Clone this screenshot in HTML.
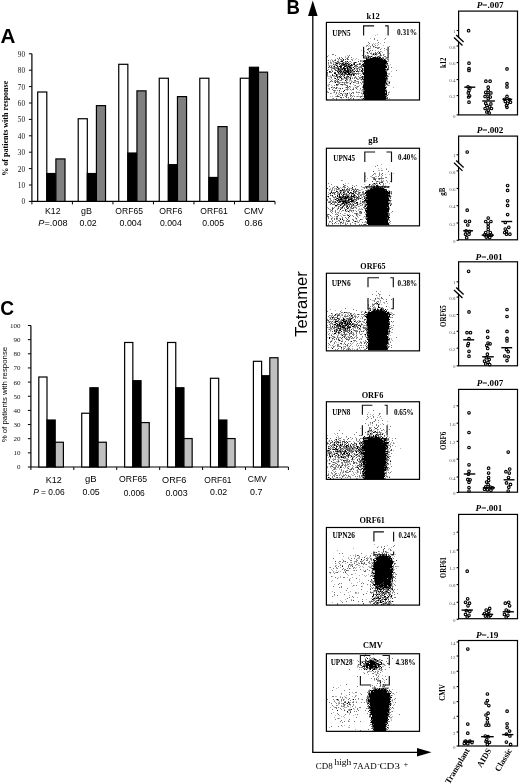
<!DOCTYPE html>
<html><head><meta charset="utf-8"><style>
html,body{margin:0;padding:0;background:#fff;width:520px;height:784px;overflow:hidden}
svg{display:block;will-change:transform}
</style></head><body>
<svg width="520" height="784" viewBox="0 0 520 784">
<defs><filter id="sb" x="0" y="0" width="1" height="1"><feGaussianBlur stdDeviation="0.35"/></filter></defs>
<rect width="520" height="784" fill="#fff"/>
<line x1="31.9" y1="53.80000000000001" x2="31.9" y2="201.4" stroke="#000" stroke-width="1.2"/>
<line x1="28.9" y1="201.4" x2="31.9" y2="201.4" stroke="#000" stroke-width="1"/>
<text x="25" y="204.3" font-family='"Liberation Serif", serif' font-size="7.2" font-weight="normal" font-style="normal" text-anchor="end" fill="#111" >0</text>
<line x1="28.9" y1="185.0" x2="31.9" y2="185.0" stroke="#000" stroke-width="1"/>
<text x="25" y="187.9" font-family='"Liberation Serif", serif' font-size="7.2" font-weight="normal" font-style="normal" text-anchor="end" fill="#111" >10</text>
<line x1="28.9" y1="168.60000000000002" x2="31.9" y2="168.60000000000002" stroke="#000" stroke-width="1"/>
<text x="25" y="171.50000000000003" font-family='"Liberation Serif", serif' font-size="7.2" font-weight="normal" font-style="normal" text-anchor="end" fill="#111" >20</text>
<line x1="28.9" y1="152.20000000000002" x2="31.9" y2="152.20000000000002" stroke="#000" stroke-width="1"/>
<text x="25" y="155.10000000000002" font-family='"Liberation Serif", serif' font-size="7.2" font-weight="normal" font-style="normal" text-anchor="end" fill="#111" >30</text>
<line x1="28.9" y1="135.8" x2="31.9" y2="135.8" stroke="#000" stroke-width="1"/>
<text x="25" y="138.70000000000002" font-family='"Liberation Serif", serif' font-size="7.2" font-weight="normal" font-style="normal" text-anchor="end" fill="#111" >40</text>
<line x1="28.9" y1="119.4" x2="31.9" y2="119.4" stroke="#000" stroke-width="1"/>
<text x="25" y="122.30000000000001" font-family='"Liberation Serif", serif' font-size="7.2" font-weight="normal" font-style="normal" text-anchor="end" fill="#111" >50</text>
<line x1="28.9" y1="103.00000000000001" x2="31.9" y2="103.00000000000001" stroke="#000" stroke-width="1"/>
<text x="25" y="105.90000000000002" font-family='"Liberation Serif", serif' font-size="7.2" font-weight="normal" font-style="normal" text-anchor="end" fill="#111" >60</text>
<line x1="28.9" y1="86.60000000000001" x2="31.9" y2="86.60000000000001" stroke="#000" stroke-width="1"/>
<text x="25" y="89.50000000000001" font-family='"Liberation Serif", serif' font-size="7.2" font-weight="normal" font-style="normal" text-anchor="end" fill="#111" >70</text>
<line x1="28.9" y1="70.20000000000002" x2="31.9" y2="70.20000000000002" stroke="#000" stroke-width="1"/>
<text x="25" y="73.10000000000002" font-family='"Liberation Serif", serif' font-size="7.2" font-weight="normal" font-style="normal" text-anchor="end" fill="#111" >80</text>
<line x1="28.9" y1="53.80000000000001" x2="31.9" y2="53.80000000000001" stroke="#000" stroke-width="1"/>
<text x="25" y="56.70000000000001" font-family='"Liberation Serif", serif' font-size="7.2" font-weight="normal" font-style="normal" text-anchor="end" fill="#111" >90</text>
<line x1="31.9" y1="201.4" x2="275.02" y2="201.4" stroke="#000" stroke-width="1.2"/>
<line x1="31.9" y1="201.4" x2="31.9" y2="204.4" stroke="#000" stroke-width="1"/>
<line x1="72.42" y1="201.4" x2="72.42" y2="204.4" stroke="#000" stroke-width="1"/>
<line x1="112.94" y1="201.4" x2="112.94" y2="204.4" stroke="#000" stroke-width="1"/>
<line x1="153.46" y1="201.4" x2="153.46" y2="204.4" stroke="#000" stroke-width="1"/>
<line x1="193.98000000000002" y1="201.4" x2="193.98000000000002" y2="204.4" stroke="#000" stroke-width="1"/>
<line x1="234.50000000000003" y1="201.4" x2="234.50000000000003" y2="204.4" stroke="#000" stroke-width="1"/>
<line x1="275.02" y1="201.4" x2="275.02" y2="204.4" stroke="#000" stroke-width="1"/>
<rect x="37.70" y="92.01" width="9.10" height="109.39" fill="#fff" stroke="#000" stroke-width="1.2"/>
<rect x="46.80" y="173.52" width="9.10" height="27.88" fill="#000" stroke="#000" stroke-width="1.2"/>
<rect x="55.90" y="158.92" width="9.10" height="42.48" fill="#808080" stroke="#000" stroke-width="1.2"/>
<rect x="78.22" y="118.74" width="9.10" height="82.66" fill="#fff" stroke="#000" stroke-width="1.2"/>
<rect x="87.32" y="173.52" width="9.10" height="27.88" fill="#000" stroke="#000" stroke-width="1.2"/>
<rect x="96.42" y="105.62" width="9.10" height="95.78" fill="#808080" stroke="#000" stroke-width="1.2"/>
<rect x="118.74" y="64.30" width="9.10" height="137.10" fill="#fff" stroke="#000" stroke-width="1.2"/>
<rect x="127.84" y="153.02" width="9.10" height="48.38" fill="#000" stroke="#000" stroke-width="1.2"/>
<rect x="136.94" y="90.86" width="9.10" height="110.54" fill="#808080" stroke="#000" stroke-width="1.2"/>
<rect x="159.26" y="78.24" width="9.10" height="123.16" fill="#fff" stroke="#000" stroke-width="1.2"/>
<rect x="168.36" y="164.66" width="9.10" height="36.74" fill="#000" stroke="#000" stroke-width="1.2"/>
<rect x="177.46" y="96.60" width="9.10" height="104.80" fill="#808080" stroke="#000" stroke-width="1.2"/>
<rect x="199.78" y="78.24" width="9.10" height="123.16" fill="#fff" stroke="#000" stroke-width="1.2"/>
<rect x="208.88" y="177.46" width="9.10" height="23.94" fill="#000" stroke="#000" stroke-width="1.2"/>
<rect x="217.98" y="126.62" width="9.10" height="74.78" fill="#808080" stroke="#000" stroke-width="1.2"/>
<rect x="240.30" y="78.24" width="9.10" height="123.16" fill="#fff" stroke="#000" stroke-width="1.2"/>
<rect x="249.40" y="67.25" width="9.10" height="134.15" fill="#000" stroke="#000" stroke-width="1.2"/>
<rect x="258.50" y="72.17" width="9.10" height="129.23" fill="#808080" stroke="#000" stroke-width="1.2"/>
<text transform="translate(8.4,128.2) rotate(-90)" font-family='"Liberation Serif", serif' font-size="7.5" font-weight="bold" text-anchor="middle" textLength="95" lengthAdjust="spacingAndGlyphs">% of patients with response</text>
<line x1="30.9" y1="325.5" x2="30.9" y2="467" stroke="#000" stroke-width="1.2"/>
<line x1="27.9" y1="467.0" x2="30.9" y2="467.0" stroke="#000" stroke-width="1"/>
<text x="20.4" y="469.4" font-family='"Liberation Serif", serif' font-size="7.0" font-weight="normal" font-style="normal" text-anchor="end" fill="#111" >0</text>
<line x1="27.9" y1="452.85" x2="30.9" y2="452.85" stroke="#000" stroke-width="1"/>
<text x="20.4" y="455.25" font-family='"Liberation Serif", serif' font-size="7.0" font-weight="normal" font-style="normal" text-anchor="end" fill="#111" >10</text>
<line x1="27.9" y1="438.7" x2="30.9" y2="438.7" stroke="#000" stroke-width="1"/>
<text x="20.4" y="441.09999999999997" font-family='"Liberation Serif", serif' font-size="7.0" font-weight="normal" font-style="normal" text-anchor="end" fill="#111" >20</text>
<line x1="27.9" y1="424.55" x2="30.9" y2="424.55" stroke="#000" stroke-width="1"/>
<text x="20.4" y="426.95" font-family='"Liberation Serif", serif' font-size="7.0" font-weight="normal" font-style="normal" text-anchor="end" fill="#111" >30</text>
<line x1="27.9" y1="410.4" x2="30.9" y2="410.4" stroke="#000" stroke-width="1"/>
<text x="20.4" y="412.79999999999995" font-family='"Liberation Serif", serif' font-size="7.0" font-weight="normal" font-style="normal" text-anchor="end" fill="#111" >40</text>
<line x1="27.9" y1="396.25" x2="30.9" y2="396.25" stroke="#000" stroke-width="1"/>
<text x="20.4" y="398.65" font-family='"Liberation Serif", serif' font-size="7.0" font-weight="normal" font-style="normal" text-anchor="end" fill="#111" >50</text>
<line x1="27.9" y1="382.1" x2="30.9" y2="382.1" stroke="#000" stroke-width="1"/>
<text x="20.4" y="384.5" font-family='"Liberation Serif", serif' font-size="7.0" font-weight="normal" font-style="normal" text-anchor="end" fill="#111" >60</text>
<line x1="27.9" y1="367.95" x2="30.9" y2="367.95" stroke="#000" stroke-width="1"/>
<text x="20.4" y="370.34999999999997" font-family='"Liberation Serif", serif' font-size="7.0" font-weight="normal" font-style="normal" text-anchor="end" fill="#111" >70</text>
<line x1="27.9" y1="353.8" x2="30.9" y2="353.8" stroke="#000" stroke-width="1"/>
<text x="20.4" y="356.2" font-family='"Liberation Serif", serif' font-size="7.0" font-weight="normal" font-style="normal" text-anchor="end" fill="#111" >80</text>
<line x1="27.9" y1="339.65" x2="30.9" y2="339.65" stroke="#000" stroke-width="1"/>
<text x="20.4" y="342.04999999999995" font-family='"Liberation Serif", serif' font-size="7.0" font-weight="normal" font-style="normal" text-anchor="end" fill="#111" >90</text>
<line x1="27.9" y1="325.5" x2="30.9" y2="325.5" stroke="#000" stroke-width="1"/>
<text x="20.4" y="327.9" font-family='"Liberation Serif", serif' font-size="7.0" font-weight="normal" font-style="normal" text-anchor="end" fill="#111" >100</text>
<line x1="30.9" y1="467" x2="288.41999999999996" y2="467" stroke="#000" stroke-width="1.2"/>
<line x1="30.9" y1="467" x2="30.9" y2="470" stroke="#000" stroke-width="1"/>
<line x1="73.82" y1="467" x2="73.82" y2="470" stroke="#000" stroke-width="1"/>
<line x1="116.74000000000001" y1="467" x2="116.74000000000001" y2="470" stroke="#000" stroke-width="1"/>
<line x1="159.66" y1="467" x2="159.66" y2="470" stroke="#000" stroke-width="1"/>
<line x1="202.58" y1="467" x2="202.58" y2="470" stroke="#000" stroke-width="1"/>
<line x1="245.50000000000003" y1="467" x2="245.50000000000003" y2="470" stroke="#000" stroke-width="1"/>
<line x1="288.41999999999996" y1="467" x2="288.41999999999996" y2="470" stroke="#000" stroke-width="1"/>
<rect x="38.80" y="377.01" width="8.20" height="89.99" fill="#fff" stroke="#000" stroke-width="1.2"/>
<rect x="47.00" y="420.02" width="8.20" height="46.98" fill="#000" stroke="#000" stroke-width="1.2"/>
<rect x="55.20" y="442.24" width="8.20" height="24.76" fill="#c0c0c0" stroke="#000" stroke-width="1.2"/>
<rect x="81.72" y="413.23" width="8.20" height="53.77" fill="#fff" stroke="#000" stroke-width="1.2"/>
<rect x="89.92" y="387.76" width="8.20" height="79.24" fill="#000" stroke="#000" stroke-width="1.2"/>
<rect x="98.12" y="442.24" width="8.20" height="24.76" fill="#c0c0c0" stroke="#000" stroke-width="1.2"/>
<rect x="124.64" y="342.48" width="8.20" height="124.52" fill="#fff" stroke="#000" stroke-width="1.2"/>
<rect x="132.84" y="380.69" width="8.20" height="86.31" fill="#000" stroke="#000" stroke-width="1.2"/>
<rect x="141.04" y="422.57" width="8.20" height="44.43" fill="#c0c0c0" stroke="#000" stroke-width="1.2"/>
<rect x="167.56" y="342.48" width="8.20" height="124.52" fill="#fff" stroke="#000" stroke-width="1.2"/>
<rect x="175.76" y="387.76" width="8.20" height="79.24" fill="#000" stroke="#000" stroke-width="1.2"/>
<rect x="183.96" y="438.56" width="8.20" height="28.44" fill="#c0c0c0" stroke="#000" stroke-width="1.2"/>
<rect x="210.48" y="378.28" width="8.20" height="88.72" fill="#fff" stroke="#000" stroke-width="1.2"/>
<rect x="218.68" y="420.02" width="8.20" height="46.98" fill="#000" stroke="#000" stroke-width="1.2"/>
<rect x="226.88" y="438.56" width="8.20" height="28.44" fill="#c0c0c0" stroke="#000" stroke-width="1.2"/>
<rect x="253.40" y="361.30" width="8.20" height="105.70" fill="#fff" stroke="#000" stroke-width="1.2"/>
<rect x="261.60" y="375.73" width="8.20" height="91.27" fill="#000" stroke="#000" stroke-width="1.2"/>
<rect x="269.80" y="357.76" width="8.20" height="109.24" fill="#c0c0c0" stroke="#000" stroke-width="1.2"/>
<text transform="translate(6.9,394.6) rotate(-90)" font-family='"Liberation Sans", sans-serif' font-size="7.6" font-weight="normal" text-anchor="middle" textLength="95.5" lengthAdjust="spacingAndGlyphs">% of patients with response</text>
<line x1="312.8" y1="12" x2="312.8" y2="752.3" stroke="#000" stroke-width="1.3"/>
<polygon points="312.8,0.5 308,16 317.6,16" fill="#000"/>
<line x1="312.2" y1="752.3" x2="420" y2="752.3" stroke="#000" stroke-width="1.3"/>
<polygon points="431.5,752.3 417,748 417,756.6" fill="#000"/>
<text transform="translate(307.3,304) rotate(-90)" font-family='"Liberation Sans", sans-serif' font-size="16.6" text-anchor="middle">Tetramer</text>
<text x="315.8" y="768.8" font-family='"Liberation Serif", serif' font-size="8.8" textLength="16.80000000000001" lengthAdjust="spacingAndGlyphs">CD8</text>
<text x="334.5" y="764.6" font-family='"Liberation Serif", serif' font-size="8.8" textLength="16.80000000000001" lengthAdjust="spacingAndGlyphs">high</text>
<text x="352.9" y="768.8" font-family='"Liberation Serif", serif' font-size="8.8" textLength="23.900000000000034" lengthAdjust="spacingAndGlyphs">7AAD</text>
<text x="377.6" y="766.0" font-family='"Liberation Serif", serif' font-size="6.5" textLength="2.1999999999999886" lengthAdjust="spacingAndGlyphs">-</text>
<text x="379.4" y="768.8" font-family='"Liberation Serif", serif' font-size="8.8" textLength="20.5" lengthAdjust="spacingAndGlyphs">CD3</text>
<text x="403.5" y="766.6" font-family='"Liberation Serif", serif' font-size="8.0" textLength="4.800000000000011" lengthAdjust="spacingAndGlyphs">+</text>
<g filter="url(#sb)"><path d="M377 34h1v1h-1zM375 35h1v1h-1zM370 38h1v1h-1zM384 39h1v1h-1zM373 43h1v1h-1zM375 43h1v1h-1zM377 43h1v1h-1zM380 43h1v1h-1zM368 44h1v1h-1zM374 44h1v1h-1zM378 44h1v1h-1zM366 45h1v1h-1zM369 45h1v1h-1zM377 45h1v1h-1zM383 45h1v1h-1zM368 46h1v1h-1zM374 46h1v1h-1zM370 47h1v1h-1zM373 47h1v1h-1zM377 47h1v1h-1zM370 48h1v1h-1zM381 48h1v1h-1zM361 50h1v1h-1zM368 50h1v1h-1zM375 50h1v1h-1zM384 50h1v1h-1zM387 50h1v1h-1zM364 51h1v1h-1zM381 51h1v1h-1zM366 52h1v1h-1zM369 52h1v1h-1zM371 52h1v1h-1zM382 52h1v1h-1zM368 53h1v1h-1zM374 53h1v1h-1zM389 53h1v1h-1zM371 54h2v1h-2zM374 54h1v1h-1zM377 54h1v1h-1zM384 54h1v1h-1zM328 55h1v1h-1zM347 55h1v1h-1zM372 55h1v1h-1zM374 55h1v1h-1zM376 55h1v1h-1zM379 55h1v1h-1zM345 56h1v1h-1zM364 56h1v1h-1zM367 56h1v1h-1zM372 56h1v1h-1zM380 56h1v1h-1zM345 57h1v1h-1zM347 57h1v1h-1zM369 57h1v1h-1zM346 58h1v1h-1zM353 58h1v1h-1zM356 58h1v1h-1zM367 58h1v1h-1zM385 58h1v1h-1zM331 59h1v1h-1zM352 59h1v1h-1zM355 59h1v1h-1zM358 59h1v1h-1zM330 60h1v1h-1zM338 60h1v1h-1zM361 60h2v1h-2zM386 60h1v1h-1zM330 61h1v1h-1zM332 61h1v1h-1zM346 61h1v1h-1zM349 61h1v1h-1zM361 61h2v1h-2zM388 61h1v1h-1zM331 62h1v1h-1zM333 62h2v1h-2zM337 62h1v1h-1zM342 62h1v1h-1zM344 62h1v1h-1zM351 62h1v1h-1zM353 62h1v1h-1zM362 62h1v1h-1zM330 63h1v1h-1zM333 63h1v1h-1zM335 63h1v1h-1zM338 63h1v1h-1zM344 63h1v1h-1zM348 63h1v1h-1zM328 64h1v1h-1zM334 64h1v1h-1zM336 64h2v1h-2zM347 64h1v1h-1zM352 64h1v1h-1zM356 64h1v1h-1zM358 64h1v1h-1zM390 64h1v1h-1zM328 65h5v1h-5zM334 65h2v1h-2zM354 65h1v1h-1zM386 65h1v1h-1zM338 66h1v1h-1zM351 66h1v1h-1zM359 66h1v1h-1zM329 67h1v1h-1zM332 67h2v1h-2zM348 67h1v1h-1zM352 67h1v1h-1zM355 67h2v1h-2zM331 68h1v1h-1zM335 68h1v1h-1zM355 68h1v1h-1zM358 68h2v1h-2zM361 68h1v1h-1zM363 68h1v1h-1zM337 69h1v1h-1zM343 69h1v1h-1zM351 69h1v1h-1zM356 69h1v1h-1zM360 69h1v1h-1zM363 69h1v1h-1zM331 70h2v1h-2zM342 70h1v1h-1zM353 70h1v1h-1zM359 70h1v1h-1zM342 71h1v1h-1zM352 71h1v1h-1zM359 71h2v1h-2zM391 71h1v1h-1zM337 72h1v1h-1zM339 72h1v1h-1zM353 72h2v1h-2zM358 72h1v1h-1zM343 73h1v1h-1zM350 73h2v1h-2zM359 73h2v1h-2zM387 73h3v1h-3zM335 74h1v1h-1zM338 74h1v1h-1zM361 74h1v1h-1zM388 74h2v1h-2zM330 75h1v1h-1zM333 75h1v1h-1zM343 75h1v1h-1zM349 75h1v1h-1zM327 76h5v1h-5zM333 76h2v1h-2zM344 76h1v1h-1zM350 76h2v1h-2zM361 76h1v1h-1zM391 76h1v1h-1zM330 77h1v1h-1zM334 77h1v1h-1zM338 77h1v1h-1zM341 77h1v1h-1zM345 77h1v1h-1zM348 77h1v1h-1zM352 77h1v1h-1zM356 77h1v1h-1zM387 77h1v1h-1zM328 78h2v1h-2zM331 78h1v1h-1zM339 78h1v1h-1zM342 78h3v1h-3zM347 78h2v1h-2zM357 78h1v1h-1zM360 78h1v1h-1zM363 78h1v1h-1zM330 79h1v1h-1zM332 79h1v1h-1zM337 79h1v1h-1zM343 79h1v1h-1zM349 79h1v1h-1zM360 79h1v1h-1zM334 80h1v1h-1zM339 80h1v1h-1zM346 80h2v1h-2zM349 80h3v1h-3zM361 80h1v1h-1zM387 80h1v1h-1zM331 81h1v1h-1zM335 81h1v1h-1zM349 81h1v1h-1zM351 81h2v1h-2zM354 81h3v1h-3zM386 81h1v1h-1zM388 81h2v1h-2zM334 82h1v1h-1zM340 82h2v1h-2zM343 82h1v1h-1zM345 82h1v1h-1zM348 82h1v1h-1zM355 82h1v1h-1zM388 82h1v1h-1zM338 83h1v1h-1zM346 83h2v1h-2zM349 83h1v1h-1zM356 83h2v1h-2zM387 83h2v1h-2zM328 84h1v1h-1zM343 84h1v1h-1zM350 84h1v1h-1zM353 84h1v1h-1zM361 84h1v1h-1zM327 85h2v1h-2zM331 85h1v1h-1zM342 85h1v1h-1zM345 85h1v1h-1zM354 85h1v1h-1zM359 85h1v1h-1zM387 85h1v1h-1zM389 85h1v1h-1zM328 86h1v1h-1zM332 86h1v1h-1zM350 86h1v1h-1zM356 86h1v1h-1zM362 86h1v1h-1zM385 86h2v1h-2zM332 87h2v1h-2zM337 87h1v1h-1zM345 87h1v1h-1zM350 87h1v1h-1zM353 87h1v1h-1zM356 87h2v1h-2zM393 87h1v1h-1zM328 88h1v1h-1zM333 88h1v1h-1zM338 88h2v1h-2zM349 88h1v1h-1zM340 89h1v1h-1zM345 89h1v1h-1zM348 89h1v1h-1zM357 89h1v1h-1zM360 89h1v1h-1zM386 89h1v1h-1zM347 90h1v1h-1zM351 90h1v1h-1zM359 90h1v1h-1zM361 90h2v1h-2zM339 91h1v1h-1zM341 91h1v1h-1zM356 91h1v1h-1zM362 91h1v1h-1zM389 91h1v1h-1zM327 92h1v1h-1zM333 92h1v1h-1zM349 92h1v1h-1zM357 92h1v1h-1zM361 92h1v1h-1zM385 92h1v1h-1zM389 92h1v1h-1zM331 93h1v1h-1zM338 93h1v1h-1zM343 93h2v1h-2zM346 93h1v1h-1zM349 93h1v1h-1zM362 93h1v1h-1zM388 93h1v1h-1zM335 94h1v1h-1zM338 94h2v1h-2zM345 94h1v1h-1zM347 94h1v1h-1zM358 94h1v1h-1zM362 94h2v1h-2zM344 95h1v1h-1zM347 95h1v1h-1zM353 95h1v1h-1zM362 95h1v1h-1zM330 96h1v1h-1zM332 96h1v1h-1zM335 96h1v1h-1zM339 96h1v1h-1zM356 96h1v1h-1zM358 96h2v1h-2zM362 96h2v1h-2zM351 97h1v1h-1zM386 97h1v1h-1zM332 98h1v1h-1zM341 98h1v1h-1zM348 98h1v1h-1zM351 98h1v1h-1zM361 98h2v1h-2zM389 98h1v1h-1zM327 99h1v1h-1zM342 99h1v1h-1zM356 99h1v1h-1zM359 99h1v1h-1zM363 99h1v1h-1z" fill="#b4b4b4"/><path d="M374 38h1v1h-1zM385 38h1v1h-1zM374 39h1v1h-1zM377 40h1v1h-1zM368 42h1v1h-1zM378 42h1v1h-1zM384 42h1v1h-1zM369 43h1v1h-1zM372 44h1v1h-1zM367 45h1v1h-1zM372 45h1v1h-1zM375 45h1v1h-1zM366 46h1v1h-1zM370 46h1v1h-1zM389 46h1v1h-1zM376 47h1v1h-1zM378 47h2v1h-2zM369 48h1v1h-1zM377 48h2v1h-2zM384 48h1v1h-1zM368 49h1v1h-1zM380 49h1v1h-1zM386 49h1v1h-1zM370 50h1v1h-1zM372 50h1v1h-1zM378 51h1v1h-1zM380 51h1v1h-1zM377 52h1v1h-1zM367 53h1v1h-1zM370 53h2v1h-2zM375 53h1v1h-1zM378 53h1v1h-1zM380 53h1v1h-1zM332 54h2v1h-2zM376 54h1v1h-1zM383 54h1v1h-1zM335 55h1v1h-1zM349 55h1v1h-1zM362 55h1v1h-1zM365 55h1v1h-1zM367 55h2v1h-2zM381 55h1v1h-1zM383 55h1v1h-1zM327 56h1v1h-1zM348 56h1v1h-1zM365 56h2v1h-2zM370 56h1v1h-1zM375 56h1v1h-1zM377 56h1v1h-1zM379 56h1v1h-1zM384 56h2v1h-2zM339 57h1v1h-1zM341 57h1v1h-1zM348 57h1v1h-1zM351 57h1v1h-1zM366 57h1v1h-1zM372 57h1v1h-1zM378 57h1v1h-1zM382 57h2v1h-2zM337 58h1v1h-1zM368 58h2v1h-2zM382 58h1v1h-1zM335 59h1v1h-1zM338 59h1v1h-1zM340 59h2v1h-2zM348 59h1v1h-1zM351 59h1v1h-1zM383 59h1v1h-1zM385 59h1v1h-1zM387 59h2v1h-2zM332 60h1v1h-1zM334 60h1v1h-1zM341 60h2v1h-2zM352 60h1v1h-1zM360 60h1v1h-1zM363 60h1v1h-1zM388 60h1v1h-1zM333 61h1v1h-1zM338 61h1v1h-1zM340 61h1v1h-1zM350 61h1v1h-1zM360 61h1v1h-1zM387 61h1v1h-1zM328 62h1v1h-1zM330 62h1v1h-1zM336 62h1v1h-1zM339 62h1v1h-1zM345 62h2v1h-2zM356 62h1v1h-1zM328 63h1v1h-1zM331 63h1v1h-1zM339 63h1v1h-1zM341 63h1v1h-1zM349 63h2v1h-2zM353 63h1v1h-1zM360 63h1v1h-1zM360 64h1v1h-1zM386 64h2v1h-2zM337 65h1v1h-1zM347 65h1v1h-1zM349 65h1v1h-1zM362 65h1v1h-1zM387 65h2v1h-2zM333 66h1v1h-1zM355 66h2v1h-2zM360 66h3v1h-3zM388 66h1v1h-1zM330 67h1v1h-1zM334 67h5v1h-5zM346 67h1v1h-1zM351 67h1v1h-1zM358 67h3v1h-3zM391 67h1v1h-1zM332 68h1v1h-1zM336 68h1v1h-1zM339 68h2v1h-2zM346 68h1v1h-1zM349 68h1v1h-1zM356 68h1v1h-1zM385 68h1v1h-1zM387 68h2v1h-2zM328 69h1v1h-1zM331 69h1v1h-1zM334 69h2v1h-2zM353 69h2v1h-2zM357 69h1v1h-1zM386 69h1v1h-1zM337 70h1v1h-1zM339 70h1v1h-1zM341 70h1v1h-1zM343 70h1v1h-1zM349 70h1v1h-1zM351 70h1v1h-1zM355 70h1v1h-1zM363 70h1v1h-1zM386 70h2v1h-2zM396 70h1v1h-1zM338 71h1v1h-1zM344 71h1v1h-1zM330 72h2v1h-2zM341 72h1v1h-1zM349 72h1v1h-1zM351 72h2v1h-2zM362 72h1v1h-1zM327 73h1v1h-1zM339 73h3v1h-3zM354 73h1v1h-1zM356 73h3v1h-3zM327 74h1v1h-1zM337 74h1v1h-1zM339 74h2v1h-2zM343 74h1v1h-1zM345 74h1v1h-1zM352 74h1v1h-1zM356 74h1v1h-1zM358 74h1v1h-1zM327 75h1v1h-1zM334 75h1v1h-1zM337 75h1v1h-1zM342 75h1v1h-1zM347 75h1v1h-1zM350 75h1v1h-1zM354 75h1v1h-1zM360 75h1v1h-1zM335 76h1v1h-1zM337 76h2v1h-2zM340 76h1v1h-1zM343 76h1v1h-1zM346 76h1v1h-1zM355 76h1v1h-1zM358 76h1v1h-1zM363 76h1v1h-1zM388 76h1v1h-1zM331 77h1v1h-1zM339 77h1v1h-1zM347 77h1v1h-1zM349 77h1v1h-1zM354 77h2v1h-2zM359 77h2v1h-2zM363 77h1v1h-1zM334 78h1v1h-1zM337 78h1v1h-1zM352 78h1v1h-1zM354 78h1v1h-1zM359 78h1v1h-1zM336 79h1v1h-1zM341 79h2v1h-2zM347 79h1v1h-1zM350 79h1v1h-1zM357 79h2v1h-2zM362 79h1v1h-1zM387 79h1v1h-1zM331 80h1v1h-1zM337 80h1v1h-1zM340 80h2v1h-2zM354 80h1v1h-1zM363 80h1v1h-1zM386 80h1v1h-1zM332 81h1v1h-1zM334 81h1v1h-1zM336 81h1v1h-1zM338 81h1v1h-1zM346 81h1v1h-1zM357 81h2v1h-2zM362 81h1v1h-1zM387 81h1v1h-1zM329 82h1v1h-1zM337 82h3v1h-3zM344 82h1v1h-1zM347 82h1v1h-1zM351 82h1v1h-1zM354 82h1v1h-1zM358 82h1v1h-1zM360 82h1v1h-1zM362 82h1v1h-1zM386 82h1v1h-1zM339 83h1v1h-1zM344 83h1v1h-1zM358 83h1v1h-1zM361 83h1v1h-1zM363 83h1v1h-1zM389 83h1v1h-1zM329 84h1v1h-1zM338 84h1v1h-1zM340 84h1v1h-1zM344 84h2v1h-2zM385 84h1v1h-1zM334 85h1v1h-1zM336 85h2v1h-2zM346 85h2v1h-2zM355 85h1v1h-1zM388 85h1v1h-1zM357 86h2v1h-2zM347 87h2v1h-2zM355 87h1v1h-1zM362 87h1v1h-1zM329 88h1v1h-1zM335 88h1v1h-1zM347 88h1v1h-1zM353 88h1v1h-1zM360 88h1v1h-1zM329 89h1v1h-1zM332 89h1v1h-1zM346 89h2v1h-2zM350 89h1v1h-1zM352 89h1v1h-1zM362 89h1v1h-1zM385 89h1v1h-1zM333 90h3v1h-3zM337 90h1v1h-1zM363 90h1v1h-1zM327 91h1v1h-1zM334 91h1v1h-1zM328 92h1v1h-1zM334 92h1v1h-1zM336 92h1v1h-1zM339 92h1v1h-1zM352 92h2v1h-2zM356 92h1v1h-1zM358 92h2v1h-2zM388 92h1v1h-1zM330 93h1v1h-1zM336 93h1v1h-1zM340 93h1v1h-1zM345 93h1v1h-1zM353 93h1v1h-1zM361 93h1v1h-1zM346 94h1v1h-1zM350 94h1v1h-1zM388 94h1v1h-1zM337 95h1v1h-1zM340 95h1v1h-1zM350 95h2v1h-2zM386 95h1v1h-1zM336 96h1v1h-1zM345 96h2v1h-2zM350 96h1v1h-1zM352 96h1v1h-1zM354 96h1v1h-1zM357 96h1v1h-1zM360 96h1v1h-1zM343 97h1v1h-1zM348 97h1v1h-1zM360 97h1v1h-1zM333 98h1v1h-1zM336 98h1v1h-1zM350 98h1v1h-1zM336 99h1v1h-1zM346 99h1v1h-1zM348 99h2v1h-2zM353 99h1v1h-1zM358 99h1v1h-1z" fill="#7c7c7c"/><path d="M373 46h1v1h-1zM375 47h1v1h-1zM368 48h1v1h-1zM367 49h1v1h-1zM369 51h1v1h-1zM367 52h1v1h-1zM375 52h1v1h-1zM373 53h1v1h-1zM376 53h1v1h-1zM379 53h1v1h-1zM380 54h1v1h-1zM380 55h1v1h-1zM368 56h2v1h-2zM378 56h1v1h-1zM370 57h1v1h-1zM376 57h1v1h-1zM339 58h1v1h-1zM342 58h1v1h-1zM347 58h1v1h-1zM380 58h1v1h-1zM383 58h1v1h-1zM345 59h1v1h-1zM347 59h1v1h-1zM328 60h1v1h-1zM335 60h1v1h-1zM343 60h1v1h-1zM337 61h1v1h-1zM345 61h1v1h-1zM358 61h1v1h-1zM335 62h1v1h-1zM338 62h1v1h-1zM343 62h1v1h-1zM348 62h1v1h-1zM354 62h1v1h-1zM340 63h1v1h-1zM343 63h1v1h-1zM346 63h1v1h-1zM359 63h1v1h-1zM363 63h1v1h-1zM386 63h1v1h-1zM333 64h1v1h-1zM335 64h1v1h-1zM339 64h1v1h-1zM341 64h2v1h-2zM345 64h2v1h-2zM349 64h1v1h-1zM353 64h1v1h-1zM357 64h1v1h-1zM359 64h1v1h-1zM364 64h1v1h-1zM385 64h1v1h-1zM340 65h6v1h-6zM348 65h1v1h-1zM352 65h1v1h-1zM355 65h2v1h-2zM361 65h1v1h-1zM329 66h1v1h-1zM331 66h1v1h-1zM346 66h2v1h-2zM350 66h1v1h-1zM354 66h1v1h-1zM357 66h1v1h-1zM328 67h1v1h-1zM331 67h1v1h-1zM341 67h1v1h-1zM344 67h1v1h-1zM361 67h1v1h-1zM388 67h1v1h-1zM333 68h2v1h-2zM337 68h1v1h-1zM341 68h2v1h-2zM348 68h1v1h-1zM350 68h1v1h-1zM357 68h1v1h-1zM339 69h3v1h-3zM345 69h1v1h-1zM348 69h3v1h-3zM352 69h1v1h-1zM359 69h1v1h-1zM388 69h1v1h-1zM327 70h1v1h-1zM335 70h2v1h-2zM338 70h1v1h-1zM346 70h1v1h-1zM357 70h1v1h-1zM362 70h1v1h-1zM385 70h1v1h-1zM330 71h1v1h-1zM332 71h1v1h-1zM340 71h1v1h-1zM345 71h1v1h-1zM349 71h3v1h-3zM353 71h1v1h-1zM357 71h2v1h-2zM361 71h1v1h-1zM386 71h1v1h-1zM327 72h1v1h-1zM329 72h1v1h-1zM334 72h2v1h-2zM342 72h2v1h-2zM346 72h1v1h-1zM363 72h1v1h-1zM338 73h1v1h-1zM344 73h1v1h-1zM346 73h1v1h-1zM352 73h2v1h-2zM355 73h1v1h-1zM362 73h1v1h-1zM332 74h1v1h-1zM342 74h1v1h-1zM344 74h1v1h-1zM346 74h1v1h-1zM350 74h1v1h-1zM354 74h1v1h-1zM340 75h1v1h-1zM351 75h1v1h-1zM387 75h1v1h-1zM336 76h1v1h-1zM341 76h1v1h-1zM347 76h1v1h-1zM386 76h2v1h-2zM346 77h1v1h-1zM350 77h1v1h-1zM361 77h2v1h-2zM385 77h1v1h-1zM345 78h2v1h-2zM356 78h1v1h-1zM387 78h1v1h-1zM346 79h1v1h-1zM361 79h1v1h-1zM386 79h1v1h-1zM335 80h1v1h-1zM355 80h1v1h-1zM330 81h1v1h-1zM337 81h1v1h-1zM363 81h1v1h-1zM342 82h1v1h-1zM346 82h1v1h-1zM353 82h1v1h-1zM363 82h1v1h-1zM385 83h1v1h-1zM337 84h1v1h-1zM341 84h2v1h-2zM363 84h1v1h-1zM386 84h2v1h-2zM385 85h1v1h-1zM347 86h1v1h-1zM349 86h1v1h-1zM331 87h1v1h-1zM334 87h1v1h-1zM336 87h1v1h-1zM346 87h1v1h-1zM386 87h1v1h-1zM336 88h1v1h-1zM340 88h1v1h-1zM342 88h1v1h-1zM356 88h1v1h-1zM363 88h1v1h-1zM353 89h1v1h-1zM363 89h1v1h-1zM339 90h1v1h-1zM364 90h1v1h-1zM386 90h1v1h-1zM363 91h1v1h-1zM385 91h1v1h-1zM363 92h1v1h-1zM341 93h1v1h-1zM351 93h1v1h-1zM342 94h1v1h-1zM342 95h1v1h-1zM346 95h1v1h-1zM385 95h1v1h-1zM387 95h1v1h-1zM337 96h2v1h-2zM361 96h1v1h-1zM386 96h1v1h-1zM340 97h2v1h-2zM346 97h1v1h-1zM387 97h1v1h-1zM353 98h1v1h-1zM364 98h1v1h-1zM386 98h2v1h-2zM362 99h1v1h-1zM385 99h1v1h-1z" fill="#484848"/><path d="M379 52h1v1h-1zM373 54h1v1h-1zM375 54h1v1h-1zM371 56h1v1h-1zM368 57h1v1h-1zM373 57h3v1h-3zM377 57h1v1h-1zM379 57h2v1h-2zM366 58h1v1h-1zM370 58h10v1h-10zM381 58h1v1h-1zM343 59h1v1h-1zM366 59h17v1h-17zM384 59h1v1h-1zM364 60h22v1h-22zM341 61h2v1h-2zM347 61h1v1h-1zM363 61h24v1h-24zM355 62h1v1h-1zM364 62h23v1h-23zM336 63h2v1h-2zM342 63h1v1h-1zM345 63h1v1h-1zM347 63h1v1h-1zM354 63h1v1h-1zM364 63h22v1h-22zM387 63h1v1h-1zM343 64h2v1h-2zM348 64h1v1h-1zM351 64h1v1h-1zM354 64h1v1h-1zM362 64h2v1h-2zM365 64h20v1h-20zM336 65h1v1h-1zM346 65h1v1h-1zM350 65h2v1h-2zM363 65h23v1h-23zM334 66h1v1h-1zM337 66h1v1h-1zM339 66h3v1h-3zM344 66h2v1h-2zM348 66h2v1h-2zM363 66h24v1h-24zM340 67h1v1h-1zM343 67h1v1h-1zM347 67h1v1h-1zM349 67h2v1h-2zM353 67h1v1h-1zM364 67h23v1h-23zM338 68h1v1h-1zM343 68h3v1h-3zM347 68h1v1h-1zM351 68h1v1h-1zM354 68h1v1h-1zM362 68h1v1h-1zM364 68h21v1h-21zM338 69h1v1h-1zM342 69h1v1h-1zM344 69h1v1h-1zM347 69h1v1h-1zM362 69h1v1h-1zM364 69h22v1h-22zM387 69h1v1h-1zM340 70h1v1h-1zM344 70h2v1h-2zM347 70h2v1h-2zM350 70h1v1h-1zM352 70h1v1h-1zM361 70h1v1h-1zM364 70h21v1h-21zM329 71h1v1h-1zM337 71h1v1h-1zM339 71h1v1h-1zM341 71h1v1h-1zM343 71h1v1h-1zM346 71h3v1h-3zM354 71h1v1h-1zM356 71h1v1h-1zM362 71h1v1h-1zM364 71h22v1h-22zM338 72h1v1h-1zM340 72h1v1h-1zM344 72h2v1h-2zM347 72h2v1h-2zM350 72h1v1h-1zM364 72h23v1h-23zM334 73h2v1h-2zM342 73h1v1h-1zM345 73h1v1h-1zM348 73h2v1h-2zM363 73h24v1h-24zM336 74h1v1h-1zM341 74h1v1h-1zM347 74h3v1h-3zM351 74h1v1h-1zM353 74h1v1h-1zM363 74h24v1h-24zM332 75h1v1h-1zM336 75h1v1h-1zM344 75h1v1h-1zM353 75h1v1h-1zM364 75h23v1h-23zM339 76h1v1h-1zM348 76h1v1h-1zM362 76h1v1h-1zM364 76h22v1h-22zM337 77h1v1h-1zM340 77h1v1h-1zM344 77h1v1h-1zM364 77h21v1h-21zM386 77h1v1h-1zM335 78h1v1h-1zM341 78h1v1h-1zM350 78h1v1h-1zM362 78h1v1h-1zM364 78h23v1h-23zM338 79h1v1h-1zM363 79h23v1h-23zM345 80h1v1h-1zM364 80h22v1h-22zM364 81h22v1h-22zM335 82h1v1h-1zM364 82h22v1h-22zM389 82h1v1h-1zM350 83h1v1h-1zM364 83h21v1h-21zM386 83h1v1h-1zM336 84h1v1h-1zM364 84h21v1h-21zM363 85h22v1h-22zM363 86h22v1h-22zM363 87h23v1h-23zM364 88h22v1h-22zM364 89h21v1h-21zM344 90h1v1h-1zM365 90h21v1h-21zM343 91h1v1h-1zM364 91h21v1h-21zM386 91h1v1h-1zM364 92h21v1h-21zM386 92h1v1h-1zM347 93h1v1h-1zM363 93h24v1h-24zM364 94h23v1h-23zM364 95h21v1h-21zM364 96h22v1h-22zM364 97h22v1h-22zM363 98h1v1h-1zM365 98h21v1h-21zM364 99h21v1h-21z" fill="#000"/></g><path d="M374.10 25.90H363.60V35.40M385.10 25.90H388.10V35.40M363.60 46.70V58.00H368.60M388.10 46.70V58.00H385.60" fill="none" stroke="#111" stroke-width="1.15"/>
<rect x="326.4" y="22.4" width="93.10000000000002" height="77.6" fill="none" stroke="#000" stroke-width="1.2"/>
<g filter="url(#sb)"><path d="M381 164h1v1h-1zM378 168h1v1h-1zM381 168h1v1h-1zM386 168h1v1h-1zM378 170h2v1h-2zM382 170h1v1h-1zM379 172h1v1h-1zM375 173h1v1h-1zM393 173h1v1h-1zM375 174h1v1h-1zM385 174h1v1h-1zM389 174h1v1h-1zM365 176h1v1h-1zM370 176h2v1h-2zM375 176h2v1h-2zM381 176h1v1h-1zM367 178h1v1h-1zM375 178h2v1h-2zM378 179h1v1h-1zM381 179h1v1h-1zM342 180h1v1h-1zM366 180h1v1h-1zM383 180h1v1h-1zM378 181h2v1h-2zM383 181h1v1h-1zM387 181h1v1h-1zM376 182h1v1h-1zM387 182h1v1h-1zM345 183h1v1h-1zM348 183h1v1h-1zM375 183h1v1h-1zM377 183h1v1h-1zM385 183h1v1h-1zM389 183h1v1h-1zM364 184h1v1h-1zM370 184h1v1h-1zM373 184h2v1h-2zM377 184h1v1h-1zM368 185h1v1h-1zM372 185h1v1h-1zM378 185h1v1h-1zM382 185h1v1h-1zM385 185h1v1h-1zM365 186h1v1h-1zM371 186h1v1h-1zM380 186h1v1h-1zM332 187h1v1h-1zM338 187h1v1h-1zM340 187h1v1h-1zM342 187h2v1h-2zM348 187h1v1h-1zM362 187h1v1h-1zM369 187h1v1h-1zM330 188h1v1h-1zM334 188h2v1h-2zM341 188h1v1h-1zM344 188h1v1h-1zM350 188h1v1h-1zM367 188h1v1h-1zM369 188h1v1h-1zM384 188h1v1h-1zM330 189h1v1h-1zM334 189h1v1h-1zM339 189h1v1h-1zM343 189h1v1h-1zM354 189h1v1h-1zM356 189h1v1h-1zM358 189h1v1h-1zM361 189h2v1h-2zM367 189h1v1h-1zM369 189h1v1h-1zM329 190h1v1h-1zM332 190h1v1h-1zM336 190h1v1h-1zM339 190h1v1h-1zM347 190h2v1h-2zM353 190h1v1h-1zM358 190h1v1h-1zM360 190h1v1h-1zM388 190h2v1h-2zM339 191h1v1h-1zM354 191h1v1h-1zM357 191h2v1h-2zM362 191h1v1h-1zM388 191h1v1h-1zM390 191h1v1h-1zM328 192h1v1h-1zM330 192h1v1h-1zM332 192h1v1h-1zM341 192h1v1h-1zM390 192h1v1h-1zM333 193h1v1h-1zM338 193h1v1h-1zM341 193h3v1h-3zM345 193h1v1h-1zM350 193h1v1h-1zM362 193h1v1h-1zM390 193h1v1h-1zM330 194h1v1h-1zM335 194h1v1h-1zM337 194h1v1h-1zM347 194h1v1h-1zM349 194h1v1h-1zM352 194h1v1h-1zM359 194h2v1h-2zM391 194h1v1h-1zM331 195h1v1h-1zM345 195h1v1h-1zM349 195h1v1h-1zM363 195h1v1h-1zM390 195h1v1h-1zM333 196h1v1h-1zM338 196h1v1h-1zM349 196h1v1h-1zM355 196h1v1h-1zM361 196h1v1h-1zM365 196h1v1h-1zM391 196h1v1h-1zM328 197h1v1h-1zM336 197h1v1h-1zM352 197h1v1h-1zM359 197h1v1h-1zM361 197h1v1h-1zM389 197h1v1h-1zM334 198h1v1h-1zM339 198h1v1h-1zM361 198h1v1h-1zM333 199h2v1h-2zM357 199h1v1h-1zM363 199h1v1h-1zM389 199h1v1h-1zM330 200h1v1h-1zM333 200h1v1h-1zM354 200h2v1h-2zM360 200h1v1h-1zM391 200h1v1h-1zM328 201h1v1h-1zM334 201h1v1h-1zM338 201h1v1h-1zM389 201h1v1h-1zM352 202h1v1h-1zM360 202h1v1h-1zM365 202h1v1h-1zM390 202h1v1h-1zM330 203h1v1h-1zM348 203h2v1h-2zM359 203h1v1h-1zM361 203h1v1h-1zM363 203h4v1h-4zM390 203h1v1h-1zM347 204h1v1h-1zM352 204h1v1h-1zM358 204h2v1h-2zM364 204h1v1h-1zM337 205h1v1h-1zM341 205h1v1h-1zM345 205h1v1h-1zM354 205h2v1h-2zM357 205h1v1h-1zM361 205h2v1h-2zM364 205h1v1h-1zM335 206h2v1h-2zM352 206h1v1h-1zM354 206h2v1h-2zM359 206h1v1h-1zM327 207h1v1h-1zM344 207h1v1h-1zM347 207h1v1h-1zM354 207h1v1h-1zM356 207h1v1h-1zM389 207h1v1h-1zM337 208h1v1h-1zM340 208h1v1h-1zM342 208h1v1h-1zM350 208h1v1h-1zM359 208h1v1h-1zM361 208h1v1h-1zM329 209h2v1h-2zM349 209h2v1h-2zM358 209h4v1h-4zM366 209h1v1h-1zM330 210h1v1h-1zM332 210h1v1h-1zM339 210h1v1h-1zM347 210h1v1h-1zM352 210h1v1h-1zM355 210h1v1h-1zM358 210h1v1h-1zM339 211h1v1h-1zM341 211h1v1h-1zM345 211h1v1h-1zM347 211h1v1h-1zM349 211h1v1h-1zM353 211h1v1h-1zM361 211h1v1h-1zM337 212h1v1h-1zM349 212h1v1h-1zM352 212h1v1h-1zM391 212h1v1h-1zM332 213h1v1h-1zM336 213h1v1h-1zM338 213h1v1h-1zM344 213h2v1h-2zM359 213h1v1h-1zM365 213h1v1h-1zM329 214h1v1h-1zM336 214h1v1h-1zM342 214h1v1h-1zM349 214h1v1h-1zM357 214h2v1h-2zM340 215h1v1h-1zM345 215h1v1h-1zM357 215h1v1h-1zM360 215h1v1h-1zM331 216h1v1h-1zM334 216h1v1h-1zM341 216h1v1h-1zM365 216h1v1h-1zM332 217h1v1h-1zM336 217h2v1h-2zM355 217h1v1h-1zM358 217h1v1h-1zM363 217h1v1h-1zM365 217h1v1h-1zM332 218h1v1h-1zM339 218h1v1h-1zM348 218h1v1h-1zM355 218h1v1h-1zM337 219h1v1h-1zM353 219h1v1h-1zM356 219h1v1h-1zM362 219h1v1h-1zM389 219h1v1h-1zM344 220h1v1h-1zM357 220h1v1h-1zM388 220h1v1h-1zM336 221h2v1h-2zM341 221h1v1h-1zM343 221h1v1h-1zM357 221h1v1h-1zM359 221h1v1h-1zM366 221h1v1h-1zM329 222h1v1h-1zM331 222h1v1h-1zM345 222h1v1h-1zM357 222h1v1h-1zM364 222h2v1h-2zM388 222h1v1h-1zM328 223h1v1h-1zM336 223h1v1h-1zM343 223h1v1h-1zM354 223h1v1h-1zM366 223h1v1h-1zM390 223h1v1h-1zM332 224h1v1h-1zM340 224h1v1h-1zM346 224h1v1h-1zM355 224h1v1h-1zM366 224h1v1h-1zM389 224h1v1h-1z" fill="#b4b4b4"/><path d="M377 165h1v1h-1zM375 166h1v1h-1zM386 169h1v1h-1zM381 170h1v1h-1zM388 171h1v1h-1zM374 173h1v1h-1zM379 173h1v1h-1zM373 174h1v1h-1zM379 174h1v1h-1zM381 174h1v1h-1zM372 175h1v1h-1zM379 175h1v1h-1zM382 175h1v1h-1zM378 176h1v1h-1zM372 177h3v1h-3zM381 177h1v1h-1zM385 177h2v1h-2zM373 178h1v1h-1zM378 178h1v1h-1zM380 178h4v1h-4zM373 179h1v1h-1zM379 179h1v1h-1zM341 180h1v1h-1zM375 180h1v1h-1zM381 180h1v1h-1zM386 180h1v1h-1zM376 181h1v1h-1zM381 181h2v1h-2zM390 181h1v1h-1zM379 182h2v1h-2zM328 183h1v1h-1zM373 183h1v1h-1zM383 183h1v1h-1zM331 184h1v1h-1zM372 184h1v1h-1zM375 184h1v1h-1zM380 184h1v1h-1zM383 184h1v1h-1zM344 185h2v1h-2zM352 185h1v1h-1zM356 185h1v1h-1zM369 185h1v1h-1zM371 185h1v1h-1zM373 185h2v1h-2zM383 185h1v1h-1zM329 186h1v1h-1zM334 186h1v1h-1zM336 186h2v1h-2zM344 186h1v1h-1zM347 186h1v1h-1zM354 186h1v1h-1zM361 186h1v1h-1zM367 186h1v1h-1zM373 186h1v1h-1zM379 186h1v1h-1zM381 186h1v1h-1zM385 186h1v1h-1zM388 186h1v1h-1zM333 187h1v1h-1zM344 187h2v1h-2zM363 187h2v1h-2zM371 187h1v1h-1zM379 187h1v1h-1zM381 187h1v1h-1zM385 187h1v1h-1zM387 187h2v1h-2zM332 188h1v1h-1zM336 188h1v1h-1zM339 188h1v1h-1zM349 188h1v1h-1zM351 188h2v1h-2zM355 188h1v1h-1zM364 188h1v1h-1zM366 188h1v1h-1zM329 189h1v1h-1zM332 189h1v1h-1zM336 189h3v1h-3zM347 189h3v1h-3zM368 189h1v1h-1zM331 190h1v1h-1zM334 190h1v1h-1zM344 190h3v1h-3zM359 190h1v1h-1zM365 190h2v1h-2zM340 191h2v1h-2zM343 191h3v1h-3zM363 191h1v1h-1zM391 191h1v1h-1zM334 192h1v1h-1zM337 192h2v1h-2zM347 192h1v1h-1zM353 192h2v1h-2zM358 192h1v1h-1zM360 192h1v1h-1zM363 192h1v1h-1zM391 192h1v1h-1zM329 193h1v1h-1zM337 193h1v1h-1zM340 193h1v1h-1zM344 193h1v1h-1zM355 193h2v1h-2zM358 193h2v1h-2zM363 193h2v1h-2zM328 194h1v1h-1zM334 194h1v1h-1zM338 194h1v1h-1zM345 194h1v1h-1zM348 194h1v1h-1zM351 194h1v1h-1zM353 194h1v1h-1zM358 194h1v1h-1zM361 194h4v1h-4zM348 195h1v1h-1zM355 195h1v1h-1zM358 195h1v1h-1zM361 195h1v1h-1zM327 196h1v1h-1zM332 196h1v1h-1zM341 196h1v1h-1zM346 196h1v1h-1zM350 196h1v1h-1zM354 196h1v1h-1zM359 196h1v1h-1zM363 196h1v1h-1zM366 196h1v1h-1zM333 197h3v1h-3zM338 197h1v1h-1zM353 197h1v1h-1zM355 197h2v1h-2zM358 197h1v1h-1zM362 197h1v1h-1zM365 197h1v1h-1zM390 197h1v1h-1zM329 198h2v1h-2zM338 198h1v1h-1zM342 198h1v1h-1zM347 198h1v1h-1zM349 198h1v1h-1zM354 198h1v1h-1zM357 198h1v1h-1zM359 198h1v1h-1zM365 198h1v1h-1zM327 199h1v1h-1zM330 199h1v1h-1zM336 199h1v1h-1zM343 199h2v1h-2zM346 199h1v1h-1zM352 199h2v1h-2zM356 199h1v1h-1zM362 199h1v1h-1zM327 200h1v1h-1zM331 200h1v1h-1zM336 200h1v1h-1zM340 200h1v1h-1zM349 200h1v1h-1zM329 201h2v1h-2zM332 201h2v1h-2zM337 201h1v1h-1zM349 201h1v1h-1zM354 201h2v1h-2zM360 201h1v1h-1zM365 201h1v1h-1zM388 201h1v1h-1zM390 201h1v1h-1zM328 202h1v1h-1zM330 202h1v1h-1zM332 202h3v1h-3zM336 202h1v1h-1zM340 202h1v1h-1zM342 202h1v1h-1zM351 202h1v1h-1zM353 202h2v1h-2zM363 202h2v1h-2zM388 202h2v1h-2zM334 203h1v1h-1zM337 203h1v1h-1zM341 203h1v1h-1zM345 203h1v1h-1zM352 203h1v1h-1zM354 203h1v1h-1zM356 203h1v1h-1zM391 203h1v1h-1zM330 204h1v1h-1zM332 204h3v1h-3zM339 204h2v1h-2zM342 204h1v1h-1zM345 204h2v1h-2zM349 204h1v1h-1zM351 204h1v1h-1zM390 204h2v1h-2zM346 205h1v1h-1zM349 205h1v1h-1zM351 205h2v1h-2zM360 205h1v1h-1zM338 206h2v1h-2zM358 206h1v1h-1zM332 207h1v1h-1zM334 207h1v1h-1zM338 207h1v1h-1zM340 207h2v1h-2zM350 207h2v1h-2zM355 207h1v1h-1zM363 207h2v1h-2zM387 207h1v1h-1zM328 208h1v1h-1zM333 208h1v1h-1zM344 208h1v1h-1zM348 208h1v1h-1zM351 208h1v1h-1zM353 208h1v1h-1zM356 208h1v1h-1zM364 208h1v1h-1zM389 208h1v1h-1zM337 209h1v1h-1zM346 209h1v1h-1zM362 209h1v1h-1zM389 209h1v1h-1zM331 210h1v1h-1zM335 210h1v1h-1zM342 210h2v1h-2zM349 210h3v1h-3zM330 211h1v1h-1zM332 211h1v1h-1zM335 211h1v1h-1zM346 211h1v1h-1zM351 211h1v1h-1zM356 211h1v1h-1zM359 211h1v1h-1zM365 211h1v1h-1zM392 211h1v1h-1zM331 212h1v1h-1zM335 212h1v1h-1zM338 212h1v1h-1zM359 212h2v1h-2zM364 212h1v1h-1zM388 212h1v1h-1zM340 213h1v1h-1zM354 213h2v1h-2zM357 213h1v1h-1zM360 213h2v1h-2zM366 213h1v1h-1zM389 213h1v1h-1zM327 214h1v1h-1zM335 214h1v1h-1zM337 214h1v1h-1zM347 214h1v1h-1zM365 214h1v1h-1zM388 214h2v1h-2zM327 215h1v1h-1zM343 215h2v1h-2zM347 215h1v1h-1zM350 215h1v1h-1zM352 215h1v1h-1zM356 215h1v1h-1zM359 215h1v1h-1zM389 215h1v1h-1zM327 216h2v1h-2zM336 216h1v1h-1zM353 216h1v1h-1zM357 216h1v1h-1zM364 216h1v1h-1zM328 217h1v1h-1zM342 217h1v1h-1zM345 217h1v1h-1zM366 217h1v1h-1zM328 218h1v1h-1zM331 218h1v1h-1zM334 218h1v1h-1zM337 218h1v1h-1zM340 218h1v1h-1zM342 218h1v1h-1zM346 218h1v1h-1zM365 218h1v1h-1zM331 219h1v1h-1zM334 219h1v1h-1zM336 219h1v1h-1zM352 219h1v1h-1zM361 219h1v1h-1zM332 220h1v1h-1zM338 220h2v1h-2zM346 220h1v1h-1zM348 220h2v1h-2zM359 220h1v1h-1zM389 220h1v1h-1zM329 221h2v1h-2zM332 221h1v1h-1zM339 221h1v1h-1zM346 221h2v1h-2zM349 221h1v1h-1zM354 221h1v1h-1zM356 221h1v1h-1zM365 221h1v1h-1zM390 221h1v1h-1zM343 222h1v1h-1zM352 222h1v1h-1zM358 222h1v1h-1zM362 222h1v1h-1zM366 222h1v1h-1zM389 222h1v1h-1zM334 223h1v1h-1zM338 223h1v1h-1zM340 223h1v1h-1zM342 223h1v1h-1zM345 223h1v1h-1zM347 223h1v1h-1zM350 223h1v1h-1zM355 223h1v1h-1zM328 224h1v1h-1zM345 224h1v1h-1zM350 224h1v1h-1zM359 224h1v1h-1zM361 224h1v1h-1zM363 224h1v1h-1z" fill="#7c7c7c"/><path d="M373 171h1v1h-1zM382 173h1v1h-1zM374 178h1v1h-1zM379 178h1v1h-1zM374 179h2v1h-2zM372 181h1v1h-1zM377 181h1v1h-1zM381 182h2v1h-2zM376 183h1v1h-1zM343 184h1v1h-1zM343 186h1v1h-1zM376 186h1v1h-1zM382 186h1v1h-1zM384 186h1v1h-1zM372 187h1v1h-1zM375 187h1v1h-1zM382 187h1v1h-1zM384 187h1v1h-1zM327 188h1v1h-1zM338 188h1v1h-1zM347 188h1v1h-1zM370 188h1v1h-1zM372 188h1v1h-1zM344 189h1v1h-1zM346 189h1v1h-1zM352 189h2v1h-2zM355 189h1v1h-1zM357 189h1v1h-1zM386 189h1v1h-1zM341 190h3v1h-3zM349 190h1v1h-1zM351 190h1v1h-1zM354 190h1v1h-1zM356 190h1v1h-1zM367 190h1v1h-1zM385 190h1v1h-1zM331 191h1v1h-1zM337 191h1v1h-1zM347 191h2v1h-2zM355 191h2v1h-2zM333 192h1v1h-1zM335 192h1v1h-1zM344 192h1v1h-1zM351 192h1v1h-1zM355 192h1v1h-1zM359 192h1v1h-1zM362 192h1v1h-1zM332 193h1v1h-1zM334 193h1v1h-1zM339 193h1v1h-1zM346 193h1v1h-1zM351 193h1v1h-1zM366 193h1v1h-1zM391 193h1v1h-1zM341 194h1v1h-1zM344 194h1v1h-1zM346 194h1v1h-1zM354 194h1v1h-1zM357 194h1v1h-1zM388 194h2v1h-2zM330 195h1v1h-1zM342 195h2v1h-2zM346 195h2v1h-2zM353 195h1v1h-1zM360 195h1v1h-1zM365 195h1v1h-1zM335 196h1v1h-1zM340 196h1v1h-1zM342 196h1v1h-1zM344 196h1v1h-1zM356 196h1v1h-1zM358 196h1v1h-1zM364 196h1v1h-1zM388 196h1v1h-1zM390 196h1v1h-1zM341 197h1v1h-1zM343 197h2v1h-2zM348 197h4v1h-4zM364 197h1v1h-1zM388 197h1v1h-1zM336 198h1v1h-1zM340 198h1v1h-1zM343 198h1v1h-1zM348 198h1v1h-1zM350 198h1v1h-1zM352 198h1v1h-1zM356 198h1v1h-1zM358 198h1v1h-1zM390 198h1v1h-1zM339 199h1v1h-1zM342 199h1v1h-1zM345 199h1v1h-1zM354 199h2v1h-2zM358 199h1v1h-1zM366 199h2v1h-2zM338 200h2v1h-2zM341 200h4v1h-4zM346 200h2v1h-2zM356 200h1v1h-1zM390 200h1v1h-1zM335 201h1v1h-1zM341 201h1v1h-1zM346 201h3v1h-3zM353 201h1v1h-1zM362 201h3v1h-3zM329 202h1v1h-1zM335 202h1v1h-1zM339 202h1v1h-1zM344 202h1v1h-1zM347 202h1v1h-1zM362 202h1v1h-1zM344 203h1v1h-1zM347 203h1v1h-1zM350 203h1v1h-1zM355 203h1v1h-1zM357 203h1v1h-1zM360 203h1v1h-1zM389 203h1v1h-1zM337 204h2v1h-2zM341 204h1v1h-1zM348 204h1v1h-1zM350 204h1v1h-1zM362 204h1v1h-1zM365 204h1v1h-1zM343 205h2v1h-2zM347 205h1v1h-1zM353 205h1v1h-1zM356 205h1v1h-1zM365 205h3v1h-3zM388 205h1v1h-1zM342 206h2v1h-2zM346 206h1v1h-1zM349 206h1v1h-1zM351 206h1v1h-1zM364 206h1v1h-1zM346 207h1v1h-1zM348 207h1v1h-1zM353 207h1v1h-1zM366 207h1v1h-1zM332 208h1v1h-1zM338 208h1v1h-1zM341 208h1v1h-1zM352 208h1v1h-1zM365 208h1v1h-1zM332 209h1v1h-1zM345 209h1v1h-1zM365 209h1v1h-1zM353 210h1v1h-1zM360 211h1v1h-1zM361 212h1v1h-1zM387 212h1v1h-1zM356 213h1v1h-1zM388 213h1v1h-1zM328 214h1v1h-1zM356 214h1v1h-1zM330 215h1v1h-1zM338 215h1v1h-1zM388 215h1v1h-1zM337 216h1v1h-1zM348 217h1v1h-1zM367 217h1v1h-1zM387 217h1v1h-1zM336 218h1v1h-1zM356 218h1v1h-1zM366 218h1v1h-1zM387 218h1v1h-1zM347 219h1v1h-1zM360 219h1v1h-1zM388 219h1v1h-1zM343 220h1v1h-1zM353 220h1v1h-1zM348 221h1v1h-1zM335 222h1v1h-1zM340 222h2v1h-2zM332 223h1v1h-1zM364 224h2v1h-2z" fill="#484848"/><path d="M374 183h1v1h-1zM379 183h1v1h-1zM369 184h1v1h-1zM376 185h2v1h-2zM374 186h1v1h-1zM377 186h2v1h-2zM337 187h1v1h-1zM352 187h1v1h-1zM366 187h1v1h-1zM373 187h2v1h-2zM376 187h3v1h-3zM380 187h1v1h-1zM371 188h1v1h-1zM373 188h11v1h-11zM342 189h1v1h-1zM370 189h16v1h-16zM340 190h1v1h-1zM368 190h17v1h-17zM386 190h1v1h-1zM336 191h1v1h-1zM353 191h1v1h-1zM366 191h22v1h-22zM389 191h1v1h-1zM331 192h1v1h-1zM340 192h1v1h-1zM343 192h1v1h-1zM348 192h1v1h-1zM350 192h1v1h-1zM365 192h25v1h-25zM330 193h1v1h-1zM349 193h1v1h-1zM352 193h2v1h-2zM365 193h1v1h-1zM367 193h23v1h-23zM339 194h1v1h-1zM343 194h1v1h-1zM366 194h22v1h-22zM332 195h1v1h-1zM337 195h1v1h-1zM339 195h1v1h-1zM351 195h1v1h-1zM354 195h1v1h-1zM366 195h24v1h-24zM328 196h1v1h-1zM337 196h1v1h-1zM339 196h1v1h-1zM343 196h1v1h-1zM345 196h1v1h-1zM347 196h2v1h-2zM351 196h3v1h-3zM367 196h21v1h-21zM389 196h1v1h-1zM339 197h2v1h-2zM342 197h1v1h-1zM345 197h3v1h-3zM354 197h1v1h-1zM357 197h1v1h-1zM366 197h22v1h-22zM337 198h1v1h-1zM341 198h1v1h-1zM344 198h3v1h-3zM351 198h1v1h-1zM360 198h1v1h-1zM364 198h1v1h-1zM366 198h23v1h-23zM335 199h1v1h-1zM338 199h1v1h-1zM340 199h2v1h-2zM348 199h4v1h-4zM365 199h1v1h-1zM368 199h21v1h-21zM337 200h1v1h-1zM345 200h1v1h-1zM348 200h1v1h-1zM351 200h3v1h-3zM364 200h26v1h-26zM339 201h2v1h-2zM342 201h4v1h-4zM350 201h3v1h-3zM366 201h22v1h-22zM338 202h1v1h-1zM343 202h1v1h-1zM345 202h2v1h-2zM348 202h2v1h-2zM356 202h2v1h-2zM366 202h22v1h-22zM331 203h1v1h-1zM342 203h2v1h-2zM346 203h1v1h-1zM367 203h22v1h-22zM344 204h1v1h-1zM353 204h1v1h-1zM357 204h1v1h-1zM366 204h23v1h-23zM335 205h2v1h-2zM340 205h1v1h-1zM368 205h20v1h-20zM390 205h1v1h-1zM347 206h1v1h-1zM365 206h1v1h-1zM367 206h22v1h-22zM342 207h1v1h-1zM367 207h20v1h-20zM388 207h1v1h-1zM347 208h1v1h-1zM366 208h23v1h-23zM340 209h1v1h-1zM367 209h22v1h-22zM345 210h1v1h-1zM365 210h24v1h-24zM348 211h1v1h-1zM366 211h23v1h-23zM366 212h21v1h-21zM367 213h21v1h-21zM366 214h22v1h-22zM348 215h1v1h-1zM366 215h22v1h-22zM349 216h1v1h-1zM366 216h23v1h-23zM368 217h19v1h-19zM388 217h2v1h-2zM367 218h20v1h-20zM388 218h1v1h-1zM340 219h1v1h-1zM342 219h1v1h-1zM366 219h22v1h-22zM367 220h21v1h-21zM355 221h1v1h-1zM367 221h21v1h-21zM367 222h21v1h-21zM367 223h22v1h-22zM368 224h21v1h-21z" fill="#000"/></g><path d="M375.10 152.00H364.80V162.00M386.50 152.00H391.50V162.00M364.80 172.20V182.30H364.80M391.50 172.20V182.30H391.50M365.30 186.90H389.50" fill="none" stroke="#111" stroke-width="1.15"/>
<rect x="326.4" y="148.25" width="93.10000000000002" height="77.6" fill="none" stroke="#000" stroke-width="1.2"/>
<g filter="url(#sb)"><path d="M380 291h1v1h-1zM380 294h1v1h-1zM379 295h1v1h-1zM379 296h1v1h-1zM377 297h1v1h-1zM377 298h1v1h-1zM379 298h1v1h-1zM379 299h1v1h-1zM383 299h1v1h-1zM367 300h1v1h-1zM372 300h2v1h-2zM380 301h1v1h-1zM378 302h1v1h-1zM380 302h1v1h-1zM383 302h2v1h-2zM372 303h1v1h-1zM374 303h1v1h-1zM379 303h1v1h-1zM384 303h1v1h-1zM387 303h1v1h-1zM376 304h2v1h-2zM381 304h1v1h-1zM372 305h1v1h-1zM368 306h1v1h-1zM374 306h1v1h-1zM369 307h1v1h-1zM374 307h2v1h-2zM380 307h2v1h-2zM372 308h3v1h-3zM380 308h1v1h-1zM330 309h1v1h-1zM367 309h1v1h-1zM372 309h1v1h-1zM379 309h1v1h-1zM335 310h1v1h-1zM341 310h1v1h-1zM368 310h1v1h-1zM372 310h1v1h-1zM361 311h2v1h-2zM388 311h1v1h-1zM347 312h2v1h-2zM364 312h1v1h-1zM367 312h1v1h-1zM386 312h1v1h-1zM389 312h3v1h-3zM332 313h1v1h-1zM336 313h2v1h-2zM340 313h1v1h-1zM343 313h1v1h-1zM347 313h2v1h-2zM391 313h2v1h-2zM332 314h1v1h-1zM336 314h2v1h-2zM341 314h2v1h-2zM348 314h1v1h-1zM351 314h1v1h-1zM355 314h1v1h-1zM359 314h1v1h-1zM391 314h1v1h-1zM394 314h1v1h-1zM330 315h2v1h-2zM341 315h1v1h-1zM344 315h2v1h-2zM354 315h2v1h-2zM365 315h1v1h-1zM388 315h1v1h-1zM340 316h1v1h-1zM348 316h1v1h-1zM350 316h1v1h-1zM356 316h1v1h-1zM361 316h1v1h-1zM363 316h2v1h-2zM329 317h1v1h-1zM331 317h1v1h-1zM334 317h1v1h-1zM340 317h1v1h-1zM342 317h2v1h-2zM345 317h1v1h-1zM350 317h1v1h-1zM391 317h1v1h-1zM344 318h1v1h-1zM355 318h1v1h-1zM360 318h1v1h-1zM366 318h1v1h-1zM329 319h2v1h-2zM332 319h2v1h-2zM342 319h1v1h-1zM345 319h3v1h-3zM351 319h1v1h-1zM353 319h1v1h-1zM366 319h1v1h-1zM333 320h1v1h-1zM336 320h2v1h-2zM340 320h1v1h-1zM347 320h1v1h-1zM353 320h1v1h-1zM358 320h2v1h-2zM366 320h1v1h-1zM328 321h1v1h-1zM331 321h1v1h-1zM334 321h1v1h-1zM338 321h1v1h-1zM363 321h1v1h-1zM327 322h2v1h-2zM333 322h1v1h-1zM346 322h1v1h-1zM359 322h1v1h-1zM363 322h1v1h-1zM392 322h1v1h-1zM335 323h1v1h-1zM343 323h1v1h-1zM354 323h1v1h-1zM366 323h1v1h-1zM330 324h1v1h-1zM333 324h1v1h-1zM340 324h1v1h-1zM344 324h1v1h-1zM359 324h1v1h-1zM333 325h3v1h-3zM341 325h1v1h-1zM347 325h1v1h-1zM350 325h1v1h-1zM353 325h1v1h-1zM355 325h1v1h-1zM361 325h1v1h-1zM363 325h1v1h-1zM365 325h1v1h-1zM391 325h1v1h-1zM363 326h1v1h-1zM366 326h1v1h-1zM390 326h1v1h-1zM328 327h2v1h-2zM331 327h1v1h-1zM333 327h1v1h-1zM345 327h2v1h-2zM353 327h1v1h-1zM360 327h1v1h-1zM362 327h1v1h-1zM366 327h1v1h-1zM389 327h1v1h-1zM392 327h1v1h-1zM336 328h1v1h-1zM341 328h2v1h-2zM352 328h2v1h-2zM355 328h1v1h-1zM360 328h1v1h-1zM328 329h1v1h-1zM330 329h3v1h-3zM334 329h2v1h-2zM346 329h1v1h-1zM358 329h2v1h-2zM335 330h1v1h-1zM338 330h1v1h-1zM350 330h1v1h-1zM353 330h1v1h-1zM357 330h1v1h-1zM360 330h1v1h-1zM363 330h2v1h-2zM388 330h1v1h-1zM328 331h1v1h-1zM330 331h1v1h-1zM339 331h1v1h-1zM343 331h1v1h-1zM362 331h1v1h-1zM366 331h1v1h-1zM390 331h1v1h-1zM327 332h1v1h-1zM337 332h1v1h-1zM347 332h1v1h-1zM350 332h1v1h-1zM352 332h2v1h-2zM391 332h2v1h-2zM332 333h1v1h-1zM341 333h1v1h-1zM346 333h1v1h-1zM359 333h1v1h-1zM362 333h1v1h-1zM331 334h1v1h-1zM333 334h2v1h-2zM336 334h1v1h-1zM338 334h1v1h-1zM340 334h1v1h-1zM342 334h1v1h-1zM347 334h1v1h-1zM354 334h1v1h-1zM356 334h1v1h-1zM389 334h1v1h-1zM329 335h1v1h-1zM337 335h2v1h-2zM341 335h1v1h-1zM344 335h1v1h-1zM390 335h1v1h-1zM334 336h1v1h-1zM345 336h1v1h-1zM347 336h2v1h-2zM355 336h2v1h-2zM388 336h1v1h-1zM327 337h1v1h-1zM330 337h2v1h-2zM333 337h1v1h-1zM335 337h1v1h-1zM338 337h2v1h-2zM350 337h1v1h-1zM356 337h1v1h-1zM362 337h1v1h-1zM346 338h2v1h-2zM352 338h1v1h-1zM360 338h2v1h-2zM388 338h1v1h-1zM391 338h1v1h-1zM332 339h1v1h-1zM339 339h1v1h-1zM342 339h1v1h-1zM391 339h1v1h-1zM331 340h2v1h-2zM340 340h1v1h-1zM342 340h1v1h-1zM389 340h1v1h-1zM392 340h1v1h-1zM350 341h1v1h-1zM354 341h1v1h-1zM360 341h1v1h-1zM363 341h1v1h-1zM365 341h1v1h-1zM388 341h1v1h-1zM390 341h1v1h-1zM336 342h1v1h-1zM338 342h1v1h-1zM344 342h1v1h-1zM353 342h1v1h-1zM352 343h1v1h-1zM359 343h1v1h-1zM333 344h1v1h-1zM341 344h1v1h-1zM343 344h1v1h-1zM351 344h1v1h-1zM356 344h1v1h-1zM387 344h1v1h-1zM389 344h1v1h-1zM328 345h1v1h-1zM330 345h1v1h-1zM335 345h1v1h-1zM346 345h1v1h-1zM356 345h1v1h-1zM363 345h1v1h-1zM338 346h1v1h-1zM343 346h2v1h-2zM347 346h1v1h-1zM352 346h1v1h-1zM357 346h1v1h-1zM367 346h1v1h-1zM343 347h1v1h-1zM345 347h1v1h-1zM366 347h1v1h-1zM343 348h1v1h-1zM347 348h1v1h-1zM352 348h1v1h-1zM357 348h1v1h-1zM359 348h1v1h-1zM367 348h1v1h-1zM341 349h1v1h-1zM347 349h1v1h-1zM349 349h1v1h-1zM352 349h1v1h-1zM354 349h1v1h-1zM356 349h1v1h-1zM360 349h1v1h-1z" fill="#b4b4b4"/><path d="M376 291h1v1h-1zM378 293h1v1h-1zM372 294h1v1h-1zM379 294h1v1h-1zM376 295h1v1h-1zM389 295h1v1h-1zM378 298h1v1h-1zM381 298h2v1h-2zM370 299h1v1h-1zM375 299h1v1h-1zM386 299h1v1h-1zM391 299h1v1h-1zM374 300h1v1h-1zM380 300h1v1h-1zM374 301h1v1h-1zM377 301h2v1h-2zM376 303h1v1h-1zM368 304h1v1h-1zM372 304h3v1h-3zM379 304h1v1h-1zM368 305h1v1h-1zM373 305h1v1h-1zM370 306h1v1h-1zM372 306h1v1h-1zM373 307h1v1h-1zM382 307h1v1h-1zM345 308h1v1h-1zM375 308h1v1h-1zM377 308h1v1h-1zM382 308h2v1h-2zM353 309h1v1h-1zM368 309h1v1h-1zM370 309h1v1h-1zM373 309h1v1h-1zM387 309h1v1h-1zM356 310h1v1h-1zM369 310h1v1h-1zM327 311h1v1h-1zM340 311h1v1h-1zM368 311h2v1h-2zM341 312h2v1h-2zM345 312h1v1h-1zM349 312h1v1h-1zM361 312h1v1h-1zM339 313h1v1h-1zM351 313h1v1h-1zM354 313h1v1h-1zM364 313h1v1h-1zM367 313h1v1h-1zM338 314h2v1h-2zM345 314h1v1h-1zM350 314h1v1h-1zM353 314h1v1h-1zM357 314h1v1h-1zM361 314h3v1h-3zM365 314h1v1h-1zM393 314h1v1h-1zM329 315h1v1h-1zM332 315h1v1h-1zM335 315h1v1h-1zM339 315h1v1h-1zM342 315h1v1h-1zM347 315h1v1h-1zM366 315h1v1h-1zM392 315h1v1h-1zM328 316h1v1h-1zM331 316h1v1h-1zM333 316h1v1h-1zM345 316h3v1h-3zM351 316h2v1h-2zM354 316h2v1h-2zM358 316h1v1h-1zM330 317h1v1h-1zM335 317h3v1h-3zM349 317h1v1h-1zM353 317h1v1h-1zM355 317h1v1h-1zM357 317h1v1h-1zM362 317h1v1h-1zM389 317h2v1h-2zM392 317h1v1h-1zM334 318h1v1h-1zM339 318h1v1h-1zM346 318h1v1h-1zM348 318h1v1h-1zM350 318h1v1h-1zM352 318h1v1h-1zM362 318h1v1h-1zM327 319h1v1h-1zM331 319h1v1h-1zM338 319h1v1h-1zM341 319h1v1h-1zM327 320h1v1h-1zM335 320h1v1h-1zM341 320h1v1h-1zM344 320h2v1h-2zM349 320h1v1h-1zM355 320h1v1h-1zM364 320h1v1h-1zM329 321h2v1h-2zM339 321h3v1h-3zM347 321h1v1h-1zM355 321h1v1h-1zM357 321h1v1h-1zM362 321h1v1h-1zM389 321h1v1h-1zM393 321h1v1h-1zM331 322h1v1h-1zM334 322h1v1h-1zM338 322h2v1h-2zM343 322h1v1h-1zM348 322h1v1h-1zM358 322h1v1h-1zM364 322h1v1h-1zM330 323h3v1h-3zM337 323h1v1h-1zM346 323h1v1h-1zM357 323h1v1h-1zM361 323h1v1h-1zM365 323h1v1h-1zM329 324h1v1h-1zM332 324h1v1h-1zM348 324h1v1h-1zM351 324h1v1h-1zM353 324h2v1h-2zM357 324h1v1h-1zM362 324h1v1h-1zM366 324h1v1h-1zM327 325h1v1h-1zM330 325h1v1h-1zM360 325h1v1h-1zM364 325h1v1h-1zM366 325h1v1h-1zM393 325h1v1h-1zM330 326h1v1h-1zM345 326h1v1h-1zM350 326h1v1h-1zM354 326h4v1h-4zM327 327h1v1h-1zM330 327h1v1h-1zM332 327h1v1h-1zM336 327h2v1h-2zM341 327h1v1h-1zM354 327h2v1h-2zM358 327h1v1h-1zM364 327h2v1h-2zM391 327h1v1h-1zM330 328h2v1h-2zM333 328h2v1h-2zM337 328h1v1h-1zM346 328h1v1h-1zM348 328h1v1h-1zM357 328h1v1h-1zM363 328h3v1h-3zM389 328h1v1h-1zM329 329h1v1h-1zM337 329h1v1h-1zM341 329h4v1h-4zM353 329h1v1h-1zM360 329h1v1h-1zM366 329h1v1h-1zM388 329h2v1h-2zM392 329h1v1h-1zM330 330h1v1h-1zM346 330h3v1h-3zM355 330h2v1h-2zM367 330h1v1h-1zM335 331h1v1h-1zM338 331h1v1h-1zM344 331h1v1h-1zM346 331h1v1h-1zM355 331h3v1h-3zM335 332h2v1h-2zM340 332h1v1h-1zM343 332h1v1h-1zM351 332h1v1h-1zM356 332h1v1h-1zM359 332h1v1h-1zM366 332h1v1h-1zM388 332h2v1h-2zM329 333h1v1h-1zM339 333h1v1h-1zM350 333h1v1h-1zM353 333h1v1h-1zM356 333h1v1h-1zM366 333h1v1h-1zM389 333h1v1h-1zM328 334h1v1h-1zM341 334h1v1h-1zM343 334h2v1h-2zM346 334h1v1h-1zM349 334h1v1h-1zM352 334h2v1h-2zM360 334h2v1h-2zM364 334h1v1h-1zM388 334h1v1h-1zM345 335h1v1h-1zM349 335h1v1h-1zM353 335h1v1h-1zM356 335h1v1h-1zM365 335h1v1h-1zM388 335h1v1h-1zM332 336h2v1h-2zM337 336h1v1h-1zM343 336h1v1h-1zM350 336h1v1h-1zM362 336h1v1h-1zM365 336h1v1h-1zM367 336h1v1h-1zM337 337h1v1h-1zM340 337h1v1h-1zM346 337h1v1h-1zM348 337h2v1h-2zM352 337h1v1h-1zM354 337h1v1h-1zM357 337h1v1h-1zM388 337h1v1h-1zM396 337h1v1h-1zM333 338h1v1h-1zM336 338h1v1h-1zM338 338h1v1h-1zM345 338h1v1h-1zM349 338h1v1h-1zM351 338h1v1h-1zM353 338h1v1h-1zM356 338h1v1h-1zM336 339h1v1h-1zM347 339h3v1h-3zM359 339h1v1h-1zM361 339h1v1h-1zM338 340h1v1h-1zM348 340h1v1h-1zM353 340h3v1h-3zM365 340h1v1h-1zM388 340h1v1h-1zM330 341h1v1h-1zM335 341h1v1h-1zM342 341h1v1h-1zM345 341h1v1h-1zM356 341h1v1h-1zM366 341h1v1h-1zM330 342h1v1h-1zM334 342h1v1h-1zM360 342h2v1h-2zM364 342h2v1h-2zM368 342h1v1h-1zM388 342h1v1h-1zM390 342h1v1h-1zM328 343h1v1h-1zM334 343h1v1h-1zM344 343h1v1h-1zM348 343h1v1h-1zM350 343h1v1h-1zM357 343h1v1h-1zM361 343h1v1h-1zM366 343h1v1h-1zM329 344h1v1h-1zM337 344h2v1h-2zM347 344h1v1h-1zM366 344h1v1h-1zM388 344h1v1h-1zM332 345h1v1h-1zM337 345h2v1h-2zM350 345h1v1h-1zM358 345h1v1h-1zM360 345h2v1h-2zM365 345h1v1h-1zM367 345h1v1h-1zM391 345h1v1h-1zM333 346h2v1h-2zM337 346h1v1h-1zM339 346h2v1h-2zM345 346h1v1h-1zM349 346h1v1h-1zM387 346h3v1h-3zM328 347h1v1h-1zM331 347h1v1h-1zM333 347h1v1h-1zM348 347h1v1h-1zM359 347h1v1h-1zM361 347h1v1h-1zM363 347h1v1h-1zM391 347h1v1h-1zM338 348h1v1h-1zM341 348h1v1h-1zM344 348h1v1h-1zM348 348h2v1h-2zM335 349h1v1h-1zM337 349h1v1h-1zM343 349h1v1h-1zM346 349h1v1h-1zM350 349h1v1h-1zM364 349h2v1h-2z" fill="#7c7c7c"/><path d="M381 297h1v1h-1zM375 298h1v1h-1zM386 301h1v1h-1zM376 302h1v1h-1zM375 303h1v1h-1zM378 305h1v1h-1zM386 306h1v1h-1zM378 309h1v1h-1zM382 309h2v1h-2zM375 310h1v1h-1zM379 310h1v1h-1zM382 310h2v1h-2zM386 310h1v1h-1zM365 311h1v1h-1zM371 311h1v1h-1zM384 311h1v1h-1zM346 312h1v1h-1zM366 312h1v1h-1zM331 313h1v1h-1zM350 313h1v1h-1zM389 313h1v1h-1zM358 314h1v1h-1zM388 314h1v1h-1zM334 315h1v1h-1zM337 315h2v1h-2zM349 315h1v1h-1zM352 315h1v1h-1zM364 315h1v1h-1zM337 316h1v1h-1zM344 316h1v1h-1zM333 317h1v1h-1zM352 317h1v1h-1zM330 318h1v1h-1zM332 318h1v1h-1zM338 318h1v1h-1zM347 318h1v1h-1zM349 318h1v1h-1zM334 319h3v1h-3zM339 319h1v1h-1zM348 319h2v1h-2zM354 319h1v1h-1zM364 319h2v1h-2zM328 320h1v1h-1zM338 320h1v1h-1zM348 320h1v1h-1zM332 321h1v1h-1zM346 321h1v1h-1zM348 321h2v1h-2zM351 321h1v1h-1zM359 321h2v1h-2zM366 321h1v1h-1zM391 321h1v1h-1zM329 322h1v1h-1zM340 322h1v1h-1zM344 322h1v1h-1zM356 322h1v1h-1zM388 322h2v1h-2zM340 323h2v1h-2zM348 323h2v1h-2zM352 323h2v1h-2zM389 323h1v1h-1zM338 324h1v1h-1zM342 324h1v1h-1zM345 324h1v1h-1zM350 324h1v1h-1zM355 324h2v1h-2zM361 324h1v1h-1zM336 325h1v1h-1zM338 325h1v1h-1zM342 325h1v1h-1zM344 325h1v1h-1zM351 325h1v1h-1zM356 325h1v1h-1zM359 325h1v1h-1zM334 326h1v1h-1zM336 326h4v1h-4zM341 326h1v1h-1zM343 326h2v1h-2zM348 326h2v1h-2zM367 326h1v1h-1zM389 326h1v1h-1zM334 327h2v1h-2zM338 327h1v1h-1zM340 327h1v1h-1zM347 327h1v1h-1zM357 327h1v1h-1zM363 327h1v1h-1zM367 327h1v1h-1zM339 328h1v1h-1zM343 328h2v1h-2zM349 328h1v1h-1zM366 328h2v1h-2zM390 328h1v1h-1zM339 329h2v1h-2zM347 329h1v1h-1zM349 329h1v1h-1zM351 329h1v1h-1zM365 329h1v1h-1zM336 330h2v1h-2zM343 330h3v1h-3zM349 330h1v1h-1zM354 330h1v1h-1zM366 330h1v1h-1zM389 330h1v1h-1zM332 331h1v1h-1zM334 331h1v1h-1zM345 331h1v1h-1zM347 331h1v1h-1zM349 331h1v1h-1zM359 331h1v1h-1zM361 331h1v1h-1zM363 331h1v1h-1zM367 331h1v1h-1zM388 331h1v1h-1zM339 332h1v1h-1zM344 332h1v1h-1zM348 332h1v1h-1zM338 333h1v1h-1zM344 333h1v1h-1zM349 333h1v1h-1zM351 333h1v1h-1zM367 333h1v1h-1zM388 333h1v1h-1zM345 334h1v1h-1zM368 334h1v1h-1zM331 335h1v1h-1zM344 336h1v1h-1zM351 336h1v1h-1zM334 337h1v1h-1zM342 337h1v1h-1zM344 337h1v1h-1zM366 337h2v1h-2zM332 338h1v1h-1zM341 338h1v1h-1zM367 338h2v1h-2zM389 338h1v1h-1zM334 339h1v1h-1zM338 339h1v1h-1zM346 339h1v1h-1zM389 339h1v1h-1zM331 341h1v1h-1zM341 341h1v1h-1zM340 343h2v1h-2zM364 343h1v1h-1zM388 343h1v1h-1zM345 344h1v1h-1zM347 345h1v1h-1zM386 345h2v1h-2zM366 346h1v1h-1zM367 347h1v1h-1zM387 347h2v1h-2zM348 349h1v1h-1zM357 349h1v1h-1zM387 349h1v1h-1z" fill="#484848"/><path d="M377 303h1v1h-1zM378 304h1v1h-1zM378 306h1v1h-1zM378 307h2v1h-2zM381 308h1v1h-1zM374 309h2v1h-2zM377 309h1v1h-1zM380 309h2v1h-2zM385 309h1v1h-1zM370 310h1v1h-1zM373 310h2v1h-2zM376 310h3v1h-3zM380 310h2v1h-2zM384 310h1v1h-1zM372 311h12v1h-12zM385 311h2v1h-2zM344 312h1v1h-1zM365 312h1v1h-1zM368 312h18v1h-18zM387 312h2v1h-2zM368 313h21v1h-21zM335 314h1v1h-1zM366 314h22v1h-22zM389 314h2v1h-2zM351 315h1v1h-1zM367 315h21v1h-21zM389 315h1v1h-1zM365 316h25v1h-25zM332 317h1v1h-1zM366 317h23v1h-23zM337 318h1v1h-1zM343 318h1v1h-1zM351 318h1v1h-1zM367 318h22v1h-22zM343 319h2v1h-2zM350 319h1v1h-1zM367 319h23v1h-23zM342 320h2v1h-2zM346 320h1v1h-1zM350 320h1v1h-1zM367 320h22v1h-22zM335 321h3v1h-3zM343 321h3v1h-3zM350 321h1v1h-1zM354 321h1v1h-1zM367 321h22v1h-22zM335 322h1v1h-1zM341 322h2v1h-2zM345 322h1v1h-1zM347 322h1v1h-1zM349 322h1v1h-1zM351 322h1v1h-1zM366 322h22v1h-22zM336 323h1v1h-1zM339 323h1v1h-1zM342 323h1v1h-1zM344 323h2v1h-2zM347 323h1v1h-1zM350 323h1v1h-1zM367 323h22v1h-22zM334 324h2v1h-2zM337 324h1v1h-1zM339 324h1v1h-1zM341 324h1v1h-1zM346 324h2v1h-2zM349 324h1v1h-1zM352 324h1v1h-1zM367 324h23v1h-23zM337 325h1v1h-1zM339 325h2v1h-2zM343 325h1v1h-1zM345 325h2v1h-2zM348 325h1v1h-1zM354 325h1v1h-1zM358 325h1v1h-1zM367 325h22v1h-22zM332 326h1v1h-1zM340 326h1v1h-1zM342 326h1v1h-1zM347 326h1v1h-1zM352 326h2v1h-2zM360 326h1v1h-1zM368 326h21v1h-21zM342 327h3v1h-3zM348 327h3v1h-3zM368 327h21v1h-21zM338 328h1v1h-1zM340 328h1v1h-1zM345 328h1v1h-1zM347 328h1v1h-1zM359 328h1v1h-1zM368 328h21v1h-21zM336 329h1v1h-1zM345 329h1v1h-1zM367 329h21v1h-21zM334 330h1v1h-1zM339 330h2v1h-2zM368 330h20v1h-20zM336 331h1v1h-1zM341 331h1v1h-1zM351 331h1v1h-1zM368 331h20v1h-20zM389 331h1v1h-1zM338 332h1v1h-1zM367 332h21v1h-21zM334 333h2v1h-2zM368 333h20v1h-20zM365 334h1v1h-1zM367 334h1v1h-1zM369 334h19v1h-19zM342 335h1v1h-1zM367 335h20v1h-20zM368 336h20v1h-20zM329 337h1v1h-1zM368 337h20v1h-20zM329 338h1v1h-1zM369 338h19v1h-19zM367 339h22v1h-22zM339 340h1v1h-1zM368 340h20v1h-20zM351 341h1v1h-1zM368 341h20v1h-20zM367 342h1v1h-1zM369 342h19v1h-19zM368 343h20v1h-20zM368 344h19v1h-19zM368 345h18v1h-18zM368 346h19v1h-19zM341 347h1v1h-1zM368 347h19v1h-19zM332 348h1v1h-1zM366 348h1v1h-1zM368 348h20v1h-20zM368 349h19v1h-19z" fill="#000"/></g><path d="M379.00 277.70H368.00V287.20M390.30 277.70H393.30V287.20M368.00 297.90V308.70H371.00M393.30 297.90V308.70H391.30" fill="none" stroke="#111" stroke-width="1.15"/>
<rect x="326.4" y="273.25" width="93.10000000000002" height="77.6" fill="none" stroke="#000" stroke-width="1.2"/>
<g filter="url(#sb)"><path d="M368 412h1v1h-1zM380 413h1v1h-1zM370 414h1v1h-1zM373 414h1v1h-1zM372 415h1v1h-1zM378 415h1v1h-1zM370 416h1v1h-1zM377 417h1v1h-1zM379 417h1v1h-1zM367 418h1v1h-1zM381 418h1v1h-1zM373 421h1v1h-1zM387 421h1v1h-1zM378 422h1v1h-1zM370 423h1v1h-1zM382 423h1v1h-1zM368 424h1v1h-1zM370 424h1v1h-1zM380 424h1v1h-1zM387 424h1v1h-1zM372 425h1v1h-1zM370 427h2v1h-2zM360 428h1v1h-1zM374 429h1v1h-1zM378 429h1v1h-1zM368 430h1v1h-1zM373 430h1v1h-1zM377 430h1v1h-1zM382 430h1v1h-1zM384 430h1v1h-1zM369 431h3v1h-3zM377 431h1v1h-1zM367 432h3v1h-3zM371 432h1v1h-1zM375 432h1v1h-1zM378 432h1v1h-1zM381 432h1v1h-1zM385 432h1v1h-1zM334 433h1v1h-1zM367 433h2v1h-2zM383 433h1v1h-1zM335 434h1v1h-1zM369 434h1v1h-1zM372 434h1v1h-1zM375 434h1v1h-1zM381 434h1v1h-1zM327 435h1v1h-1zM337 435h1v1h-1zM360 435h1v1h-1zM367 435h1v1h-1zM370 435h2v1h-2zM380 435h1v1h-1zM338 436h1v1h-1zM368 436h1v1h-1zM379 436h1v1h-1zM338 437h1v1h-1zM341 437h1v1h-1zM346 437h1v1h-1zM355 437h1v1h-1zM383 437h1v1h-1zM389 437h1v1h-1zM338 438h1v1h-1zM361 438h1v1h-1zM387 438h1v1h-1zM392 438h1v1h-1zM344 439h1v1h-1zM351 439h1v1h-1zM382 439h1v1h-1zM344 440h1v1h-1zM388 440h1v1h-1zM328 441h2v1h-2zM340 441h1v1h-1zM348 441h1v1h-1zM350 441h1v1h-1zM353 441h1v1h-1zM357 441h1v1h-1zM385 441h1v1h-1zM335 442h1v1h-1zM391 442h1v1h-1zM393 442h1v1h-1zM333 443h1v1h-1zM338 443h1v1h-1zM340 443h1v1h-1zM344 443h1v1h-1zM348 443h1v1h-1zM390 443h1v1h-1zM394 443h1v1h-1zM327 444h1v1h-1zM335 444h1v1h-1zM341 444h1v1h-1zM354 444h1v1h-1zM359 444h1v1h-1zM363 444h1v1h-1zM387 444h2v1h-2zM331 445h1v1h-1zM333 445h1v1h-1zM342 445h1v1h-1zM352 445h2v1h-2zM355 445h1v1h-1zM340 446h1v1h-1zM342 446h1v1h-1zM347 446h1v1h-1zM349 446h1v1h-1zM354 446h1v1h-1zM395 446h1v1h-1zM328 447h1v1h-1zM345 447h1v1h-1zM348 447h1v1h-1zM352 447h1v1h-1zM360 447h1v1h-1zM388 447h1v1h-1zM390 447h1v1h-1zM330 448h4v1h-4zM339 448h1v1h-1zM343 448h1v1h-1zM351 448h1v1h-1zM354 448h1v1h-1zM358 448h1v1h-1zM400 448h1v1h-1zM329 449h1v1h-1zM338 449h1v1h-1zM342 449h1v1h-1zM345 449h1v1h-1zM351 449h1v1h-1zM354 449h1v1h-1zM388 449h1v1h-1zM336 450h1v1h-1zM338 450h1v1h-1zM341 450h1v1h-1zM352 450h3v1h-3zM356 450h1v1h-1zM388 450h1v1h-1zM393 450h1v1h-1zM329 451h1v1h-1zM331 451h1v1h-1zM348 451h1v1h-1zM357 451h1v1h-1zM359 451h1v1h-1zM364 451h1v1h-1zM389 451h1v1h-1zM327 452h1v1h-1zM333 452h2v1h-2zM336 452h1v1h-1zM338 452h2v1h-2zM343 452h1v1h-1zM347 452h1v1h-1zM350 452h1v1h-1zM386 452h1v1h-1zM327 453h1v1h-1zM331 453h2v1h-2zM351 453h1v1h-1zM353 453h1v1h-1zM359 453h1v1h-1zM327 454h1v1h-1zM331 454h2v1h-2zM341 454h1v1h-1zM352 454h1v1h-1zM355 454h1v1h-1zM359 454h1v1h-1zM389 454h1v1h-1zM330 455h2v1h-2zM340 455h1v1h-1zM343 455h1v1h-1zM353 455h1v1h-1zM363 455h1v1h-1zM387 455h2v1h-2zM331 456h1v1h-1zM342 456h1v1h-1zM346 456h1v1h-1zM352 456h2v1h-2zM358 456h1v1h-1zM360 456h2v1h-2zM386 456h1v1h-1zM388 456h1v1h-1zM328 457h1v1h-1zM337 457h1v1h-1zM340 457h1v1h-1zM344 457h1v1h-1zM350 457h1v1h-1zM361 457h1v1h-1zM363 457h1v1h-1zM330 458h1v1h-1zM333 458h1v1h-1zM335 458h1v1h-1zM338 458h2v1h-2zM343 458h1v1h-1zM345 458h3v1h-3zM355 458h1v1h-1zM358 458h1v1h-1zM361 458h1v1h-1zM332 459h2v1h-2zM337 459h2v1h-2zM341 459h2v1h-2zM346 459h1v1h-1zM348 459h1v1h-1zM353 459h2v1h-2zM327 460h1v1h-1zM352 460h1v1h-1zM359 460h1v1h-1zM327 461h1v1h-1zM336 461h2v1h-2zM339 461h1v1h-1zM343 461h1v1h-1zM386 461h1v1h-1zM332 462h1v1h-1zM335 462h1v1h-1zM337 462h2v1h-2zM347 462h3v1h-3zM355 462h1v1h-1zM361 462h1v1h-1zM387 462h1v1h-1zM328 463h1v1h-1zM330 463h1v1h-1zM341 463h1v1h-1zM345 463h1v1h-1zM347 463h1v1h-1zM349 463h2v1h-2zM357 463h1v1h-1zM359 463h1v1h-1zM386 463h1v1h-1zM390 463h1v1h-1zM329 464h1v1h-1zM339 464h1v1h-1zM343 464h1v1h-1zM387 464h1v1h-1zM390 464h1v1h-1zM333 465h1v1h-1zM335 465h2v1h-2zM346 465h2v1h-2zM355 465h1v1h-1zM359 465h1v1h-1zM362 465h1v1h-1zM387 465h1v1h-1zM327 466h1v1h-1zM335 466h1v1h-1zM349 466h1v1h-1zM353 466h1v1h-1zM356 466h1v1h-1zM362 466h1v1h-1zM330 467h1v1h-1zM338 467h1v1h-1zM343 467h1v1h-1zM345 467h1v1h-1zM331 468h1v1h-1zM339 468h1v1h-1zM344 468h1v1h-1zM347 468h1v1h-1zM353 468h1v1h-1zM335 469h2v1h-2zM339 469h1v1h-1zM349 469h1v1h-1zM357 469h2v1h-2zM388 469h1v1h-1zM343 470h1v1h-1zM346 470h1v1h-1zM350 470h1v1h-1zM356 470h1v1h-1zM386 470h3v1h-3zM328 471h1v1h-1zM333 471h1v1h-1zM341 471h1v1h-1zM346 471h1v1h-1zM358 471h1v1h-1zM360 471h1v1h-1zM386 471h1v1h-1zM391 471h1v1h-1zM342 472h1v1h-1zM345 472h1v1h-1zM353 472h1v1h-1zM355 472h1v1h-1zM358 472h1v1h-1zM328 473h1v1h-1zM331 473h1v1h-1zM338 473h1v1h-1zM340 473h1v1h-1zM342 473h1v1h-1zM353 473h1v1h-1zM356 473h1v1h-1zM389 473h1v1h-1zM332 474h1v1h-1zM334 474h1v1h-1zM339 474h2v1h-2zM343 474h1v1h-1zM351 474h1v1h-1zM357 474h1v1h-1zM386 474h1v1h-1zM330 475h1v1h-1zM341 475h1v1h-1zM352 475h2v1h-2zM386 475h1v1h-1zM343 476h1v1h-1zM350 476h1v1h-1zM363 476h1v1h-1zM389 476h1v1h-1zM339 477h2v1h-2zM342 477h1v1h-1zM359 477h2v1h-2zM385 477h1v1h-1zM387 477h1v1h-1zM350 478h1v1h-1zM357 478h1v1h-1z" fill="#b4b4b4"/><path d="M373 410h1v1h-1zM379 413h1v1h-1zM367 414h1v1h-1zM379 414h1v1h-1zM367 416h1v1h-1zM373 416h1v1h-1zM380 416h1v1h-1zM368 417h1v1h-1zM373 417h1v1h-1zM371 418h1v1h-1zM366 419h1v1h-1zM375 419h1v1h-1zM375 420h1v1h-1zM378 420h1v1h-1zM382 420h1v1h-1zM374 421h1v1h-1zM370 422h1v1h-1zM365 423h1v1h-1zM372 423h1v1h-1zM376 424h1v1h-1zM383 424h1v1h-1zM368 425h1v1h-1zM376 425h1v1h-1zM378 425h1v1h-1zM378 426h1v1h-1zM390 426h1v1h-1zM369 427h1v1h-1zM369 428h2v1h-2zM380 428h1v1h-1zM369 429h1v1h-1zM371 429h1v1h-1zM377 429h1v1h-1zM383 429h1v1h-1zM389 429h1v1h-1zM339 430h1v1h-1zM369 430h1v1h-1zM381 430h1v1h-1zM367 431h1v1h-1zM372 431h1v1h-1zM374 431h1v1h-1zM379 431h1v1h-1zM386 431h1v1h-1zM356 432h1v1h-1zM365 432h1v1h-1zM379 432h2v1h-2zM337 433h1v1h-1zM342 433h1v1h-1zM371 433h2v1h-2zM377 433h1v1h-1zM380 433h1v1h-1zM382 433h1v1h-1zM354 434h1v1h-1zM367 434h1v1h-1zM370 434h2v1h-2zM377 434h2v1h-2zM359 435h1v1h-1zM361 435h1v1h-1zM376 435h1v1h-1zM346 436h1v1h-1zM370 436h1v1h-1zM372 436h1v1h-1zM374 436h1v1h-1zM380 436h1v1h-1zM384 436h1v1h-1zM387 436h1v1h-1zM336 437h1v1h-1zM350 437h1v1h-1zM364 437h1v1h-1zM330 438h1v1h-1zM339 438h2v1h-2zM352 438h1v1h-1zM356 438h1v1h-1zM360 438h1v1h-1zM363 438h1v1h-1zM367 438h1v1h-1zM380 438h1v1h-1zM383 438h3v1h-3zM388 438h1v1h-1zM395 438h1v1h-1zM335 439h1v1h-1zM338 439h1v1h-1zM343 439h1v1h-1zM347 439h1v1h-1zM356 439h1v1h-1zM359 439h1v1h-1zM364 439h4v1h-4zM383 439h1v1h-1zM387 439h1v1h-1zM329 440h1v1h-1zM331 440h1v1h-1zM334 440h1v1h-1zM336 440h1v1h-1zM339 440h2v1h-2zM356 440h1v1h-1zM359 440h1v1h-1zM383 440h1v1h-1zM387 440h1v1h-1zM392 440h1v1h-1zM335 441h2v1h-2zM338 441h1v1h-1zM349 441h1v1h-1zM358 441h1v1h-1zM360 441h1v1h-1zM386 441h1v1h-1zM389 441h1v1h-1zM327 442h1v1h-1zM330 442h3v1h-3zM336 442h2v1h-2zM339 442h1v1h-1zM342 442h1v1h-1zM354 442h1v1h-1zM359 442h2v1h-2zM362 442h1v1h-1zM328 443h1v1h-1zM334 443h1v1h-1zM342 443h1v1h-1zM355 443h2v1h-2zM360 443h1v1h-1zM362 443h1v1h-1zM388 443h1v1h-1zM393 443h1v1h-1zM329 444h1v1h-1zM332 444h2v1h-2zM338 444h1v1h-1zM344 444h1v1h-1zM350 444h1v1h-1zM352 444h1v1h-1zM360 444h1v1h-1zM390 444h1v1h-1zM330 445h1v1h-1zM332 445h1v1h-1zM335 445h2v1h-2zM338 445h2v1h-2zM348 445h1v1h-1zM354 445h1v1h-1zM356 445h1v1h-1zM362 445h1v1h-1zM387 445h3v1h-3zM392 445h1v1h-1zM329 446h1v1h-1zM333 446h1v1h-1zM341 446h1v1h-1zM344 446h1v1h-1zM350 446h1v1h-1zM330 447h1v1h-1zM332 447h2v1h-2zM339 447h1v1h-1zM343 447h2v1h-2zM347 447h1v1h-1zM349 447h2v1h-2zM353 447h1v1h-1zM355 447h1v1h-1zM358 447h1v1h-1zM386 447h1v1h-1zM338 448h1v1h-1zM340 448h2v1h-2zM344 448h5v1h-5zM350 448h1v1h-1zM353 448h1v1h-1zM355 448h1v1h-1zM359 448h1v1h-1zM361 448h1v1h-1zM389 448h1v1h-1zM341 449h1v1h-1zM343 449h1v1h-1zM348 449h1v1h-1zM350 449h1v1h-1zM352 449h2v1h-2zM356 449h1v1h-1zM386 449h2v1h-2zM335 450h1v1h-1zM342 450h1v1h-1zM344 450h1v1h-1zM348 450h1v1h-1zM350 450h1v1h-1zM357 450h2v1h-2zM360 450h2v1h-2zM387 450h1v1h-1zM390 450h1v1h-1zM327 451h2v1h-2zM330 451h1v1h-1zM341 451h1v1h-1zM350 451h2v1h-2zM355 451h1v1h-1zM361 451h1v1h-1zM363 451h1v1h-1zM388 451h1v1h-1zM328 452h3v1h-3zM337 452h1v1h-1zM345 452h2v1h-2zM351 452h2v1h-2zM360 452h1v1h-1zM385 452h1v1h-1zM388 452h2v1h-2zM328 453h1v1h-1zM334 453h2v1h-2zM340 453h1v1h-1zM354 453h1v1h-1zM358 453h1v1h-1zM360 453h1v1h-1zM391 453h1v1h-1zM333 454h1v1h-1zM337 454h1v1h-1zM340 454h1v1h-1zM343 454h1v1h-1zM345 454h1v1h-1zM347 454h1v1h-1zM361 454h2v1h-2zM386 454h3v1h-3zM327 455h1v1h-1zM335 455h1v1h-1zM339 455h1v1h-1zM342 455h1v1h-1zM347 455h1v1h-1zM349 455h3v1h-3zM355 455h1v1h-1zM358 455h2v1h-2zM361 455h2v1h-2zM334 456h2v1h-2zM337 456h2v1h-2zM340 456h1v1h-1zM343 456h1v1h-1zM345 456h1v1h-1zM347 456h1v1h-1zM357 456h1v1h-1zM389 456h2v1h-2zM335 457h1v1h-1zM339 457h1v1h-1zM352 457h2v1h-2zM360 457h1v1h-1zM386 457h2v1h-2zM344 458h1v1h-1zM359 458h1v1h-1zM387 458h1v1h-1zM389 458h1v1h-1zM334 459h2v1h-2zM340 459h1v1h-1zM347 459h1v1h-1zM351 459h1v1h-1zM388 459h1v1h-1zM329 460h1v1h-1zM333 460h1v1h-1zM338 460h1v1h-1zM341 460h1v1h-1zM346 460h2v1h-2zM363 460h1v1h-1zM387 460h2v1h-2zM390 460h1v1h-1zM344 461h1v1h-1zM346 461h4v1h-4zM358 461h2v1h-2zM361 461h1v1h-1zM387 461h1v1h-1zM334 462h1v1h-1zM341 462h2v1h-2zM344 462h3v1h-3zM353 462h1v1h-1zM356 462h1v1h-1zM359 462h1v1h-1zM335 463h2v1h-2zM342 463h1v1h-1zM354 463h1v1h-1zM356 463h1v1h-1zM388 463h1v1h-1zM332 464h3v1h-3zM342 464h1v1h-1zM345 464h1v1h-1zM347 464h2v1h-2zM350 464h1v1h-1zM360 464h1v1h-1zM362 464h1v1h-1zM388 464h1v1h-1zM331 465h1v1h-1zM338 465h2v1h-2zM341 465h1v1h-1zM344 465h2v1h-2zM352 465h1v1h-1zM357 465h1v1h-1zM360 465h1v1h-1zM363 465h1v1h-1zM386 465h1v1h-1zM330 466h2v1h-2zM336 466h1v1h-1zM338 466h1v1h-1zM340 466h2v1h-2zM345 466h1v1h-1zM348 466h1v1h-1zM357 466h1v1h-1zM360 466h2v1h-2zM391 466h1v1h-1zM327 467h1v1h-1zM333 467h3v1h-3zM337 467h1v1h-1zM341 467h1v1h-1zM347 467h1v1h-1zM352 467h1v1h-1zM355 467h2v1h-2zM358 467h1v1h-1zM360 467h1v1h-1zM388 467h1v1h-1zM334 468h2v1h-2zM351 468h2v1h-2zM361 468h1v1h-1zM363 468h1v1h-1zM386 468h1v1h-1zM389 468h1v1h-1zM333 469h2v1h-2zM341 469h1v1h-1zM350 469h1v1h-1zM353 469h1v1h-1zM360 469h1v1h-1zM387 469h1v1h-1zM332 470h1v1h-1zM341 470h1v1h-1zM347 470h1v1h-1zM357 470h1v1h-1zM360 470h1v1h-1zM335 471h1v1h-1zM343 471h1v1h-1zM350 471h1v1h-1zM352 471h1v1h-1zM357 471h1v1h-1zM364 471h1v1h-1zM384 471h1v1h-1zM331 472h1v1h-1zM334 472h1v1h-1zM340 472h1v1h-1zM343 472h1v1h-1zM346 472h3v1h-3zM357 472h1v1h-1zM360 472h1v1h-1zM363 472h1v1h-1zM384 472h3v1h-3zM388 472h1v1h-1zM390 472h1v1h-1zM332 473h1v1h-1zM335 473h2v1h-2zM386 473h1v1h-1zM328 474h1v1h-1zM335 474h1v1h-1zM345 474h1v1h-1zM354 474h1v1h-1zM362 474h1v1h-1zM364 474h1v1h-1zM327 475h2v1h-2zM333 475h2v1h-2zM336 475h2v1h-2zM339 475h1v1h-1zM343 475h2v1h-2zM346 475h1v1h-1zM348 475h1v1h-1zM359 475h1v1h-1zM361 475h1v1h-1zM385 475h1v1h-1zM332 476h1v1h-1zM334 476h1v1h-1zM348 476h2v1h-2zM355 476h1v1h-1zM357 476h1v1h-1zM359 476h1v1h-1zM361 476h2v1h-2zM386 476h2v1h-2zM329 477h1v1h-1zM332 477h1v1h-1zM336 477h1v1h-1zM345 477h1v1h-1zM347 477h1v1h-1zM350 477h1v1h-1zM362 477h1v1h-1zM333 478h1v1h-1zM356 478h1v1h-1zM363 478h1v1h-1zM385 478h1v1h-1z" fill="#7c7c7c"/><path d="M372 422h1v1h-1zM374 427h1v1h-1zM377 427h1v1h-1zM375 428h2v1h-2zM370 430h2v1h-2zM374 432h1v1h-1zM376 432h2v1h-2zM368 434h1v1h-1zM379 434h2v1h-2zM369 435h1v1h-1zM377 435h2v1h-2zM384 435h1v1h-1zM371 436h1v1h-1zM378 436h1v1h-1zM381 436h1v1h-1zM365 437h2v1h-2zM370 437h1v1h-1zM373 437h2v1h-2zM379 437h2v1h-2zM386 437h1v1h-1zM327 438h1v1h-1zM348 438h1v1h-1zM366 438h1v1h-1zM386 439h1v1h-1zM388 439h1v1h-1zM363 440h1v1h-1zM386 440h1v1h-1zM332 441h1v1h-1zM337 441h1v1h-1zM342 441h3v1h-3zM346 441h1v1h-1zM362 441h1v1h-1zM340 442h1v1h-1zM344 442h2v1h-2zM363 442h1v1h-1zM383 442h1v1h-1zM327 443h1v1h-1zM330 443h1v1h-1zM336 443h1v1h-1zM346 443h1v1h-1zM351 443h1v1h-1zM354 443h1v1h-1zM361 443h1v1h-1zM345 444h1v1h-1zM348 444h1v1h-1zM353 444h1v1h-1zM386 444h1v1h-1zM341 445h1v1h-1zM344 445h1v1h-1zM360 445h1v1h-1zM363 445h1v1h-1zM328 446h1v1h-1zM331 446h1v1h-1zM337 446h1v1h-1zM339 446h1v1h-1zM343 446h1v1h-1zM345 446h1v1h-1zM351 446h1v1h-1zM353 446h1v1h-1zM356 446h1v1h-1zM358 446h1v1h-1zM360 446h1v1h-1zM385 446h1v1h-1zM390 446h1v1h-1zM334 447h1v1h-1zM336 447h1v1h-1zM351 447h1v1h-1zM354 447h1v1h-1zM359 447h1v1h-1zM361 447h1v1h-1zM329 448h1v1h-1zM336 448h1v1h-1zM342 448h1v1h-1zM349 448h1v1h-1zM356 448h1v1h-1zM360 448h1v1h-1zM387 448h1v1h-1zM330 449h1v1h-1zM332 449h1v1h-1zM335 449h1v1h-1zM340 449h1v1h-1zM346 449h2v1h-2zM349 449h1v1h-1zM359 449h2v1h-2zM362 449h2v1h-2zM391 449h1v1h-1zM327 450h1v1h-1zM329 450h1v1h-1zM337 450h1v1h-1zM339 450h2v1h-2zM347 450h1v1h-1zM349 450h1v1h-1zM351 450h1v1h-1zM355 450h1v1h-1zM385 450h1v1h-1zM391 450h1v1h-1zM333 451h1v1h-1zM335 451h2v1h-2zM338 451h2v1h-2zM342 451h3v1h-3zM346 451h1v1h-1zM349 451h1v1h-1zM352 451h2v1h-2zM358 451h1v1h-1zM362 451h1v1h-1zM331 452h1v1h-1zM340 452h2v1h-2zM348 452h1v1h-1zM362 452h1v1h-1zM387 452h1v1h-1zM329 453h2v1h-2zM337 453h1v1h-1zM341 453h1v1h-1zM338 454h1v1h-1zM344 454h1v1h-1zM348 454h2v1h-2zM354 454h1v1h-1zM356 454h1v1h-1zM360 454h1v1h-1zM329 455h1v1h-1zM332 455h1v1h-1zM336 455h1v1h-1zM346 455h1v1h-1zM356 455h1v1h-1zM329 456h1v1h-1zM344 456h1v1h-1zM348 456h1v1h-1zM354 456h1v1h-1zM359 456h1v1h-1zM362 456h1v1h-1zM330 457h1v1h-1zM338 457h1v1h-1zM342 457h1v1h-1zM345 457h1v1h-1zM348 457h1v1h-1zM356 457h1v1h-1zM362 457h1v1h-1zM386 458h1v1h-1zM329 459h1v1h-1zM352 459h1v1h-1zM357 459h1v1h-1zM359 459h1v1h-1zM361 459h1v1h-1zM386 459h2v1h-2zM344 460h2v1h-2zM349 460h1v1h-1zM357 460h1v1h-1zM360 460h3v1h-3zM385 460h2v1h-2zM331 461h1v1h-1zM338 461h1v1h-1zM351 461h1v1h-1zM353 461h1v1h-1zM360 461h1v1h-1zM362 461h1v1h-1zM365 461h1v1h-1zM333 462h1v1h-1zM354 462h1v1h-1zM360 462h1v1h-1zM362 462h1v1h-1zM329 463h1v1h-1zM353 463h1v1h-1zM365 463h1v1h-1zM337 464h1v1h-1zM359 464h1v1h-1zM361 464h1v1h-1zM385 464h2v1h-2zM342 465h1v1h-1zM358 465h1v1h-1zM364 465h1v1h-1zM332 466h1v1h-1zM359 466h1v1h-1zM384 466h2v1h-2zM363 467h2v1h-2zM387 467h1v1h-1zM348 468h1v1h-1zM384 468h1v1h-1zM387 468h1v1h-1zM351 469h1v1h-1zM359 469h1v1h-1zM361 469h1v1h-1zM386 469h1v1h-1zM364 470h2v1h-2zM345 471h1v1h-1zM349 471h1v1h-1zM362 472h1v1h-1zM360 473h1v1h-1zM362 473h1v1h-1zM385 473h1v1h-1zM362 475h1v1h-1zM384 475h1v1h-1zM342 476h1v1h-1zM364 476h1v1h-1zM337 477h1v1h-1zM364 477h1v1h-1zM389 477h1v1h-1zM341 478h1v1h-1zM384 478h1v1h-1z" fill="#484848"/><path d="M368 431h1v1h-1zM375 431h1v1h-1zM373 432h1v1h-1zM370 433h1v1h-1zM376 434h1v1h-1zM382 434h1v1h-1zM373 435h1v1h-1zM375 435h1v1h-1zM364 436h1v1h-1zM369 436h1v1h-1zM373 436h1v1h-1zM375 436h2v1h-2zM363 437h1v1h-1zM367 437h3v1h-3zM371 437h2v1h-2zM375 437h4v1h-4zM382 437h1v1h-1zM365 438h1v1h-1zM368 438h12v1h-12zM381 438h2v1h-2zM336 439h1v1h-1zM363 439h1v1h-1zM368 439h14v1h-14zM384 439h2v1h-2zM364 440h19v1h-19zM384 440h2v1h-2zM363 441h22v1h-22zM334 442h1v1h-1zM338 442h1v1h-1zM347 442h1v1h-1zM361 442h1v1h-1zM364 442h19v1h-19zM384 442h5v1h-5zM359 443h1v1h-1zM363 443h25v1h-25zM334 444h1v1h-1zM337 444h1v1h-1zM340 444h1v1h-1zM342 444h1v1h-1zM356 444h1v1h-1zM362 444h1v1h-1zM364 444h22v1h-22zM334 445h1v1h-1zM340 445h1v1h-1zM346 445h2v1h-2zM350 445h1v1h-1zM361 445h1v1h-1zM364 445h23v1h-23zM336 446h1v1h-1zM346 446h1v1h-1zM348 446h1v1h-1zM357 446h1v1h-1zM362 446h23v1h-23zM386 446h2v1h-2zM340 447h1v1h-1zM346 447h1v1h-1zM357 447h1v1h-1zM362 447h24v1h-24zM387 447h1v1h-1zM328 448h1v1h-1zM335 448h1v1h-1zM352 448h1v1h-1zM357 448h1v1h-1zM362 448h25v1h-25zM333 449h2v1h-2zM336 449h2v1h-2zM358 449h1v1h-1zM361 449h1v1h-1zM364 449h22v1h-22zM328 450h1v1h-1zM345 450h1v1h-1zM359 450h1v1h-1zM362 450h23v1h-23zM337 451h1v1h-1zM340 451h1v1h-1zM345 451h1v1h-1zM356 451h1v1h-1zM360 451h1v1h-1zM365 451h23v1h-23zM344 452h1v1h-1zM356 452h1v1h-1zM359 452h1v1h-1zM361 452h1v1h-1zM363 452h22v1h-22zM336 453h1v1h-1zM343 453h2v1h-2zM346 453h2v1h-2zM349 453h1v1h-1zM361 453h27v1h-27zM329 454h1v1h-1zM334 454h1v1h-1zM342 454h1v1h-1zM357 454h1v1h-1zM363 454h23v1h-23zM338 455h1v1h-1zM348 455h1v1h-1zM364 455h23v1h-23zM330 456h1v1h-1zM332 456h1v1h-1zM341 456h1v1h-1zM351 456h1v1h-1zM363 456h23v1h-23zM387 456h1v1h-1zM341 457h1v1h-1zM343 457h1v1h-1zM364 457h22v1h-22zM388 457h1v1h-1zM352 458h1v1h-1zM362 458h24v1h-24zM362 459h24v1h-24zM343 460h1v1h-1zM364 460h21v1h-21zM363 461h2v1h-2zM366 461h20v1h-20zM390 461h1v1h-1zM363 462h24v1h-24zM361 463h1v1h-1zM363 463h2v1h-2zM366 463h20v1h-20zM387 463h1v1h-1zM363 464h22v1h-22zM361 465h1v1h-1zM365 465h21v1h-21zM363 466h21v1h-21zM386 466h1v1h-1zM340 467h1v1h-1zM357 467h1v1h-1zM365 467h22v1h-22zM358 468h1v1h-1zM362 468h1v1h-1zM364 468h20v1h-20zM385 468h1v1h-1zM363 469h23v1h-23zM363 470h1v1h-1zM366 470h20v1h-20zM362 471h2v1h-2zM365 471h19v1h-19zM364 472h20v1h-20zM363 473h22v1h-22zM363 474h1v1h-1zM365 474h20v1h-20zM363 475h21v1h-21zM365 476h20v1h-20zM328 477h1v1h-1zM363 477h1v1h-1zM365 477h19v1h-19zM330 478h1v1h-1zM364 478h20v1h-20z" fill="#000"/></g><path d="M372.40 405.20H362.40V414.70M384.60 405.20H387.10V414.70M362.40 425.20V435.50M362.40 438.50H368.40M387.10 425.20V435.50M387.10 438.50H381.60" fill="none" stroke="#111" stroke-width="1.15"/>
<rect x="326.4" y="401.75" width="93.10000000000002" height="77.6" fill="none" stroke="#000" stroke-width="1.2"/>
<g filter="url(#sb)"><path d="M374 544h1v1h-1zM387 545h1v1h-1zM378 546h1v1h-1zM381 546h1v1h-1zM391 547h1v1h-1zM353 548h1v1h-1zM389 548h1v1h-1zM388 549h1v1h-1zM337 550h1v1h-1zM391 550h1v1h-1zM379 551h1v1h-1zM386 551h1v1h-1zM375 552h1v1h-1zM381 552h3v1h-3zM385 552h1v1h-1zM388 552h1v1h-1zM371 553h1v1h-1zM378 553h1v1h-1zM390 553h1v1h-1zM355 554h1v1h-1zM375 554h1v1h-1zM395 554h1v1h-1zM350 555h1v1h-1zM353 555h1v1h-1zM355 555h1v1h-1zM366 555h1v1h-1zM381 555h1v1h-1zM392 555h1v1h-1zM343 556h1v1h-1zM365 556h1v1h-1zM394 556h1v1h-1zM348 557h1v1h-1zM358 557h2v1h-2zM362 557h1v1h-1zM367 557h1v1h-1zM369 557h1v1h-1zM375 557h1v1h-1zM392 557h1v1h-1zM348 558h1v1h-1zM357 558h3v1h-3zM367 558h2v1h-2zM342 559h1v1h-1zM349 559h1v1h-1zM370 559h1v1h-1zM374 559h1v1h-1zM392 559h1v1h-1zM356 560h1v1h-1zM361 560h1v1h-1zM344 561h1v1h-1zM354 561h1v1h-1zM361 561h1v1h-1zM373 561h1v1h-1zM375 561h1v1h-1zM394 561h1v1h-1zM338 562h1v1h-1zM350 562h1v1h-1zM354 562h1v1h-1zM356 562h1v1h-1zM358 562h1v1h-1zM369 562h1v1h-1zM371 562h2v1h-2zM345 563h1v1h-1zM358 563h1v1h-1zM363 563h1v1h-1zM370 563h1v1h-1zM340 564h1v1h-1zM350 564h2v1h-2zM365 564h1v1h-1zM371 564h1v1h-1zM392 564h1v1h-1zM335 565h2v1h-2zM350 565h1v1h-1zM352 565h1v1h-1zM355 565h1v1h-1zM358 565h2v1h-2zM371 565h1v1h-1zM350 566h1v1h-1zM360 566h1v1h-1zM362 566h1v1h-1zM368 566h2v1h-2zM372 566h1v1h-1zM396 566h3v1h-3zM329 567h1v1h-1zM340 567h1v1h-1zM348 567h1v1h-1zM353 567h1v1h-1zM356 567h1v1h-1zM359 567h1v1h-1zM363 567h1v1h-1zM369 567h1v1h-1zM371 567h1v1h-1zM392 567h1v1h-1zM336 568h1v1h-1zM350 568h1v1h-1zM355 568h1v1h-1zM393 568h1v1h-1zM396 568h1v1h-1zM331 569h1v1h-1zM344 569h1v1h-1zM394 569h1v1h-1zM332 570h1v1h-1zM336 570h1v1h-1zM353 570h1v1h-1zM363 570h1v1h-1zM333 571h1v1h-1zM338 571h1v1h-1zM340 571h1v1h-1zM371 571h1v1h-1zM374 571h1v1h-1zM333 572h1v1h-1zM335 572h1v1h-1zM371 572h1v1h-1zM374 572h1v1h-1zM330 573h1v1h-1zM346 573h1v1h-1zM355 573h1v1h-1zM372 573h1v1h-1zM395 573h1v1h-1zM347 574h1v1h-1zM352 574h1v1h-1zM362 574h1v1h-1zM368 574h1v1h-1zM372 574h3v1h-3zM393 574h1v1h-1zM395 574h1v1h-1zM348 575h1v1h-1zM359 575h1v1h-1zM364 575h1v1h-1zM366 575h1v1h-1zM370 575h1v1h-1zM373 575h1v1h-1zM332 576h1v1h-1zM340 576h1v1h-1zM365 576h1v1h-1zM338 577h1v1h-1zM340 577h1v1h-1zM347 577h1v1h-1zM352 577h1v1h-1zM350 578h1v1h-1zM359 579h1v1h-1zM332 580h1v1h-1zM372 580h1v1h-1zM391 580h1v1h-1zM331 581h1v1h-1zM359 581h1v1h-1zM371 581h2v1h-2zM395 581h1v1h-1zM357 582h1v1h-1zM362 582h1v1h-1zM373 582h2v1h-2zM391 582h2v1h-2zM351 583h1v1h-1zM392 583h2v1h-2zM334 584h1v1h-1zM392 584h1v1h-1zM354 585h1v1h-1zM370 585h1v1h-1zM373 585h1v1h-1zM387 585h1v1h-1zM392 585h1v1h-1zM352 586h1v1h-1zM362 586h1v1h-1zM391 586h1v1h-1zM393 586h1v1h-1zM371 587h1v1h-1zM374 588h1v1h-1zM384 588h1v1h-1zM378 589h1v1h-1zM382 589h1v1h-1zM390 589h1v1h-1zM397 589h1v1h-1zM373 590h1v1h-1zM378 590h1v1h-1zM381 590h1v1h-1zM385 590h1v1h-1zM390 590h1v1h-1zM392 590h1v1h-1zM332 591h1v1h-1zM350 591h1v1h-1zM367 591h1v1h-1zM370 591h1v1h-1zM373 591h1v1h-1zM375 591h1v1h-1zM377 591h1v1h-1zM384 591h1v1h-1zM340 592h1v1h-1zM348 592h1v1h-1zM356 592h1v1h-1zM358 592h1v1h-1zM373 592h1v1h-1zM378 592h1v1h-1zM390 592h1v1h-1zM355 593h2v1h-2zM358 593h1v1h-1zM371 593h1v1h-1zM377 593h3v1h-3zM381 593h1v1h-1zM390 593h1v1h-1zM392 593h1v1h-1zM374 594h1v1h-1zM385 594h2v1h-2zM388 594h1v1h-1zM334 595h1v1h-1zM349 595h1v1h-1zM378 595h1v1h-1zM381 595h1v1h-1zM384 595h1v1h-1zM392 595h1v1h-1zM375 596h2v1h-2zM379 596h1v1h-1zM389 596h1v1h-1zM357 597h1v1h-1zM372 597h1v1h-1zM374 597h1v1h-1zM376 597h1v1h-1zM381 597h1v1h-1zM390 597h1v1h-1zM371 598h1v1h-1zM382 598h1v1h-1zM388 598h1v1h-1zM390 598h1v1h-1zM345 599h1v1h-1zM351 599h1v1h-1zM366 599h1v1h-1zM374 599h2v1h-2zM383 599h1v1h-1zM340 600h1v1h-1zM371 600h1v1h-1zM379 600h1v1h-1zM382 600h1v1h-1zM388 600h1v1h-1zM390 600h1v1h-1zM341 601h1v1h-1zM370 601h1v1h-1zM373 601h1v1h-1zM378 601h1v1h-1zM381 601h1v1h-1zM388 601h1v1h-1zM390 601h2v1h-2zM393 601h1v1h-1zM332 602h1v1h-1zM369 602h1v1h-1zM382 602h1v1h-1zM384 602h1v1h-1zM370 603h1v1h-1zM382 603h1v1h-1zM387 603h1v1h-1zM390 603h2v1h-2zM358 604h1v1h-1zM363 604h1v1h-1zM374 604h1v1h-1zM376 604h1v1h-1zM382 604h1v1h-1zM384 604h2v1h-2zM390 604h1v1h-1z" fill="#b4b4b4"/><path d="M394 545h1v1h-1zM384 546h1v1h-1zM393 546h1v1h-1zM377 547h1v1h-1zM381 547h1v1h-1zM390 549h1v1h-1zM383 550h1v1h-1zM390 550h1v1h-1zM378 551h1v1h-1zM374 552h1v1h-1zM386 552h2v1h-2zM339 553h1v1h-1zM342 553h1v1h-1zM361 553h1v1h-1zM379 553h1v1h-1zM384 553h1v1h-1zM386 553h1v1h-1zM379 554h1v1h-1zM382 554h1v1h-1zM392 554h2v1h-2zM358 555h1v1h-1zM370 555h1v1h-1zM373 555h3v1h-3zM379 555h1v1h-1zM385 555h1v1h-1zM388 555h1v1h-1zM355 556h1v1h-1zM359 556h1v1h-1zM370 556h1v1h-1zM375 556h3v1h-3zM333 558h1v1h-1zM351 558h1v1h-1zM354 558h1v1h-1zM366 558h1v1h-1zM370 558h2v1h-2zM374 558h1v1h-1zM393 558h1v1h-1zM356 559h1v1h-1zM364 559h1v1h-1zM367 559h1v1h-1zM371 559h1v1h-1zM390 559h1v1h-1zM343 560h1v1h-1zM350 560h2v1h-2zM357 560h1v1h-1zM363 560h1v1h-1zM366 560h2v1h-2zM371 560h1v1h-1zM376 560h1v1h-1zM392 560h1v1h-1zM339 561h2v1h-2zM343 561h1v1h-1zM355 561h2v1h-2zM362 561h1v1h-1zM369 561h1v1h-1zM342 562h1v1h-1zM347 562h1v1h-1zM351 562h1v1h-1zM361 562h1v1h-1zM364 562h1v1h-1zM368 562h1v1h-1zM393 562h1v1h-1zM335 563h1v1h-1zM339 563h1v1h-1zM354 563h1v1h-1zM359 563h1v1h-1zM362 563h1v1h-1zM369 563h1v1h-1zM373 563h1v1h-1zM395 563h1v1h-1zM352 564h1v1h-1zM356 564h2v1h-2zM363 564h1v1h-1zM366 564h1v1h-1zM394 564h1v1h-1zM340 565h1v1h-1zM342 565h1v1h-1zM348 565h1v1h-1zM351 565h1v1h-1zM372 565h1v1h-1zM393 565h1v1h-1zM335 566h1v1h-1zM338 566h1v1h-1zM348 566h1v1h-1zM371 566h1v1h-1zM393 566h1v1h-1zM395 566h1v1h-1zM330 567h1v1h-1zM336 567h1v1h-1zM354 567h1v1h-1zM370 567h1v1h-1zM373 567h1v1h-1zM393 567h1v1h-1zM333 568h1v1h-1zM337 568h1v1h-1zM343 568h1v1h-1zM347 568h1v1h-1zM353 568h1v1h-1zM371 568h1v1h-1zM390 568h1v1h-1zM342 569h1v1h-1zM345 569h1v1h-1zM360 569h1v1h-1zM367 569h1v1h-1zM372 569h1v1h-1zM393 569h1v1h-1zM344 570h1v1h-1zM347 570h2v1h-2zM354 570h1v1h-1zM356 570h1v1h-1zM365 570h1v1h-1zM369 570h1v1h-1zM373 570h2v1h-2zM393 570h1v1h-1zM345 571h1v1h-1zM365 571h1v1h-1zM372 571h1v1h-1zM329 572h2v1h-2zM336 572h1v1h-1zM343 572h1v1h-1zM373 572h1v1h-1zM393 572h1v1h-1zM334 573h1v1h-1zM371 573h1v1h-1zM393 573h1v1h-1zM351 574h1v1h-1zM396 574h1v1h-1zM372 575h1v1h-1zM331 576h1v1h-1zM370 576h1v1h-1zM372 576h1v1h-1zM395 576h1v1h-1zM335 577h1v1h-1zM343 577h2v1h-2zM394 577h1v1h-1zM337 578h1v1h-1zM356 578h1v1h-1zM387 578h1v1h-1zM395 578h1v1h-1zM349 579h1v1h-1zM391 579h1v1h-1zM349 580h1v1h-1zM368 580h1v1h-1zM371 580h1v1h-1zM394 580h1v1h-1zM373 581h1v1h-1zM391 581h1v1h-1zM371 582h2v1h-2zM339 583h1v1h-1zM341 583h1v1h-1zM361 583h1v1h-1zM363 583h1v1h-1zM372 583h2v1h-2zM338 584h1v1h-1zM367 584h1v1h-1zM370 584h1v1h-1zM394 584h1v1h-1zM353 585h1v1h-1zM356 585h1v1h-1zM372 585h1v1h-1zM376 585h1v1h-1zM378 585h1v1h-1zM395 585h1v1h-1zM333 586h1v1h-1zM341 586h1v1h-1zM361 586h1v1h-1zM370 586h1v1h-1zM383 586h1v1h-1zM392 586h1v1h-1zM339 587h1v1h-1zM341 587h1v1h-1zM373 587h1v1h-1zM379 587h1v1h-1zM392 587h1v1h-1zM347 588h1v1h-1zM370 588h1v1h-1zM380 588h2v1h-2zM385 588h1v1h-1zM390 588h1v1h-1zM361 589h1v1h-1zM375 589h1v1h-1zM385 589h2v1h-2zM391 589h1v1h-1zM394 589h1v1h-1zM346 590h1v1h-1zM377 590h1v1h-1zM386 590h1v1h-1zM388 590h2v1h-2zM393 590h1v1h-1zM374 591h1v1h-1zM379 591h1v1h-1zM381 591h1v1h-1zM393 591h1v1h-1zM334 592h1v1h-1zM355 592h1v1h-1zM371 592h2v1h-2zM382 592h1v1h-1zM384 592h3v1h-3zM389 592h1v1h-1zM392 592h1v1h-1zM394 592h1v1h-1zM366 593h1v1h-1zM373 593h1v1h-1zM376 593h1v1h-1zM380 593h1v1h-1zM384 593h1v1h-1zM386 593h1v1h-1zM388 593h2v1h-2zM397 593h1v1h-1zM334 594h1v1h-1zM344 594h1v1h-1zM376 594h1v1h-1zM378 594h1v1h-1zM381 594h2v1h-2zM394 594h1v1h-1zM337 595h1v1h-1zM387 595h1v1h-1zM332 596h1v1h-1zM352 596h1v1h-1zM373 596h1v1h-1zM377 596h2v1h-2zM380 596h2v1h-2zM390 596h1v1h-1zM349 597h1v1h-1zM353 597h1v1h-1zM375 597h1v1h-1zM380 597h1v1h-1zM383 597h1v1h-1zM385 597h2v1h-2zM388 597h1v1h-1zM391 597h1v1h-1zM394 597h2v1h-2zM347 598h1v1h-1zM375 598h1v1h-1zM383 598h1v1h-1zM386 598h2v1h-2zM362 599h1v1h-1zM378 599h2v1h-2zM381 599h1v1h-1zM351 600h1v1h-1zM373 600h2v1h-2zM376 600h1v1h-1zM381 600h1v1h-1zM346 601h1v1h-1zM358 601h1v1h-1zM369 601h1v1h-1zM372 601h1v1h-1zM376 601h1v1h-1zM385 601h1v1h-1zM387 601h1v1h-1zM342 602h1v1h-1zM370 602h1v1h-1zM374 602h3v1h-3zM378 602h2v1h-2zM385 602h1v1h-1zM388 602h3v1h-3zM337 603h1v1h-1zM378 603h1v1h-1zM384 603h1v1h-1zM386 603h1v1h-1zM388 603h2v1h-2zM337 604h1v1h-1zM372 604h1v1h-1zM377 604h1v1h-1zM393 604h1v1h-1z" fill="#7c7c7c"/><path d="M384 548h1v1h-1zM383 549h1v1h-1zM383 551h1v1h-1zM385 551h1v1h-1zM376 552h1v1h-1zM382 553h1v1h-1zM380 554h1v1h-1zM383 554h1v1h-1zM388 554h1v1h-1zM357 555h1v1h-1zM384 555h1v1h-1zM389 555h1v1h-1zM378 556h1v1h-1zM389 556h1v1h-1zM364 557h1v1h-1zM376 557h1v1h-1zM388 557h1v1h-1zM390 557h1v1h-1zM375 558h1v1h-1zM373 560h1v1h-1zM396 560h1v1h-1zM335 561h1v1h-1zM345 561h1v1h-1zM360 561h1v1h-1zM393 561h1v1h-1zM373 562h1v1h-1zM361 563h1v1h-1zM364 563h1v1h-1zM372 563h1v1h-1zM394 563h1v1h-1zM349 564h1v1h-1zM373 564h1v1h-1zM373 565h1v1h-1zM352 566h1v1h-1zM349 568h1v1h-1zM391 568h1v1h-1zM346 570h1v1h-1zM372 570h1v1h-1zM392 570h1v1h-1zM364 571h1v1h-1zM337 572h1v1h-1zM345 572h1v1h-1zM394 572h1v1h-1zM392 574h1v1h-1zM371 575h1v1h-1zM392 575h1v1h-1zM373 576h1v1h-1zM392 576h2v1h-2zM374 577h1v1h-1zM392 577h2v1h-2zM391 578h1v1h-1zM371 579h1v1h-1zM374 579h1v1h-1zM392 579h1v1h-1zM374 580h1v1h-1zM390 580h1v1h-1zM370 581h1v1h-1zM374 581h1v1h-1zM392 581h1v1h-1zM383 582h1v1h-1zM382 583h1v1h-1zM390 583h2v1h-2zM380 584h1v1h-1zM383 584h1v1h-1zM391 584h1v1h-1zM375 585h1v1h-1zM391 585h1v1h-1zM375 586h1v1h-1zM377 586h1v1h-1zM387 586h2v1h-2zM390 586h1v1h-1zM375 587h1v1h-1zM378 587h1v1h-1zM381 587h2v1h-2zM389 587h1v1h-1zM372 588h1v1h-1zM375 588h2v1h-2zM386 588h3v1h-3zM391 588h2v1h-2zM370 589h1v1h-1zM383 589h2v1h-2zM387 589h1v1h-1zM374 590h3v1h-3zM380 590h1v1h-1zM383 590h1v1h-1zM387 590h1v1h-1zM376 591h1v1h-1zM385 591h1v1h-1zM387 591h1v1h-1zM390 591h1v1h-1zM370 592h1v1h-1zM379 592h1v1h-1zM381 592h1v1h-1zM387 592h1v1h-1zM382 593h2v1h-2zM385 593h1v1h-1zM363 594h1v1h-1zM375 594h1v1h-1zM389 594h2v1h-2zM380 595h1v1h-1zM382 595h2v1h-2zM389 595h1v1h-1zM377 597h1v1h-1zM382 597h1v1h-1zM384 597h1v1h-1zM373 598h1v1h-1zM377 598h2v1h-2zM385 598h1v1h-1zM392 598h1v1h-1zM373 599h1v1h-1zM382 599h1v1h-1zM388 599h1v1h-1zM353 600h1v1h-1zM377 600h1v1h-1zM385 600h1v1h-1zM362 601h1v1h-1zM371 601h1v1h-1zM375 601h1v1h-1zM382 601h1v1h-1zM386 602h1v1h-1zM363 603h1v1h-1zM373 603h2v1h-2zM376 603h2v1h-2zM383 603h1v1h-1zM385 603h1v1h-1zM375 604h1v1h-1zM383 604h1v1h-1zM387 604h3v1h-3z" fill="#484848"/><path d="M386 554h1v1h-1zM377 555h1v1h-1zM380 555h1v1h-1zM382 555h2v1h-2zM386 555h1v1h-1zM379 556h10v1h-10zM390 556h1v1h-1zM377 557h11v1h-11zM389 557h1v1h-1zM376 558h16v1h-16zM361 559h1v1h-1zM373 559h1v1h-1zM376 559h14v1h-14zM391 559h1v1h-1zM374 560h2v1h-2zM377 560h15v1h-15zM374 561h1v1h-1zM376 561h17v1h-17zM374 562h19v1h-19zM374 563h19v1h-19zM374 564h18v1h-18zM374 565h18v1h-18zM342 566h1v1h-1zM373 566h20v1h-20zM374 567h18v1h-18zM372 568h18v1h-18zM392 568h1v1h-1zM373 569h20v1h-20zM375 570h17v1h-17zM375 571h18v1h-18zM372 572h1v1h-1zM375 572h18v1h-18zM373 573h19v1h-19zM375 574h17v1h-17zM374 575h18v1h-18zM374 576h18v1h-18zM375 577h17v1h-17zM373 578h14v1h-14zM388 578h3v1h-3zM392 578h1v1h-1zM375 579h16v1h-16zM375 580h15v1h-15zM392 580h1v1h-1zM375 581h16v1h-16zM375 582h8v1h-8zM384 582h7v1h-7zM375 583h7v1h-7zM383 583h7v1h-7zM373 584h7v1h-7zM381 584h2v1h-2zM384 584h7v1h-7zM374 585h1v1h-1zM377 585h1v1h-1zM379 585h8v1h-8zM388 585h3v1h-3zM376 586h1v1h-1zM378 586h5v1h-5zM384 586h3v1h-3zM389 586h1v1h-1zM376 587h2v1h-2zM380 587h1v1h-1zM383 587h6v1h-6zM390 587h1v1h-1zM377 588h3v1h-3zM382 588h2v1h-2zM389 588h1v1h-1zM377 589h1v1h-1zM379 589h3v1h-3zM388 589h1v1h-1zM392 589h1v1h-1zM378 591h1v1h-1zM380 591h1v1h-1zM382 591h1v1h-1zM386 591h1v1h-1zM376 592h1v1h-1zM383 592h1v1h-1zM388 592h1v1h-1zM373 594h1v1h-1zM377 594h1v1h-1zM379 594h1v1h-1zM384 594h1v1h-1zM373 595h1v1h-1zM376 595h1v1h-1zM391 595h1v1h-1zM372 596h1v1h-1zM384 596h2v1h-2zM388 596h1v1h-1zM391 596h1v1h-1zM378 597h1v1h-1zM387 597h1v1h-1zM374 598h1v1h-1zM376 598h1v1h-1zM379 598h2v1h-2zM372 599h1v1h-1zM384 599h3v1h-3zM378 600h1v1h-1zM380 600h1v1h-1zM380 601h1v1h-1zM383 601h1v1h-1zM389 601h1v1h-1zM392 601h1v1h-1zM377 602h1v1h-1zM380 602h2v1h-2zM381 604h1v1h-1z" fill="#000"/></g><path d="M383.90 531.80H373.90V541.40M393.60 531.80H393.60V541.40M373.90 551.50V554.70H385.90M393.60 551.50V554.70H390.60" fill="none" stroke="#111" stroke-width="1.15"/>
<rect x="326.4" y="527.5" width="93.10000000000002" height="77.6" fill="none" stroke="#000" stroke-width="1.2"/>
<g filter="url(#sb)"><path d="M369 656h1v1h-1zM373 657h1v1h-1zM365 658h1v1h-1zM371 658h1v1h-1zM360 659h1v1h-1zM369 659h1v1h-1zM372 659h2v1h-2zM380 659h1v1h-1zM353 660h1v1h-1zM357 660h1v1h-1zM360 660h1v1h-1zM368 660h1v1h-1zM374 660h1v1h-1zM379 660h1v1h-1zM360 661h2v1h-2zM379 661h1v1h-1zM361 662h1v1h-1zM366 662h1v1h-1zM378 662h1v1h-1zM361 663h1v1h-1zM382 663h2v1h-2zM359 664h1v1h-1zM363 664h1v1h-1zM382 664h1v1h-1zM388 664h1v1h-1zM357 665h2v1h-2zM360 665h1v1h-1zM384 665h2v1h-2zM357 666h2v1h-2zM382 666h2v1h-2zM357 667h1v1h-1zM360 667h1v1h-1zM366 668h1v1h-1zM368 668h1v1h-1zM377 668h1v1h-1zM359 669h1v1h-1zM361 669h1v1h-1zM365 669h1v1h-1zM367 669h1v1h-1zM372 669h1v1h-1zM378 669h1v1h-1zM382 669h1v1h-1zM369 670h1v1h-1zM377 670h1v1h-1zM380 670h1v1h-1zM367 671h1v1h-1zM369 671h3v1h-3zM377 671h1v1h-1zM382 671h1v1h-1zM363 672h1v1h-1zM374 672h2v1h-2zM378 673h1v1h-1zM368 674h1v1h-1zM375 674h1v1h-1zM379 674h1v1h-1zM378 675h1v1h-1zM382 675h1v1h-1zM378 678h1v1h-1zM377 679h2v1h-2zM383 679h1v1h-1zM374 680h1v1h-1zM384 680h1v1h-1zM377 681h2v1h-2zM382 681h1v1h-1zM379 683h1v1h-1zM385 684h1v1h-1zM340 685h1v1h-1zM376 685h1v1h-1zM383 685h1v1h-1zM379 686h1v1h-1zM338 687h1v1h-1zM372 687h2v1h-2zM382 687h7v1h-7zM336 688h1v1h-1zM373 688h1v1h-1zM376 688h1v1h-1zM378 688h1v1h-1zM388 688h1v1h-1zM369 689h1v1h-1zM389 689h1v1h-1zM392 689h1v1h-1zM368 690h1v1h-1zM389 691h1v1h-1zM391 691h1v1h-1zM352 692h1v1h-1zM368 692h1v1h-1zM370 692h1v1h-1zM387 692h1v1h-1zM389 692h1v1h-1zM396 692h1v1h-1zM353 693h1v1h-1zM360 693h1v1h-1zM392 693h1v1h-1zM341 694h1v1h-1zM394 694h1v1h-1zM346 695h1v1h-1zM355 695h2v1h-2zM367 695h2v1h-2zM390 695h1v1h-1zM392 695h1v1h-1zM335 696h2v1h-2zM340 696h1v1h-1zM344 696h1v1h-1zM352 696h1v1h-1zM346 697h1v1h-1zM354 697h1v1h-1zM366 697h1v1h-1zM342 698h1v1h-1zM346 698h1v1h-1zM369 698h1v1h-1zM338 699h1v1h-1zM344 699h1v1h-1zM352 699h1v1h-1zM358 699h1v1h-1zM361 699h1v1h-1zM367 699h1v1h-1zM392 699h1v1h-1zM334 700h1v1h-1zM337 700h1v1h-1zM391 700h1v1h-1zM339 701h1v1h-1zM341 701h1v1h-1zM344 701h1v1h-1zM356 701h1v1h-1zM367 701h1v1h-1zM392 701h1v1h-1zM335 702h1v1h-1zM338 702h2v1h-2zM350 702h1v1h-1zM366 702h1v1h-1zM390 702h1v1h-1zM393 702h1v1h-1zM338 703h1v1h-1zM342 703h1v1h-1zM346 703h1v1h-1zM369 703h1v1h-1zM391 703h1v1h-1zM338 704h1v1h-1zM345 704h1v1h-1zM348 704h1v1h-1zM391 704h1v1h-1zM394 704h1v1h-1zM337 705h1v1h-1zM341 705h1v1h-1zM343 705h1v1h-1zM350 705h1v1h-1zM353 705h1v1h-1zM389 705h1v1h-1zM393 705h1v1h-1zM333 706h1v1h-1zM342 706h1v1h-1zM344 706h1v1h-1zM347 706h1v1h-1zM355 706h1v1h-1zM330 707h1v1h-1zM334 707h1v1h-1zM344 707h3v1h-3zM350 707h1v1h-1zM355 707h1v1h-1zM389 707h1v1h-1zM343 708h1v1h-1zM367 708h1v1h-1zM391 708h1v1h-1zM344 709h1v1h-1zM348 709h1v1h-1zM354 709h1v1h-1zM369 709h1v1h-1zM348 710h1v1h-1zM350 710h1v1h-1zM389 711h1v1h-1zM391 711h1v1h-1zM333 712h1v1h-1zM348 712h1v1h-1zM369 712h1v1h-1zM349 713h1v1h-1zM349 714h1v1h-1zM355 714h1v1h-1zM391 714h1v1h-1zM335 715h1v1h-1zM339 715h1v1h-1zM344 715h1v1h-1zM353 715h1v1h-1zM369 715h1v1h-1zM390 715h1v1h-1zM341 716h1v1h-1zM343 716h1v1h-1zM392 716h1v1h-1zM334 717h1v1h-1zM344 717h1v1h-1zM369 717h2v1h-2zM389 717h2v1h-2zM337 718h1v1h-1zM339 718h1v1h-1zM390 718h1v1h-1zM391 719h1v1h-1zM348 720h1v1h-1zM391 720h1v1h-1zM349 721h1v1h-1zM388 724h1v1h-1zM344 725h1v1h-1zM349 725h1v1h-1zM369 725h1v1h-1zM386 725h2v1h-2zM342 726h1v1h-1zM329 727h1v1h-1zM348 727h2v1h-2zM355 729h1v1h-1zM372 730h1v1h-1zM386 730h1v1h-1zM389 730h1v1h-1z" fill="#b4b4b4"/><path d="M365 654h1v1h-1zM373 654h1v1h-1zM360 655h1v1h-1zM364 656h1v1h-1zM360 657h1v1h-1zM366 657h1v1h-1zM370 657h1v1h-1zM369 658h1v1h-1zM372 658h2v1h-2zM387 658h1v1h-1zM392 658h1v1h-1zM370 659h2v1h-2zM376 659h1v1h-1zM379 659h1v1h-1zM376 660h1v1h-1zM378 660h1v1h-1zM382 660h1v1h-1zM358 661h1v1h-1zM362 661h3v1h-3zM366 661h1v1h-1zM375 661h1v1h-1zM378 661h1v1h-1zM380 661h1v1h-1zM386 661h1v1h-1zM367 662h1v1h-1zM376 662h1v1h-1zM379 662h1v1h-1zM364 663h1v1h-1zM388 663h1v1h-1zM365 664h1v1h-1zM383 664h2v1h-2zM363 665h1v1h-1zM373 665h1v1h-1zM377 665h1v1h-1zM365 666h1v1h-1zM359 667h1v1h-1zM361 667h2v1h-2zM368 667h1v1h-1zM378 667h2v1h-2zM389 667h1v1h-1zM364 668h2v1h-2zM373 668h1v1h-1zM375 668h1v1h-1zM379 668h3v1h-3zM349 669h1v1h-1zM369 669h1v1h-1zM375 669h2v1h-2zM381 669h1v1h-1zM385 669h1v1h-1zM381 670h1v1h-1zM368 671h1v1h-1zM373 671h1v1h-1zM375 671h1v1h-1zM378 671h1v1h-1zM367 672h1v1h-1zM377 672h1v1h-1zM380 672h1v1h-1zM364 673h1v1h-1zM372 673h2v1h-2zM377 673h1v1h-1zM376 674h1v1h-1zM376 675h1v1h-1zM357 676h1v1h-1zM373 676h1v1h-1zM378 676h1v1h-1zM385 676h1v1h-1zM377 677h1v1h-1zM371 678h1v1h-1zM374 678h1v1h-1zM376 678h1v1h-1zM382 678h1v1h-1zM374 679h1v1h-1zM377 680h3v1h-3zM379 681h1v1h-1zM384 682h1v1h-1zM377 683h1v1h-1zM380 683h1v1h-1zM346 684h1v1h-1zM380 684h1v1h-1zM372 685h1v1h-1zM385 685h1v1h-1zM357 686h1v1h-1zM370 686h1v1h-1zM374 686h1v1h-1zM380 686h1v1h-1zM382 686h2v1h-2zM333 687h1v1h-1zM374 687h2v1h-2zM372 688h1v1h-1zM380 688h1v1h-1zM384 688h1v1h-1zM386 688h1v1h-1zM349 689h1v1h-1zM373 689h1v1h-1zM377 689h1v1h-1zM380 689h1v1h-1zM386 689h1v1h-1zM332 690h1v1h-1zM344 690h1v1h-1zM369 690h1v1h-1zM368 691h1v1h-1zM373 691h1v1h-1zM387 691h1v1h-1zM349 692h1v1h-1zM355 692h2v1h-2zM367 692h1v1h-1zM391 692h1v1h-1zM341 693h1v1h-1zM393 693h1v1h-1zM349 694h1v1h-1zM361 694h1v1h-1zM332 696h2v1h-2zM355 696h1v1h-1zM368 696h1v1h-1zM390 696h1v1h-1zM340 697h1v1h-1zM342 697h1v1h-1zM345 697h1v1h-1zM367 697h1v1h-1zM349 698h1v1h-1zM358 698h1v1h-1zM368 698h1v1h-1zM390 698h1v1h-1zM395 698h1v1h-1zM327 699h1v1h-1zM333 699h1v1h-1zM336 699h1v1h-1zM341 699h1v1h-1zM343 699h1v1h-1zM348 699h1v1h-1zM355 699h1v1h-1zM362 699h1v1h-1zM394 699h1v1h-1zM338 700h1v1h-1zM341 700h1v1h-1zM343 700h1v1h-1zM350 700h1v1h-1zM366 700h2v1h-2zM392 700h1v1h-1zM334 701h1v1h-1zM345 701h1v1h-1zM348 701h1v1h-1zM353 701h1v1h-1zM366 701h1v1h-1zM329 702h1v1h-1zM349 702h1v1h-1zM352 702h2v1h-2zM356 702h1v1h-1zM361 702h1v1h-1zM364 702h1v1h-1zM367 702h2v1h-2zM395 702h1v1h-1zM331 703h1v1h-1zM336 703h1v1h-1zM339 703h1v1h-1zM341 703h1v1h-1zM349 703h1v1h-1zM343 704h2v1h-2zM350 704h1v1h-1zM353 704h1v1h-1zM367 704h1v1h-1zM332 705h1v1h-1zM336 705h1v1h-1zM344 705h1v1h-1zM347 705h1v1h-1zM341 706h1v1h-1zM343 706h1v1h-1zM348 706h1v1h-1zM352 706h1v1h-1zM367 706h2v1h-2zM389 706h1v1h-1zM335 707h2v1h-2zM338 707h1v1h-1zM359 707h2v1h-2zM368 707h1v1h-1zM390 707h1v1h-1zM336 708h1v1h-1zM340 708h1v1h-1zM353 708h1v1h-1zM357 708h1v1h-1zM366 708h1v1h-1zM369 708h1v1h-1zM393 708h1v1h-1zM332 709h1v1h-1zM341 709h1v1h-1zM349 709h2v1h-2zM357 709h1v1h-1zM390 709h1v1h-1zM349 710h1v1h-1zM358 710h1v1h-1zM365 710h1v1h-1zM389 710h1v1h-1zM350 711h1v1h-1zM354 711h1v1h-1zM356 711h1v1h-1zM370 711h1v1h-1zM392 711h1v1h-1zM347 712h1v1h-1zM389 712h2v1h-2zM331 713h1v1h-1zM337 713h1v1h-1zM367 713h1v1h-1zM370 713h1v1h-1zM388 713h2v1h-2zM338 714h1v1h-1zM345 714h1v1h-1zM357 714h1v1h-1zM369 714h1v1h-1zM389 714h1v1h-1zM399 714h1v1h-1zM356 717h1v1h-1zM391 717h1v1h-1zM338 718h1v1h-1zM335 719h1v1h-1zM349 719h1v1h-1zM341 720h1v1h-1zM370 720h2v1h-2zM340 721h1v1h-1zM344 721h1v1h-1zM348 721h1v1h-1zM354 721h1v1h-1zM360 721h1v1h-1zM387 721h3v1h-3zM342 722h1v1h-1zM386 723h1v1h-1zM370 724h2v1h-2zM341 725h1v1h-1zM331 726h1v1h-1zM338 726h1v1h-1zM371 726h1v1h-1zM386 726h1v1h-1zM372 727h1v1h-1zM388 727h1v1h-1zM371 728h1v1h-1zM386 728h1v1h-1zM388 728h1v1h-1zM368 729h1v1h-1zM386 729h2v1h-2zM360 730h1v1h-1zM373 730h1v1h-1z" fill="#7c7c7c"/><path d="M374 658h1v1h-1zM365 659h1v1h-1zM365 660h2v1h-2zM369 660h1v1h-1zM372 660h2v1h-2zM375 660h1v1h-1zM381 660h1v1h-1zM365 661h1v1h-1zM369 661h1v1h-1zM374 661h1v1h-1zM376 661h2v1h-2zM360 662h1v1h-1zM368 662h1v1h-1zM380 662h1v1h-1zM363 663h1v1h-1zM365 663h1v1h-1zM375 663h1v1h-1zM378 663h1v1h-1zM387 663h1v1h-1zM358 664h1v1h-1zM364 664h1v1h-1zM376 664h2v1h-2zM381 664h1v1h-1zM361 665h1v1h-1zM364 665h2v1h-2zM374 665h1v1h-1zM376 665h1v1h-1zM379 665h1v1h-1zM362 666h1v1h-1zM379 666h1v1h-1zM364 667h1v1h-1zM369 667h1v1h-1zM373 667h2v1h-2zM363 668h1v1h-1zM367 668h1v1h-1zM371 668h2v1h-2zM376 668h1v1h-1zM379 669h1v1h-1zM376 679h1v1h-1zM386 679h1v1h-1zM380 680h1v1h-1zM380 681h1v1h-1zM383 684h1v1h-1zM380 685h1v1h-1zM384 686h1v1h-1zM374 688h2v1h-2zM377 688h1v1h-1zM381 688h2v1h-2zM385 688h1v1h-1zM387 688h1v1h-1zM374 689h1v1h-1zM383 689h1v1h-1zM371 690h1v1h-1zM386 690h1v1h-1zM389 690h1v1h-1zM369 691h1v1h-1zM388 691h1v1h-1zM390 691h1v1h-1zM369 692h1v1h-1zM388 692h1v1h-1zM368 693h1v1h-1zM370 693h1v1h-1zM368 694h1v1h-1zM391 695h1v1h-1zM367 696h1v1h-1zM368 697h2v1h-2zM389 697h1v1h-1zM367 698h1v1h-1zM366 699h1v1h-1zM369 699h1v1h-1zM390 699h1v1h-1zM344 702h2v1h-2zM369 702h1v1h-1zM343 703h1v1h-1zM367 703h1v1h-1zM389 703h1v1h-1zM349 704h1v1h-1zM369 704h1v1h-1zM390 704h1v1h-1zM368 705h1v1h-1zM370 706h1v1h-1zM392 707h1v1h-1zM368 708h1v1h-1zM388 708h2v1h-2zM370 709h1v1h-1zM389 709h1v1h-1zM344 710h1v1h-1zM368 711h1v1h-1zM350 712h1v1h-1zM387 712h1v1h-1zM370 715h1v1h-1zM388 715h1v1h-1zM369 716h2v1h-2zM387 716h3v1h-3zM372 719h1v1h-1zM387 719h1v1h-1zM370 722h1v1h-1zM387 722h1v1h-1zM385 723h1v1h-1zM373 724h1v1h-1zM372 725h1v1h-1zM388 725h1v1h-1zM372 726h1v1h-1zM373 727h1v1h-1zM385 727h1v1h-1zM372 728h2v1h-2z" fill="#484848"/><path d="M367 658h1v1h-1zM374 659h2v1h-2zM370 660h2v1h-2zM377 660h1v1h-1zM367 661h2v1h-2zM370 661h4v1h-4zM362 662h1v1h-1zM365 662h1v1h-1zM369 662h7v1h-7zM381 662h1v1h-1zM366 663h3v1h-3zM370 663h5v1h-5zM376 663h2v1h-2zM381 663h1v1h-1zM366 664h10v1h-10zM378 664h3v1h-3zM366 665h7v1h-7zM375 665h1v1h-1zM378 665h1v1h-1zM363 666h2v1h-2zM366 666h2v1h-2zM369 666h8v1h-8zM378 666h1v1h-1zM380 666h1v1h-1zM366 667h2v1h-2zM370 667h3v1h-3zM375 667h3v1h-3zM381 667h1v1h-1zM369 668h2v1h-2zM374 668h1v1h-1zM364 669h1v1h-1zM366 669h1v1h-1zM370 669h1v1h-1zM373 669h2v1h-2zM372 670h1v1h-1zM380 682h1v1h-1zM379 688h1v1h-1zM383 688h1v1h-1zM375 689h2v1h-2zM378 689h2v1h-2zM381 689h2v1h-2zM384 689h2v1h-2zM370 690h1v1h-1zM372 690h14v1h-14zM387 690h1v1h-1zM371 691h2v1h-2zM374 691h13v1h-13zM371 692h16v1h-16zM369 693h1v1h-1zM371 693h20v1h-20zM369 694h21v1h-21zM369 695h21v1h-21zM369 696h21v1h-21zM370 697h19v1h-19zM390 697h2v1h-2zM370 698h20v1h-20zM337 699h1v1h-1zM353 699h1v1h-1zM368 699h1v1h-1zM370 699h20v1h-20zM368 700h22v1h-22zM368 701h23v1h-23zM348 702h1v1h-1zM370 702h20v1h-20zM347 703h1v1h-1zM368 703h1v1h-1zM370 703h19v1h-19zM390 703h1v1h-1zM370 704h20v1h-20zM370 705h19v1h-19zM390 705h1v1h-1zM369 706h1v1h-1zM371 706h18v1h-18zM369 707h20v1h-20zM370 708h18v1h-18zM351 709h1v1h-1zM371 709h18v1h-18zM337 710h1v1h-1zM369 710h20v1h-20zM347 711h1v1h-1zM371 711h18v1h-18zM370 712h17v1h-17zM388 712h1v1h-1zM371 713h17v1h-17zM370 714h19v1h-19zM372 715h16v1h-16zM372 716h15v1h-15zM371 717h17v1h-17zM371 718h17v1h-17zM371 719h1v1h-1zM373 719h14v1h-14zM388 719h1v1h-1zM372 720h16v1h-16zM371 721h16v1h-16zM371 722h16v1h-16zM372 723h13v1h-13zM387 723h1v1h-1zM372 724h1v1h-1zM374 724h13v1h-13zM373 725h13v1h-13zM373 726h13v1h-13zM374 727h11v1h-11zM387 727h1v1h-1zM374 728h12v1h-12zM373 729h13v1h-13zM374 730h12v1h-12z" fill="#000"/></g><path d="M370.40 655.50H360.40V665.20M382.50 655.50H389.30V665.20M360.40 675.90V685.00H371.10M389.30 675.90V685.00H382.50" fill="none" stroke="#111" stroke-width="1.15"/>
<rect x="326.4" y="653.75" width="93.10000000000002" height="77.6" fill="none" stroke="#000" stroke-width="1.2"/>
<rect x="458.6" y="11.1" width="58.89999999999998" height="103.80000000000001" fill="none" stroke="#000" stroke-width="1.2"/>
<line x1="456.6" y1="30.5" x2="458.6" y2="30.5" stroke="#000" stroke-width="1.1"/>
<text x="455.40000000000003" y="33.1" font-family='"Liberation Serif", serif' font-size="5" text-anchor="end" fill="#555">1</text>
<line x1="456.6" y1="46.0" x2="458.6" y2="46.0" stroke="#000" stroke-width="1.1"/>
<text x="455.40000000000003" y="48.6" font-family='"Liberation Serif", serif' font-size="5" text-anchor="end" fill="#555">0.8</text>
<line x1="456.6" y1="62.6" x2="458.6" y2="62.6" stroke="#000" stroke-width="1.1"/>
<text x="455.40000000000003" y="65.2" font-family='"Liberation Serif", serif' font-size="5" text-anchor="end" fill="#555">0.6</text>
<line x1="456.6" y1="79.6" x2="458.6" y2="79.6" stroke="#000" stroke-width="1.1"/>
<text x="455.40000000000003" y="82.19999999999999" font-family='"Liberation Serif", serif' font-size="5" text-anchor="end" fill="#555">0.4</text>
<line x1="456.6" y1="95.6" x2="458.6" y2="95.6" stroke="#000" stroke-width="1.1"/>
<text x="455.40000000000003" y="98.19999999999999" font-family='"Liberation Serif", serif' font-size="5" text-anchor="end" fill="#555">0.2</text>
<line x1="456.6" y1="114.9" x2="458.6" y2="114.9" stroke="#000" stroke-width="1.1"/>
<text x="455.40000000000003" y="117.5" font-family='"Liberation Serif", serif' font-size="5" text-anchor="end" fill="#555">0</text>
<path d="M457.1 36.67L460.1 39.52L460.1 42.42L457.1 39.58z" fill="#fff"/>
<path d="M456.2 35.02L463.6 42.05M454 37.43L462.5 45.50" stroke="#000" stroke-width="1.3"/>
<text transform="translate(445.7,68.1) rotate(-90)" font-family='"Liberation Serif", serif' font-size="8.4" font-weight="bold" textLength="10.599999999999994" lengthAdjust="spacingAndGlyphs">k12</text>
<circle cx="468.6" cy="30.7" r="1.3" fill="none" stroke="#000" stroke-width="1.1"/>
<circle cx="469.0" cy="63.2" r="1.3" fill="none" stroke="#000" stroke-width="1.1"/>
<circle cx="469.0" cy="68.5" r="1.3" fill="none" stroke="#000" stroke-width="1.1"/>
<circle cx="469.0" cy="70.4" r="1.3" fill="none" stroke="#000" stroke-width="1.1"/>
<circle cx="468.0" cy="86.8" r="1.3" fill="none" stroke="#000" stroke-width="1.1"/>
<circle cx="470.0" cy="88" r="1.3" fill="none" stroke="#000" stroke-width="1.1"/>
<circle cx="469.0" cy="90.6" r="1.3" fill="none" stroke="#000" stroke-width="1.1"/>
<circle cx="468.3" cy="92.9" r="1.3" fill="none" stroke="#000" stroke-width="1.1"/>
<circle cx="469.6" cy="95.8" r="1.3" fill="none" stroke="#000" stroke-width="1.1"/>
<circle cx="468.6" cy="97" r="1.3" fill="none" stroke="#000" stroke-width="1.1"/>
<circle cx="469.0" cy="102.2" r="1.3" fill="none" stroke="#000" stroke-width="1.1"/>
<circle cx="485.9" cy="81.2" r="1.3" fill="none" stroke="#000" stroke-width="1.1"/>
<circle cx="490.1" cy="81.2" r="1.3" fill="none" stroke="#000" stroke-width="1.1"/>
<circle cx="488.2" cy="87.2" r="1.3" fill="none" stroke="#000" stroke-width="1.1"/>
<circle cx="488.2" cy="90.6" r="1.3" fill="none" stroke="#000" stroke-width="1.1"/>
<circle cx="485.7" cy="92.3" r="1.3" fill="none" stroke="#000" stroke-width="1.1"/>
<circle cx="490.9" cy="92.9" r="1.3" fill="none" stroke="#000" stroke-width="1.1"/>
<circle cx="488.2" cy="94.7" r="1.3" fill="none" stroke="#000" stroke-width="1.1"/>
<circle cx="485.1" cy="96.4" r="1.3" fill="none" stroke="#000" stroke-width="1.1"/>
<circle cx="490.3" cy="97" r="1.3" fill="none" stroke="#000" stroke-width="1.1"/>
<circle cx="488.2" cy="98.7" r="1.3" fill="none" stroke="#000" stroke-width="1.1"/>
<circle cx="485.7" cy="103.3" r="1.3" fill="none" stroke="#000" stroke-width="1.1"/>
<circle cx="490.9" cy="103.9" r="1.3" fill="none" stroke="#000" stroke-width="1.1"/>
<circle cx="486.8" cy="105.6" r="1.3" fill="none" stroke="#000" stroke-width="1.1"/>
<circle cx="489.7" cy="106.8" r="1.3" fill="none" stroke="#000" stroke-width="1.1"/>
<circle cx="485.1" cy="108.5" r="1.3" fill="none" stroke="#000" stroke-width="1.1"/>
<circle cx="491.5" cy="108.5" r="1.3" fill="none" stroke="#000" stroke-width="1.1"/>
<circle cx="488.2" cy="110.2" r="1.3" fill="none" stroke="#000" stroke-width="1.1"/>
<circle cx="486.8" cy="112" r="1.3" fill="none" stroke="#000" stroke-width="1.1"/>
<circle cx="489.2" cy="113.1" r="1.3" fill="none" stroke="#000" stroke-width="1.1"/>
<circle cx="507.0" cy="68.9" r="1.3" fill="none" stroke="#000" stroke-width="1.1"/>
<circle cx="507.0" cy="83.7" r="1.3" fill="none" stroke="#000" stroke-width="1.1"/>
<circle cx="507.0" cy="86.9" r="1.3" fill="none" stroke="#000" stroke-width="1.1"/>
<circle cx="507.0" cy="96.4" r="1.3" fill="none" stroke="#000" stroke-width="1.1"/>
<circle cx="504.7" cy="99.3" r="1.3" fill="none" stroke="#000" stroke-width="1.1"/>
<circle cx="509.3" cy="99.6" r="1.3" fill="none" stroke="#000" stroke-width="1.1"/>
<circle cx="505.3" cy="101.6" r="1.3" fill="none" stroke="#000" stroke-width="1.1"/>
<circle cx="510.5" cy="102.2" r="1.3" fill="none" stroke="#000" stroke-width="1.1"/>
<circle cx="507.6" cy="103.3" r="1.3" fill="none" stroke="#000" stroke-width="1.1"/>
<circle cx="506.5" cy="105.6" r="1.3" fill="none" stroke="#000" stroke-width="1.1"/>
<circle cx="507.0" cy="107.3" r="1.3" fill="none" stroke="#000" stroke-width="1.1"/>
<line x1="464.3" y1="87.2" x2="475.3" y2="87.2" stroke="#000" stroke-width="1.4"/>
<line x1="482.2" y1="101" x2="494.9" y2="101" stroke="#000" stroke-width="1.4"/>
<line x1="502.4" y1="99.3" x2="512.2" y2="99.3" stroke="#000" stroke-width="1.4"/>
<rect x="458.6" y="136.1" width="58.89999999999998" height="103.70000000000002" fill="none" stroke="#000" stroke-width="1.2"/>
<line x1="456.6" y1="154.8" x2="458.6" y2="154.8" stroke="#000" stroke-width="1.1"/>
<text x="455.40000000000003" y="157.4" font-family='"Liberation Serif", serif' font-size="5" text-anchor="end" fill="#555">1</text>
<line x1="456.6" y1="170.9" x2="458.6" y2="170.9" stroke="#000" stroke-width="1.1"/>
<text x="455.40000000000003" y="173.5" font-family='"Liberation Serif", serif' font-size="5" text-anchor="end" fill="#555">0.8</text>
<line x1="456.6" y1="188.4" x2="458.6" y2="188.4" stroke="#000" stroke-width="1.1"/>
<text x="455.40000000000003" y="191.0" font-family='"Liberation Serif", serif' font-size="5" text-anchor="end" fill="#555">0.6</text>
<line x1="456.6" y1="205.7" x2="458.6" y2="205.7" stroke="#000" stroke-width="1.1"/>
<text x="455.40000000000003" y="208.29999999999998" font-family='"Liberation Serif", serif' font-size="5" text-anchor="end" fill="#555">0.4</text>
<line x1="456.6" y1="223" x2="458.6" y2="223" stroke="#000" stroke-width="1.1"/>
<text x="455.40000000000003" y="225.6" font-family='"Liberation Serif", serif' font-size="5" text-anchor="end" fill="#555">0.2</text>
<line x1="456.6" y1="240.3" x2="458.6" y2="240.3" stroke="#000" stroke-width="1.1"/>
<text x="455.40000000000003" y="242.9" font-family='"Liberation Serif", serif' font-size="5" text-anchor="end" fill="#555">0</text>
<path d="M457.1 162.07L460.1 164.93L460.1 167.82L457.1 164.97z" fill="#fff"/>
<path d="M456.2 160.42L463.6 167.45M454 162.83L462.5 170.90" stroke="#000" stroke-width="1.3"/>
<text transform="translate(445.3,195.8) rotate(-90)" font-family='"Liberation Serif", serif' font-size="8.4" font-weight="bold" textLength="8.100000000000023" lengthAdjust="spacingAndGlyphs">gB</text>
<circle cx="467.2" cy="152" r="1.3" fill="none" stroke="#000" stroke-width="1.1"/>
<circle cx="467.2" cy="210.2" r="1.3" fill="none" stroke="#000" stroke-width="1.1"/>
<circle cx="465.5" cy="221.3" r="1.3" fill="none" stroke="#000" stroke-width="1.1"/>
<circle cx="469.5" cy="221.3" r="1.3" fill="none" stroke="#000" stroke-width="1.1"/>
<circle cx="467.8" cy="225" r="1.3" fill="none" stroke="#000" stroke-width="1.1"/>
<circle cx="466.1" cy="230.8" r="1.3" fill="none" stroke="#000" stroke-width="1.1"/>
<circle cx="469.5" cy="231.3" r="1.3" fill="none" stroke="#000" stroke-width="1.1"/>
<circle cx="465.5" cy="234.2" r="1.3" fill="none" stroke="#000" stroke-width="1.1"/>
<circle cx="469.0" cy="234.2" r="1.3" fill="none" stroke="#000" stroke-width="1.1"/>
<circle cx="466.7" cy="237.7" r="1.3" fill="none" stroke="#000" stroke-width="1.1"/>
<circle cx="488.2" cy="218.1" r="1.3" fill="none" stroke="#000" stroke-width="1.1"/>
<circle cx="485.7" cy="221.5" r="1.3" fill="none" stroke="#000" stroke-width="1.1"/>
<circle cx="490.9" cy="221.5" r="1.3" fill="none" stroke="#000" stroke-width="1.1"/>
<circle cx="488.2" cy="223.8" r="1.3" fill="none" stroke="#000" stroke-width="1.1"/>
<circle cx="488.2" cy="226.7" r="1.3" fill="none" stroke="#000" stroke-width="1.1"/>
<circle cx="488.2" cy="229.6" r="1.3" fill="none" stroke="#000" stroke-width="1.1"/>
<circle cx="485.7" cy="232.5" r="1.3" fill="none" stroke="#000" stroke-width="1.1"/>
<circle cx="490.3" cy="232.5" r="1.3" fill="none" stroke="#000" stroke-width="1.1"/>
<circle cx="484.5" cy="234.8" r="1.3" fill="none" stroke="#000" stroke-width="1.1"/>
<circle cx="488.2" cy="235.4" r="1.3" fill="none" stroke="#000" stroke-width="1.1"/>
<circle cx="491.5" cy="235.2" r="1.3" fill="none" stroke="#000" stroke-width="1.1"/>
<circle cx="486.3" cy="237.1" r="1.3" fill="none" stroke="#000" stroke-width="1.1"/>
<circle cx="489.7" cy="237.5" r="1.3" fill="none" stroke="#000" stroke-width="1.1"/>
<circle cx="507.6" cy="185.5" r="1.3" fill="none" stroke="#000" stroke-width="1.1"/>
<circle cx="507.6" cy="190.4" r="1.3" fill="none" stroke="#000" stroke-width="1.1"/>
<circle cx="507.6" cy="200.8" r="1.3" fill="none" stroke="#000" stroke-width="1.1"/>
<circle cx="507.6" cy="205.4" r="1.3" fill="none" stroke="#000" stroke-width="1.1"/>
<circle cx="507.6" cy="214.6" r="1.3" fill="none" stroke="#000" stroke-width="1.1"/>
<circle cx="505.3" cy="222.5" r="1.3" fill="none" stroke="#000" stroke-width="1.1"/>
<circle cx="508.8" cy="227.3" r="1.3" fill="none" stroke="#000" stroke-width="1.1"/>
<circle cx="505.3" cy="229" r="1.3" fill="none" stroke="#000" stroke-width="1.1"/>
<circle cx="506.5" cy="231.3" r="1.3" fill="none" stroke="#000" stroke-width="1.1"/>
<circle cx="504.7" cy="232.5" r="1.3" fill="none" stroke="#000" stroke-width="1.1"/>
<circle cx="506.5" cy="234.2" r="1.3" fill="none" stroke="#000" stroke-width="1.1"/>
<circle cx="509.9" cy="234.2" r="1.3" fill="none" stroke="#000" stroke-width="1.1"/>
<line x1="463.2" y1="230.8" x2="473" y2="230.8" stroke="#000" stroke-width="1.4"/>
<line x1="481.7" y1="235.2" x2="493.8" y2="235.2" stroke="#000" stroke-width="1.4"/>
<line x1="501.3" y1="221.5" x2="512.2" y2="221.5" stroke="#000" stroke-width="1.4"/>
<rect x="458.6" y="261.8" width="58.89999999999998" height="104.0" fill="none" stroke="#000" stroke-width="1.2"/>
<line x1="456.6" y1="281.8" x2="458.6" y2="281.8" stroke="#000" stroke-width="1.1"/>
<text x="455.40000000000003" y="284.40000000000003" font-family='"Liberation Serif", serif' font-size="5" text-anchor="end" fill="#555">1</text>
<line x1="456.6" y1="297.1" x2="458.6" y2="297.1" stroke="#000" stroke-width="1.1"/>
<text x="455.40000000000003" y="299.70000000000005" font-family='"Liberation Serif", serif' font-size="5" text-anchor="end" fill="#555">0.8</text>
<line x1="456.6" y1="314.5" x2="458.6" y2="314.5" stroke="#000" stroke-width="1.1"/>
<text x="455.40000000000003" y="317.1" font-family='"Liberation Serif", serif' font-size="5" text-anchor="end" fill="#555">0.6</text>
<line x1="456.6" y1="331.3" x2="458.6" y2="331.3" stroke="#000" stroke-width="1.1"/>
<text x="455.40000000000003" y="333.90000000000003" font-family='"Liberation Serif", serif' font-size="5" text-anchor="end" fill="#555">0.4</text>
<line x1="456.6" y1="348.2" x2="458.6" y2="348.2" stroke="#000" stroke-width="1.1"/>
<text x="455.40000000000003" y="350.8" font-family='"Liberation Serif", serif' font-size="5" text-anchor="end" fill="#555">0.2</text>
<line x1="456.6" y1="365.8" x2="458.6" y2="365.8" stroke="#000" stroke-width="1.1"/>
<text x="455.40000000000003" y="368.40000000000003" font-family='"Liberation Serif", serif' font-size="5" text-anchor="end" fill="#555">0</text>
<path d="M457.1 289.18L460.1 292.03L460.1 294.93L457.1 292.07z" fill="#fff"/>
<path d="M456.2 287.52L463.6 294.55M454 289.93L462.5 298.00" stroke="#000" stroke-width="1.3"/>
<text transform="translate(446,326.9) rotate(-90)" font-family='"Liberation Serif", serif' font-size="8.4" font-weight="bold" textLength="21.69999999999999" lengthAdjust="spacingAndGlyphs">ORF65</text>
<circle cx="468.6" cy="271.3" r="1.3" fill="none" stroke="#000" stroke-width="1.1"/>
<circle cx="469.0" cy="311.9" r="1.3" fill="none" stroke="#000" stroke-width="1.1"/>
<circle cx="467.0" cy="332.7" r="1.3" fill="none" stroke="#000" stroke-width="1.1"/>
<circle cx="470.5" cy="332.7" r="1.3" fill="none" stroke="#000" stroke-width="1.1"/>
<circle cx="469.0" cy="338.7" r="1.3" fill="none" stroke="#000" stroke-width="1.1"/>
<circle cx="468.4" cy="343.6" r="1.3" fill="none" stroke="#000" stroke-width="1.1"/>
<circle cx="467.8" cy="345.6" r="1.3" fill="none" stroke="#000" stroke-width="1.1"/>
<circle cx="469.0" cy="351.3" r="1.3" fill="none" stroke="#000" stroke-width="1.1"/>
<circle cx="469.0" cy="356.2" r="1.3" fill="none" stroke="#000" stroke-width="1.1"/>
<circle cx="487.7" cy="331.4" r="1.3" fill="none" stroke="#000" stroke-width="1.1"/>
<circle cx="487.7" cy="337.3" r="1.3" fill="none" stroke="#000" stroke-width="1.1"/>
<circle cx="488.0" cy="343" r="1.3" fill="none" stroke="#000" stroke-width="1.1"/>
<circle cx="490.1" cy="343.8" r="1.3" fill="none" stroke="#000" stroke-width="1.1"/>
<circle cx="486.8" cy="345.6" r="1.3" fill="none" stroke="#000" stroke-width="1.1"/>
<circle cx="487.7" cy="348.5" r="1.3" fill="none" stroke="#000" stroke-width="1.1"/>
<circle cx="487.4" cy="354.2" r="1.3" fill="none" stroke="#000" stroke-width="1.1"/>
<circle cx="486.3" cy="357.7" r="1.3" fill="none" stroke="#000" stroke-width="1.1"/>
<circle cx="489.2" cy="359.4" r="1.3" fill="none" stroke="#000" stroke-width="1.1"/>
<circle cx="484.5" cy="361.2" r="1.3" fill="none" stroke="#000" stroke-width="1.1"/>
<circle cx="488.0" cy="362.3" r="1.3" fill="none" stroke="#000" stroke-width="1.1"/>
<circle cx="485.7" cy="364" r="1.3" fill="none" stroke="#000" stroke-width="1.1"/>
<circle cx="489.7" cy="364.6" r="1.3" fill="none" stroke="#000" stroke-width="1.1"/>
<circle cx="507.0" cy="309.5" r="1.3" fill="none" stroke="#000" stroke-width="1.1"/>
<circle cx="507.0" cy="316.5" r="1.3" fill="none" stroke="#000" stroke-width="1.1"/>
<circle cx="507.0" cy="331.4" r="1.3" fill="none" stroke="#000" stroke-width="1.1"/>
<circle cx="507.0" cy="338.4" r="1.3" fill="none" stroke="#000" stroke-width="1.1"/>
<circle cx="507.0" cy="341" r="1.3" fill="none" stroke="#000" stroke-width="1.1"/>
<circle cx="506.5" cy="349.6" r="1.3" fill="none" stroke="#000" stroke-width="1.1"/>
<circle cx="508.2" cy="351.7" r="1.3" fill="none" stroke="#000" stroke-width="1.1"/>
<circle cx="504.7" cy="356" r="1.3" fill="none" stroke="#000" stroke-width="1.1"/>
<circle cx="508.2" cy="356.8" r="1.3" fill="none" stroke="#000" stroke-width="1.1"/>
<circle cx="507.0" cy="360.6" r="1.3" fill="none" stroke="#000" stroke-width="1.1"/>
<line x1="463.2" y1="339.8" x2="474.2" y2="339.8" stroke="#000" stroke-width="1.4"/>
<line x1="482.2" y1="356.8" x2="493.8" y2="356.8" stroke="#000" stroke-width="1.4"/>
<line x1="501.3" y1="347.7" x2="512.2" y2="347.7" stroke="#000" stroke-width="1.4"/>
<rect x="458.6" y="389.4" width="58.89999999999998" height="102.80000000000001" fill="none" stroke="#000" stroke-width="1.2"/>
<line x1="456.6" y1="405.8" x2="458.6" y2="405.8" stroke="#000" stroke-width="1.1"/>
<text x="455.40000000000003" y="408.40000000000003" font-family='"Liberation Serif", serif' font-size="5" text-anchor="end" fill="#555">2</text>
<line x1="456.6" y1="423.2" x2="458.6" y2="423.2" stroke="#000" stroke-width="1.1"/>
<text x="455.40000000000003" y="425.8" font-family='"Liberation Serif", serif' font-size="5" text-anchor="end" fill="#555">1.6</text>
<line x1="456.6" y1="441.3" x2="458.6" y2="441.3" stroke="#000" stroke-width="1.1"/>
<text x="455.40000000000003" y="443.90000000000003" font-family='"Liberation Serif", serif' font-size="5" text-anchor="end" fill="#555">1.2</text>
<line x1="456.6" y1="459.1" x2="458.6" y2="459.1" stroke="#000" stroke-width="1.1"/>
<text x="455.40000000000003" y="461.70000000000005" font-family='"Liberation Serif", serif' font-size="5" text-anchor="end" fill="#555">0.8</text>
<line x1="456.6" y1="477" x2="458.6" y2="477" stroke="#000" stroke-width="1.1"/>
<text x="455.40000000000003" y="479.6" font-family='"Liberation Serif", serif' font-size="5" text-anchor="end" fill="#555">0.4</text>
<line x1="456.6" y1="492.5" x2="458.6" y2="492.5" stroke="#000" stroke-width="1.1"/>
<text x="455.40000000000003" y="495.1" font-family='"Liberation Serif", serif' font-size="5" text-anchor="end" fill="#555">0</text>
<text transform="translate(445.8,450) rotate(-90)" font-family='"Liberation Serif", serif' font-size="8.4" font-weight="bold" textLength="18.30000000000001" lengthAdjust="spacingAndGlyphs">ORF6</text>
<circle cx="469.0" cy="412.8" r="1.3" fill="none" stroke="#000" stroke-width="1.1"/>
<circle cx="469.0" cy="432.5" r="1.3" fill="none" stroke="#000" stroke-width="1.1"/>
<circle cx="469.0" cy="447.5" r="1.3" fill="none" stroke="#000" stroke-width="1.1"/>
<circle cx="469.0" cy="464.8" r="1.3" fill="none" stroke="#000" stroke-width="1.1"/>
<circle cx="469.0" cy="471.3" r="1.3" fill="none" stroke="#000" stroke-width="1.1"/>
<circle cx="468.4" cy="474.2" r="1.3" fill="none" stroke="#000" stroke-width="1.1"/>
<circle cx="467.8" cy="479.4" r="1.3" fill="none" stroke="#000" stroke-width="1.1"/>
<circle cx="470.1" cy="479.8" r="1.3" fill="none" stroke="#000" stroke-width="1.1"/>
<circle cx="469.0" cy="482.3" r="1.3" fill="none" stroke="#000" stroke-width="1.1"/>
<circle cx="469.0" cy="487.5" r="1.3" fill="none" stroke="#000" stroke-width="1.1"/>
<circle cx="469.0" cy="491" r="1.3" fill="none" stroke="#000" stroke-width="1.1"/>
<circle cx="488.6" cy="468.2" r="1.3" fill="none" stroke="#000" stroke-width="1.1"/>
<circle cx="488.6" cy="473.1" r="1.3" fill="none" stroke="#000" stroke-width="1.1"/>
<circle cx="488.6" cy="477.5" r="1.3" fill="none" stroke="#000" stroke-width="1.1"/>
<circle cx="488.6" cy="480.6" r="1.3" fill="none" stroke="#000" stroke-width="1.1"/>
<circle cx="486.6" cy="482.1" r="1.3" fill="none" stroke="#000" stroke-width="1.1"/>
<circle cx="488.2" cy="484.6" r="1.3" fill="none" stroke="#000" stroke-width="1.1"/>
<circle cx="485.7" cy="486.9" r="1.3" fill="none" stroke="#000" stroke-width="1.1"/>
<circle cx="490.3" cy="487.2" r="1.3" fill="none" stroke="#000" stroke-width="1.1"/>
<circle cx="492.6" cy="487.8" r="1.3" fill="none" stroke="#000" stroke-width="1.1"/>
<circle cx="484.5" cy="489.2" r="1.3" fill="none" stroke="#000" stroke-width="1.1"/>
<circle cx="487.4" cy="489.8" r="1.3" fill="none" stroke="#000" stroke-width="1.1"/>
<circle cx="490.9" cy="490.2" r="1.3" fill="none" stroke="#000" stroke-width="1.1"/>
<circle cx="508.2" cy="452.1" r="1.3" fill="none" stroke="#000" stroke-width="1.1"/>
<circle cx="509.7" cy="469" r="1.3" fill="none" stroke="#000" stroke-width="1.1"/>
<circle cx="505.9" cy="471.7" r="1.3" fill="none" stroke="#000" stroke-width="1.1"/>
<circle cx="509.3" cy="473.1" r="1.3" fill="none" stroke="#000" stroke-width="1.1"/>
<circle cx="508.5" cy="477.5" r="1.3" fill="none" stroke="#000" stroke-width="1.1"/>
<circle cx="506.5" cy="482.9" r="1.3" fill="none" stroke="#000" stroke-width="1.1"/>
<circle cx="510.5" cy="484.4" r="1.3" fill="none" stroke="#000" stroke-width="1.1"/>
<circle cx="508.8" cy="487.2" r="1.3" fill="none" stroke="#000" stroke-width="1.1"/>
<circle cx="508.2" cy="491" r="1.3" fill="none" stroke="#000" stroke-width="1.1"/>
<line x1="463.8" y1="474" x2="475.3" y2="474" stroke="#000" stroke-width="1.4"/>
<line x1="482.8" y1="487.8" x2="494.9" y2="487.8" stroke="#000" stroke-width="1.4"/>
<line x1="503.6" y1="479.8" x2="514.5" y2="479.8" stroke="#000" stroke-width="1.4"/>
<rect x="458.6" y="514.4" width="58.89999999999998" height="104.30000000000007" fill="none" stroke="#000" stroke-width="1.2"/>
<line x1="456.6" y1="532.2" x2="458.6" y2="532.2" stroke="#000" stroke-width="1.1"/>
<text x="455.40000000000003" y="534.8000000000001" font-family='"Liberation Serif", serif' font-size="5" text-anchor="end" fill="#555">2</text>
<line x1="456.6" y1="550" x2="458.6" y2="550" stroke="#000" stroke-width="1.1"/>
<text x="455.40000000000003" y="552.6" font-family='"Liberation Serif", serif' font-size="5" text-anchor="end" fill="#555">1.6</text>
<line x1="456.6" y1="567.7" x2="458.6" y2="567.7" stroke="#000" stroke-width="1.1"/>
<text x="455.40000000000003" y="570.3000000000001" font-family='"Liberation Serif", serif' font-size="5" text-anchor="end" fill="#555">1.2</text>
<line x1="456.6" y1="584.6" x2="458.6" y2="584.6" stroke="#000" stroke-width="1.1"/>
<text x="455.40000000000003" y="587.2" font-family='"Liberation Serif", serif' font-size="5" text-anchor="end" fill="#555">0.8</text>
<line x1="456.6" y1="602.3" x2="458.6" y2="602.3" stroke="#000" stroke-width="1.1"/>
<text x="455.40000000000003" y="604.9" font-family='"Liberation Serif", serif' font-size="5" text-anchor="end" fill="#555">0.4</text>
<line x1="456.6" y1="619.3" x2="458.6" y2="619.3" stroke="#000" stroke-width="1.1"/>
<text x="455.40000000000003" y="621.9" font-family='"Liberation Serif", serif' font-size="5" text-anchor="end" fill="#555">0</text>
<text transform="translate(445.8,577.9) rotate(-90)" font-family='"Liberation Serif", serif' font-size="8.4" font-weight="bold" textLength="20.799999999999955" lengthAdjust="spacingAndGlyphs">ORF61</text>
<circle cx="467.2" cy="571.2" r="1.3" fill="none" stroke="#000" stroke-width="1.1"/>
<circle cx="467.7" cy="598.8" r="1.3" fill="none" stroke="#000" stroke-width="1.1"/>
<circle cx="465.5" cy="602.3" r="1.3" fill="none" stroke="#000" stroke-width="1.1"/>
<circle cx="469.5" cy="603.2" r="1.3" fill="none" stroke="#000" stroke-width="1.1"/>
<circle cx="468.0" cy="605.8" r="1.3" fill="none" stroke="#000" stroke-width="1.1"/>
<circle cx="466.3" cy="610.6" r="1.3" fill="none" stroke="#000" stroke-width="1.1"/>
<circle cx="469.8" cy="611.3" r="1.3" fill="none" stroke="#000" stroke-width="1.1"/>
<circle cx="465.5" cy="614.4" r="1.3" fill="none" stroke="#000" stroke-width="1.1"/>
<circle cx="469.0" cy="615.3" r="1.3" fill="none" stroke="#000" stroke-width="1.1"/>
<circle cx="467.2" cy="617" r="1.3" fill="none" stroke="#000" stroke-width="1.1"/>
<circle cx="489.7" cy="608.4" r="1.3" fill="none" stroke="#000" stroke-width="1.1"/>
<circle cx="486.2" cy="610.1" r="1.3" fill="none" stroke="#000" stroke-width="1.1"/>
<circle cx="488.8" cy="611.3" r="1.3" fill="none" stroke="#000" stroke-width="1.1"/>
<circle cx="484.5" cy="613.6" r="1.3" fill="none" stroke="#000" stroke-width="1.1"/>
<circle cx="488.0" cy="614.4" r="1.3" fill="none" stroke="#000" stroke-width="1.1"/>
<circle cx="490.6" cy="615.3" r="1.3" fill="none" stroke="#000" stroke-width="1.1"/>
<circle cx="485.4" cy="616.1" r="1.3" fill="none" stroke="#000" stroke-width="1.1"/>
<circle cx="488.8" cy="617" r="1.3" fill="none" stroke="#000" stroke-width="1.1"/>
<circle cx="505.3" cy="603.2" r="1.3" fill="none" stroke="#000" stroke-width="1.1"/>
<circle cx="508.7" cy="602.3" r="1.3" fill="none" stroke="#000" stroke-width="1.1"/>
<circle cx="509.6" cy="605.8" r="1.3" fill="none" stroke="#000" stroke-width="1.1"/>
<circle cx="506.2" cy="610.1" r="1.3" fill="none" stroke="#000" stroke-width="1.1"/>
<circle cx="508.7" cy="611.3" r="1.3" fill="none" stroke="#000" stroke-width="1.1"/>
<circle cx="504.4" cy="614.4" r="1.3" fill="none" stroke="#000" stroke-width="1.1"/>
<circle cx="507.9" cy="615.3" r="1.3" fill="none" stroke="#000" stroke-width="1.1"/>
<circle cx="506.2" cy="617" r="1.3" fill="none" stroke="#000" stroke-width="1.1"/>
<line x1="461.5" y1="610.1" x2="472.9" y2="610.1" stroke="#000" stroke-width="1.4"/>
<line x1="481.9" y1="614.4" x2="493.2" y2="614.4" stroke="#000" stroke-width="1.4"/>
<line x1="502.7" y1="611.8" x2="513.9" y2="611.8" stroke="#000" stroke-width="1.4"/>
<rect x="458.6" y="640.5" width="58.89999999999998" height="105.5" fill="none" stroke="#000" stroke-width="1.2"/>
<line x1="456.6" y1="642" x2="458.6" y2="642" stroke="#000" stroke-width="1.1"/>
<text x="455.40000000000003" y="644.6" font-family='"Liberation Serif", serif' font-size="5" text-anchor="end" fill="#555">14</text>
<line x1="456.6" y1="656" x2="458.6" y2="656" stroke="#000" stroke-width="1.1"/>
<text x="455.40000000000003" y="658.6" font-family='"Liberation Serif", serif' font-size="5" text-anchor="end" fill="#555">12</text>
<line x1="456.6" y1="671.3" x2="458.6" y2="671.3" stroke="#000" stroke-width="1.1"/>
<text x="455.40000000000003" y="673.9" font-family='"Liberation Serif", serif' font-size="5" text-anchor="end" fill="#555">10</text>
<line x1="456.6" y1="686.6" x2="458.6" y2="686.6" stroke="#000" stroke-width="1.1"/>
<text x="455.40000000000003" y="689.2" font-family='"Liberation Serif", serif' font-size="5" text-anchor="end" fill="#555">8</text>
<line x1="456.6" y1="701.6" x2="458.6" y2="701.6" stroke="#000" stroke-width="1.1"/>
<text x="455.40000000000003" y="704.2" font-family='"Liberation Serif", serif' font-size="5" text-anchor="end" fill="#555">6</text>
<line x1="456.6" y1="716.3" x2="458.6" y2="716.3" stroke="#000" stroke-width="1.1"/>
<text x="455.40000000000003" y="718.9" font-family='"Liberation Serif", serif' font-size="5" text-anchor="end" fill="#555">4</text>
<line x1="456.6" y1="732" x2="458.6" y2="732" stroke="#000" stroke-width="1.1"/>
<text x="455.40000000000003" y="734.6" font-family='"Liberation Serif", serif' font-size="5" text-anchor="end" fill="#555">2</text>
<line x1="456.6" y1="746" x2="458.6" y2="746" stroke="#000" stroke-width="1.1"/>
<text x="455.40000000000003" y="748.6" font-family='"Liberation Serif", serif' font-size="5" text-anchor="end" fill="#555">0</text>
<text transform="translate(445.2,700.7) rotate(-90)" font-family='"Liberation Serif", serif' font-size="8.4" font-weight="bold" textLength="16.40000000000009" lengthAdjust="spacingAndGlyphs">CMV</text>
<circle cx="467.8" cy="649.1" r="1.3" fill="none" stroke="#000" stroke-width="1.1"/>
<circle cx="467.8" cy="724.1" r="1.3" fill="none" stroke="#000" stroke-width="1.1"/>
<circle cx="467.8" cy="733.2" r="1.3" fill="none" stroke="#000" stroke-width="1.1"/>
<circle cx="465.7" cy="741.2" r="1.3" fill="none" stroke="#000" stroke-width="1.1"/>
<circle cx="469.9" cy="741.2" r="1.3" fill="none" stroke="#000" stroke-width="1.1"/>
<circle cx="464.3" cy="743.5" r="1.3" fill="none" stroke="#000" stroke-width="1.1"/>
<circle cx="467.8" cy="743.7" r="1.3" fill="none" stroke="#000" stroke-width="1.1"/>
<circle cx="472.0" cy="742.6" r="1.3" fill="none" stroke="#000" stroke-width="1.1"/>
<circle cx="487.4" cy="694" r="1.3" fill="none" stroke="#000" stroke-width="1.1"/>
<circle cx="487.4" cy="700.6" r="1.3" fill="none" stroke="#000" stroke-width="1.1"/>
<circle cx="486.0" cy="703.1" r="1.3" fill="none" stroke="#000" stroke-width="1.1"/>
<circle cx="488.8" cy="705.6" r="1.3" fill="none" stroke="#000" stroke-width="1.1"/>
<circle cx="488.1" cy="713.2" r="1.3" fill="none" stroke="#000" stroke-width="1.1"/>
<circle cx="486.0" cy="715" r="1.3" fill="none" stroke="#000" stroke-width="1.1"/>
<circle cx="487.4" cy="718.5" r="1.3" fill="none" stroke="#000" stroke-width="1.1"/>
<circle cx="487.4" cy="722" r="1.3" fill="none" stroke="#000" stroke-width="1.1"/>
<circle cx="486.0" cy="725.2" r="1.3" fill="none" stroke="#000" stroke-width="1.1"/>
<circle cx="488.8" cy="725.2" r="1.3" fill="none" stroke="#000" stroke-width="1.1"/>
<circle cx="485.3" cy="736" r="1.3" fill="none" stroke="#000" stroke-width="1.1"/>
<circle cx="488.1" cy="736.7" r="1.3" fill="none" stroke="#000" stroke-width="1.1"/>
<circle cx="486.7" cy="739.8" r="1.3" fill="none" stroke="#000" stroke-width="1.1"/>
<circle cx="486.0" cy="741.6" r="1.3" fill="none" stroke="#000" stroke-width="1.1"/>
<circle cx="489.5" cy="742.3" r="1.3" fill="none" stroke="#000" stroke-width="1.1"/>
<circle cx="487.4" cy="744.4" r="1.3" fill="none" stroke="#000" stroke-width="1.1"/>
<circle cx="507.1" cy="711.2" r="1.3" fill="none" stroke="#000" stroke-width="1.1"/>
<circle cx="507.1" cy="723.8" r="1.3" fill="none" stroke="#000" stroke-width="1.1"/>
<circle cx="507.1" cy="727.6" r="1.3" fill="none" stroke="#000" stroke-width="1.1"/>
<circle cx="509.6" cy="731.1" r="1.3" fill="none" stroke="#000" stroke-width="1.1"/>
<circle cx="506.4" cy="734.2" r="1.3" fill="none" stroke="#000" stroke-width="1.1"/>
<circle cx="509.9" cy="736" r="1.3" fill="none" stroke="#000" stroke-width="1.1"/>
<circle cx="506.4" cy="742.1" r="1.3" fill="none" stroke="#000" stroke-width="1.1"/>
<circle cx="510.6" cy="744.4" r="1.3" fill="none" stroke="#000" stroke-width="1.1"/>
<line x1="462.9" y1="741.2" x2="474.1" y2="741.2" stroke="#000" stroke-width="1.4"/>
<line x1="481.1" y1="736.7" x2="493.7" y2="736.7" stroke="#000" stroke-width="1.4"/>
<line x1="502.2" y1="734.6" x2="513.4" y2="734.6" stroke="#000" stroke-width="1.4"/>
<text transform="translate(470,750.2) rotate(-59)" font-family='"Liberation Serif", serif' font-size="8.5" font-weight="bold" text-anchor="end">Transplant</text>
<text transform="translate(491.8,750.5) rotate(-59)" font-family='"Liberation Serif", serif' font-size="8.5" font-weight="bold" text-anchor="end">AIDS</text>
<text transform="translate(512.3,750.5) rotate(-59)" font-family='"Liberation Serif", serif' font-size="8.5" font-weight="bold" text-anchor="end">Classic</text>
<text id="t0" x="0.59" y="43.40" font-family='"Liberation Sans", sans-serif' font-size="19.50" font-weight="bold" textLength="14.94" lengthAdjust="spacingAndGlyphs">A</text>
<text id="t1" x="286.47" y="14.40" font-family='"Liberation Sans", sans-serif' font-size="19.50" font-weight="bold" textLength="13.40" lengthAdjust="spacingAndGlyphs">B</text>
<text id="t2" x="0.36" y="314.56" font-family='"Liberation Sans", sans-serif' font-size="19.50" font-weight="bold" textLength="13.82" lengthAdjust="spacingAndGlyphs">C</text>
<text id="t3" x="45.05" y="214.22" font-family='"Liberation Sans", sans-serif' font-size="8.70" font-weight="normal" textLength="15.55" lengthAdjust="spacingAndGlyphs">K12</text>
<text id="t4" x="81.12" y="213.77" font-family='"Liberation Sans", sans-serif' font-size="8.70" font-weight="normal" textLength="10.94" lengthAdjust="spacingAndGlyphs">gB</text>
<text id="t5" x="115.35" y="213.76" font-family='"Liberation Sans", sans-serif' font-size="8.70" font-weight="normal" textLength="27.55" lengthAdjust="spacingAndGlyphs">ORF65</text>
<text id="t6" x="159.33" y="214.15" font-family='"Liberation Sans", sans-serif' font-size="8.70" font-weight="normal" textLength="23.02" lengthAdjust="spacingAndGlyphs">ORF6</text>
<text id="t7" x="200.35" y="213.56" font-family='"Liberation Sans", sans-serif' font-size="8.70" font-weight="normal" textLength="27.52" lengthAdjust="spacingAndGlyphs">ORF61</text>
<text id="t8" x="244.10" y="213.93" font-family='"Liberation Sans", sans-serif' font-size="8.70" font-weight="normal" textLength="19.64" lengthAdjust="spacingAndGlyphs">CMV</text>
<text id="t9" x="38.37" y="225.76" font-family='"Liberation Sans", sans-serif' font-size="8.70" font-weight="normal" textLength="29.23" lengthAdjust="spacingAndGlyphs"><tspan font-style="italic">P</tspan>=.008</text>
<text id="t10" x="79.54" y="226.14" font-family='"Liberation Sans", sans-serif' font-size="8.70" font-weight="normal" textLength="17.19" lengthAdjust="spacingAndGlyphs">0.02</text>
<text id="t11" x="119.51" y="225.88" font-family='"Liberation Sans", sans-serif' font-size="8.70" font-weight="normal" textLength="22.19" lengthAdjust="spacingAndGlyphs">0.004</text>
<text id="t12" x="160.00" y="226.27" font-family='"Liberation Sans", sans-serif' font-size="8.70" font-weight="normal" textLength="21.72" lengthAdjust="spacingAndGlyphs">0.004</text>
<text id="t13" x="202.25" y="226.07" font-family='"Liberation Sans", sans-serif' font-size="8.70" font-weight="normal" textLength="21.74" lengthAdjust="spacingAndGlyphs">0.005</text>
<text id="t14" x="244.60" y="226.37" font-family='"Liberation Sans", sans-serif' font-size="8.70" font-weight="normal" textLength="18.04" lengthAdjust="spacingAndGlyphs">0.86</text>
<text id="t15" x="45.77" y="482.69" font-family='"Liberation Sans", sans-serif' font-size="8.40" font-weight="normal" textLength="16.05" lengthAdjust="spacingAndGlyphs">K12</text>
<text id="t16" x="84.94" y="482.29" font-family='"Liberation Sans", sans-serif' font-size="8.40" font-weight="normal" textLength="11.60" lengthAdjust="spacingAndGlyphs">gB</text>
<text id="t17" x="119.12" y="482.40" font-family='"Liberation Sans", sans-serif' font-size="8.40" font-weight="normal" textLength="27.98" lengthAdjust="spacingAndGlyphs">ORF65</text>
<text id="t18" x="162.11" y="482.54" font-family='"Liberation Sans", sans-serif' font-size="8.40" font-weight="normal" textLength="24.34" lengthAdjust="spacingAndGlyphs">ORF6</text>
<text id="t19" x="204.34" y="482.84" font-family='"Liberation Sans", sans-serif' font-size="8.40" font-weight="normal" textLength="27.24" lengthAdjust="spacingAndGlyphs">ORF61</text>
<text id="t20" x="247.76" y="482.42" font-family='"Liberation Sans", sans-serif' font-size="8.40" font-weight="normal" textLength="18.96" lengthAdjust="spacingAndGlyphs">CMV</text>
<text id="t21" x="33.14" y="494.97" font-family='"Liberation Sans", sans-serif' font-size="8.90" font-weight="normal" textLength="31.57" lengthAdjust="spacingAndGlyphs"><tspan font-style="italic">P</tspan> = 0.06</text>
<text id="t22" x="82.58" y="494.61" font-family='"Liberation Sans", sans-serif' font-size="8.90" font-weight="normal" textLength="17.15" lengthAdjust="spacingAndGlyphs">0.05</text>
<text id="t23" x="123.70" y="495.54" font-family='"Liberation Sans", sans-serif' font-size="8.90" font-weight="normal" textLength="21.09" lengthAdjust="spacingAndGlyphs">0.006</text>
<text id="t24" x="165.42" y="495.56" font-family='"Liberation Sans", sans-serif' font-size="8.90" font-weight="normal" textLength="22.21" lengthAdjust="spacingAndGlyphs">0.003</text>
<text id="t25" x="210.04" y="494.52" font-family='"Liberation Sans", sans-serif' font-size="8.90" font-weight="normal" textLength="17.16" lengthAdjust="spacingAndGlyphs">0.02</text>
<text id="t26" x="249.97" y="494.65" font-family='"Liberation Sans", sans-serif' font-size="8.90" font-weight="normal" textLength="12.36" lengthAdjust="spacingAndGlyphs">0.7</text>
<text id="t27" x="366.61" y="18.50" font-family='"Liberation Serif", serif' font-size="8.10" font-weight="bold" textLength="13.24" lengthAdjust="spacingAndGlyphs">k12</text>
<text id="t28" x="368.34" y="142.63" font-family='"Liberation Serif", serif' font-size="8.10" font-weight="bold" textLength="9.90" lengthAdjust="spacingAndGlyphs">gB</text>
<text id="t29" x="360.37" y="269.20" font-family='"Liberation Serif", serif' font-size="8.10" font-weight="bold" textLength="25.18" lengthAdjust="spacingAndGlyphs">ORF65</text>
<text id="t30" x="361.67" y="397.60" font-family='"Liberation Serif", serif' font-size="8.10" font-weight="bold" textLength="21.68" lengthAdjust="spacingAndGlyphs">ORF6</text>
<text id="t31" x="359.46" y="522.66" font-family='"Liberation Serif", serif' font-size="8.10" font-weight="bold" textLength="25.51" lengthAdjust="spacingAndGlyphs">ORF61</text>
<text id="t32" x="363.06" y="648.27" font-family='"Liberation Serif", serif' font-size="8.10" font-weight="bold" textLength="19.64" lengthAdjust="spacingAndGlyphs">CMV</text>
<text id="t33" x="332.22" y="35.57" font-family='"Liberation Serif", serif' font-size="7.40" font-weight="bold" textLength="18.28" lengthAdjust="spacingAndGlyphs">UPN5</text>
<text id="t34" x="333.35" y="160.50" font-family='"Liberation Serif", serif' font-size="7.40" font-weight="bold" textLength="21.85" lengthAdjust="spacingAndGlyphs">UPN45</text>
<text id="t35" x="331.77" y="285.99" font-family='"Liberation Serif", serif' font-size="7.40" font-weight="bold" textLength="18.88" lengthAdjust="spacingAndGlyphs">UPN6</text>
<text id="t36" x="332.26" y="414.75" font-family='"Liberation Serif", serif' font-size="7.40" font-weight="bold" textLength="18.11" lengthAdjust="spacingAndGlyphs">UPN8</text>
<text id="t37" x="332.42" y="538.40" font-family='"Liberation Serif", serif' font-size="7.40" font-weight="bold" textLength="22.56" lengthAdjust="spacingAndGlyphs">UPN26</text>
<text id="t38" x="330.67" y="665.30" font-family='"Liberation Serif", serif' font-size="7.40" font-weight="bold" textLength="21.85" lengthAdjust="spacingAndGlyphs">UPN28</text>
<text id="t39" x="396.95" y="35.06" font-family='"Liberation Serif", serif' font-size="7.60" font-weight="bold" textLength="20.15" lengthAdjust="spacingAndGlyphs">0.31%</text>
<text id="t40" x="398.05" y="160.11" font-family='"Liberation Serif", serif' font-size="7.60" font-weight="bold" textLength="19.01" lengthAdjust="spacingAndGlyphs">0.40%</text>
<text id="t41" x="397.59" y="286.49" font-family='"Liberation Serif", serif' font-size="7.60" font-weight="bold" textLength="19.58" lengthAdjust="spacingAndGlyphs">0.38%</text>
<text id="t42" x="393.97" y="415.36" font-family='"Liberation Serif", serif' font-size="7.60" font-weight="bold" textLength="19.83" lengthAdjust="spacingAndGlyphs">0.65%</text>
<text id="t43" x="398.43" y="538.40" font-family='"Liberation Serif", serif' font-size="7.60" font-weight="bold" textLength="18.58" lengthAdjust="spacingAndGlyphs">0.24%</text>
<text id="t44" x="395.39" y="665.08" font-family='"Liberation Serif", serif' font-size="7.60" font-weight="bold" textLength="20.10" lengthAdjust="spacingAndGlyphs">4.38%</text>
<text id="t45" x="476.68" y="7.97" font-family='"Liberation Serif", serif' font-size="8.00" font-weight="bold" textLength="26.96" lengthAdjust="spacingAndGlyphs"><tspan font-style="italic">P</tspan>=.007</text>
<text id="t46" x="476.66" y="133.00" font-family='"Liberation Serif", serif' font-size="8.00" font-weight="bold" textLength="26.79" lengthAdjust="spacingAndGlyphs"><tspan font-style="italic">P</tspan>=.002</text>
<text id="t47" x="475.50" y="259.56" font-family='"Liberation Serif", serif' font-size="8.00" font-weight="bold" textLength="27.25" lengthAdjust="spacingAndGlyphs"><tspan font-style="italic">P</tspan>=.001</text>
<text id="t48" x="476.65" y="386.13" font-family='"Liberation Serif", serif' font-size="8.00" font-weight="bold" textLength="26.57" lengthAdjust="spacingAndGlyphs"><tspan font-style="italic">P</tspan>=.007</text>
<text id="t49" x="475.55" y="511.36" font-family='"Liberation Serif", serif' font-size="8.00" font-weight="bold" textLength="26.89" lengthAdjust="spacingAndGlyphs"><tspan font-style="italic">P</tspan>=.001</text>
<text id="t50" x="475.95" y="637.58" font-family='"Liberation Serif", serif' font-size="8.00" font-weight="bold" textLength="22.43" lengthAdjust="spacingAndGlyphs"><tspan font-style="italic">P</tspan>=.19</text>
</svg></body></html>
